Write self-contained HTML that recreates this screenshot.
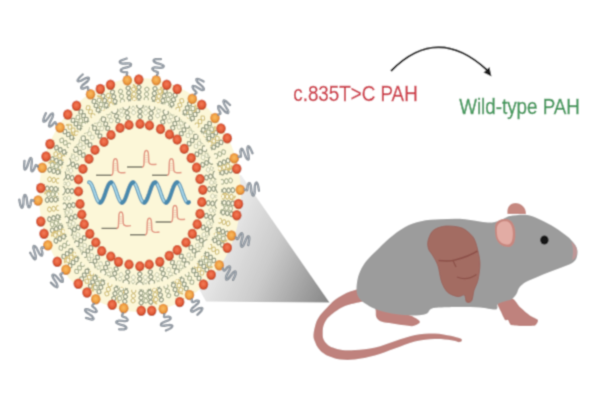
<!DOCTYPE html>
<html><head><meta charset="utf-8"><title>LNP PAH</title>
<style>html,body{margin:0;padding:0;background:#fff;width:600px;height:400px;overflow:hidden}svg{display:block}</style>
</head><body><svg width="600" height="400" viewBox="0 0 600 400"><defs><filter id="bl" x="0" y="0" width="600" height="400" filterUnits="userSpaceOnUse"><feConvolveMatrix order="3" kernelMatrix="1 4 1 4 12 4 1 4 1" divisor="32" edgeMode="duplicate"/></filter><linearGradient id="cone" x1="215" y1="240" x2="332" y2="290" gradientUnits="userSpaceOnUse"><stop offset="0" stop-color="#ececec"/><stop offset="0.45" stop-color="#cbcbcb"/><stop offset="1" stop-color="#888888"/></linearGradient><radialGradient id="dotR" cx="0.48" cy="0.45" r="0.55"><stop offset="0" stop-color="#f47c58"/><stop offset="0.55" stop-color="#e45f3b"/><stop offset="0.85" stop-color="#cc4e2c"/><stop offset="1" stop-color="#b54624"/></radialGradient><radialGradient id="dotL" cx="0.48" cy="0.45" r="0.55"><stop offset="0" stop-color="#f9bc62"/><stop offset="0.55" stop-color="#f0a044"/><stop offset="0.85" stop-color="#de8a32"/><stop offset="1" stop-color="#c8782a"/></radialGradient></defs><g filter="url(#bl)"><rect width="600" height="400" fill="#fff"/><polygon points="241,175 329.5,302.5 206,301.5 150,200" fill="url(#cone)"/><ellipse cx="140.0" cy="195.0" rx="101" ry="117" fill="#fcf7d8"/><g stroke-linejoin="round"><polyline points="138.9,84.8 138.9,85.8 138.9,86.8 138.9,87.7 138.9,88.7 138.9,89.7 138.9,90.7 138.9,91.7 138.9,92.6 138.9,93.6 139.0,94.6 139.0,95.6 139.0,96.6 139.0,97.5 139.0,98.5 139.0,99.5 139.0,100.5" fill="none" stroke="#fdf9e2" stroke-width="4.2"/><polyline points="138.9,84.8 140.2,85.8 141.0,86.7 141.0,87.7 140.2,88.7 138.9,89.7 137.6,90.7 136.8,91.7 136.9,92.7 137.7,93.6 139.0,94.6 140.3,95.6 141.1,96.5 141.1,97.5 140.2,98.5 138.9,99.5 137.6,100.5" fill="none" stroke="#939c82" stroke-width="1.25"/><polyline points="138.9,84.8 137.6,85.8 136.8,86.8 136.8,87.8 137.6,88.7 138.9,89.7 140.2,90.7 141.0,91.6 141.0,92.6 140.2,93.6 138.9,94.6 137.6,95.6 136.9,96.6 136.9,97.6 137.8,98.5 139.1,99.5 140.4,100.4" fill="none" stroke="#939c82" stroke-width="1.25"/><polyline points="127.9,85.7 128.0,86.7 128.1,87.6 128.2,88.6 128.3,89.6 128.4,90.6 128.6,91.5 128.7,92.5 128.8,93.5 128.9,94.4 129.0,95.4 129.1,96.4 129.2,97.3 129.3,98.3 129.4,99.3 129.5,100.3 129.6,101.2" fill="none" stroke="#fdf9e2" stroke-width="4.2"/><polyline points="127.9,85.7 129.3,86.5 130.2,87.3 130.3,88.3 129.6,89.4 128.4,90.6 127.2,91.7 126.6,92.8 126.7,93.8 127.6,94.6 129.0,95.4 130.4,96.2 131.3,97.0 131.4,98.0 130.6,99.1 129.4,100.3 128.3,101.4" fill="none" stroke="#939c82" stroke-width="1.25"/><polyline points="127.9,85.7 126.7,86.9 126.0,87.9 126.2,88.9 127.1,89.8 128.5,90.5 129.9,91.3 130.7,92.2 130.8,93.2 130.1,94.2 128.9,95.4 127.8,96.6 127.1,97.7 127.3,98.6 128.2,99.5 129.6,100.2 131.0,101.0" fill="none" stroke="#939c82" stroke-width="1.25"/><polyline points="133.6,85.1 134.9,86.2 135.8,87.4 136.2,88.6 135.9,89.9 135.1,91.2 134.0,92.6 132.9,93.9 132.1,95.2 131.8,96.5 132.2,97.8 133.2,98.9 134.5,100.1" fill="none" stroke="#dcc277" stroke-width="1.9" stroke-linecap="round"/><polyline points="111.8,89.8 112.1,90.7 112.3,91.6 112.6,92.6 112.8,93.5 113.1,94.4 113.3,95.4 113.6,96.3 113.8,97.2 114.1,98.2 114.3,99.1 114.6,100.0 114.8,101.0 115.1,101.9 115.3,102.8 115.6,103.8 115.8,104.7" fill="none" stroke="#fdf9e2" stroke-width="4.2"/><polyline points="111.8,89.8 113.3,90.2 114.3,90.9 114.6,91.8 114.1,93.1 113.1,94.4 112.1,95.8 111.6,97.0 111.9,97.9 112.9,98.6 114.4,99.1 115.9,99.6 116.9,100.2 117.1,101.2 116.5,102.4 115.5,103.8 114.5,105.2" fill="none" stroke="#939c82" stroke-width="1.25"/><polyline points="111.8,89.8 110.8,91.1 110.3,92.3 110.6,93.3 111.6,93.9 113.1,94.4 114.6,94.9 115.6,95.6 115.8,96.5 115.3,97.7 114.3,99.1 113.3,100.5 112.8,101.7 113.1,102.6 114.2,103.3 115.7,103.7 117.2,104.2" fill="none" stroke="#939c82" stroke-width="1.25"/><polyline points="102.1,93.9 102.5,94.8 102.8,95.7 103.2,96.6 103.5,97.5 103.8,98.4 104.2,99.3 104.5,100.2 104.8,101.1 105.2,102.0 105.5,102.9 105.8,103.8 106.2,104.7 106.5,105.6 106.9,106.5 107.2,107.4 107.5,108.3" fill="none" stroke="#fdf9e2" stroke-width="4.2"/><polyline points="102.1,93.9 103.7,94.2 104.7,94.8 105.1,95.7 104.7,96.9 103.8,98.4 102.9,99.9 102.6,101.2 102.9,102.1 104.0,102.6 105.6,102.9 107.1,103.2 108.1,103.7 108.4,104.6 108.0,105.9 107.1,107.4 106.3,108.9" fill="none" stroke="#939c82" stroke-width="1.25"/><polyline points="102.1,93.9 101.3,95.4 100.9,96.7 101.2,97.6 102.3,98.1 103.9,98.4 105.4,98.7 106.4,99.2 106.7,100.1 106.3,101.4 105.5,102.9 104.6,104.4 104.2,105.7 104.6,106.6 105.7,107.1 107.3,107.3 108.8,107.7" fill="none" stroke="#939c82" stroke-width="1.25"/><polyline points="93.0,99.2 93.4,100.1 93.8,100.9 94.2,101.8 94.6,102.6 95.1,103.5 95.5,104.3 95.9,105.2 96.3,106.0 96.7,106.9 97.2,107.8 97.6,108.6 98.0,109.5 98.4,110.3 98.8,111.2 99.2,112.0 99.7,112.9" fill="none" stroke="#fdf9e2" stroke-width="4.2"/><polyline points="93.0,99.2 94.5,99.4 95.6,99.7 96.0,100.6 95.8,101.9 95.0,103.5 94.3,105.1 94.1,106.4 94.5,107.2 95.7,107.6 97.2,107.7 98.7,107.8 99.8,108.2 100.2,109.1 99.9,110.5 99.2,112.1 98.5,113.6" fill="none" stroke="#939c82" stroke-width="1.25"/><polyline points="93.0,99.2 92.3,100.8 92.0,102.2 92.4,103.0 93.5,103.4 95.1,103.5 96.6,103.6 97.7,104.0 98.1,104.9 97.8,106.2 97.1,107.8 96.4,109.4 96.2,110.7 96.6,111.5 97.8,111.9 99.3,111.9 100.9,112.1" fill="none" stroke="#939c82" stroke-width="1.25"/><polyline points="98.0,96.1 99.6,96.7 100.8,97.3 101.6,98.3 101.8,99.6 101.5,101.2 100.9,102.9 100.3,104.7 100.0,106.2 100.2,107.5 100.9,108.5 102.2,109.2 103.8,109.7" fill="none" stroke="#dcc277" stroke-width="1.9" stroke-linecap="round"/><polyline points="79.5,110.0 80.1,110.8 80.6,111.5 81.1,112.3 81.7,113.0 82.2,113.8 82.8,114.5 83.3,115.3 83.8,116.0 84.4,116.8 84.9,117.6 85.4,118.3 86.0,119.1 86.5,119.8 87.0,120.6 87.6,121.3 88.1,122.1" fill="none" stroke="#fdf9e2" stroke-width="4.2"/><polyline points="79.5,110.0 81.1,109.8 82.2,110.0 82.8,110.7 82.7,112.1 82.2,113.8 81.7,115.5 81.7,116.8 82.2,117.6 83.4,117.7 84.9,117.5 86.5,117.3 87.6,117.5 88.1,118.3 88.0,119.7 87.5,121.4 87.1,123.1" fill="none" stroke="#939c82" stroke-width="1.25"/><polyline points="79.5,110.0 79.1,111.7 79.0,113.1 79.5,113.8 80.7,114.0 82.2,113.8 83.8,113.6 84.9,113.7 85.4,114.5 85.3,115.9 84.9,117.6 84.4,119.3 84.3,120.6 84.9,121.3 86.1,121.5 87.7,121.3 89.2,121.1" fill="none" stroke="#939c82" stroke-width="1.25"/><polyline points="71.5,118.7 72.1,119.3 72.7,120.0 73.3,120.7 73.9,121.4 74.5,122.1 75.1,122.7 75.7,123.4 76.4,124.1 77.0,124.8 77.6,125.4 78.2,126.1 78.8,126.8 79.4,127.5 80.0,128.2 80.6,128.8 81.2,129.5" fill="none" stroke="#fdf9e2" stroke-width="4.2"/><polyline points="71.5,118.7 73.0,118.3 74.2,118.3 74.8,119.0 74.8,120.3 74.5,122.1 74.2,123.8 74.3,125.2 74.9,125.8 76.1,125.8 77.6,125.4 79.1,125.0 80.3,125.0 80.8,125.7 80.9,127.1 80.5,128.9 80.3,130.7" fill="none" stroke="#939c82" stroke-width="1.25"/><polyline points="71.5,118.7 71.2,120.4 71.3,121.8 71.9,122.4 73.0,122.4 74.5,122.0 76.1,121.6 77.2,121.6 77.8,122.3 77.8,123.7 77.5,125.5 77.2,127.2 77.3,128.6 78.0,129.2 79.2,129.2 80.7,128.8 82.2,128.4" fill="none" stroke="#939c82" stroke-width="1.25"/><polyline points="63.2,130.2 63.9,130.8 64.5,131.3 65.2,131.9 65.9,132.5 66.6,133.1 67.3,133.6 68.0,134.2 68.6,134.8 69.3,135.4 70.0,135.9 70.7,136.5 71.4,137.1 72.0,137.7 72.7,138.2 73.4,138.8 74.1,139.4" fill="none" stroke="#fdf9e2" stroke-width="4.2"/><polyline points="63.2,130.2 64.6,129.5 65.8,129.4 66.4,129.9 66.7,131.3 66.6,133.1 66.5,134.9 66.7,136.2 67.4,136.7 68.6,136.5 70.0,135.9 71.5,135.2 72.6,135.1 73.3,135.7 73.4,137.1 73.4,138.9 73.3,140.7" fill="none" stroke="#939c82" stroke-width="1.25"/><polyline points="63.2,130.2 63.1,132.0 63.3,133.3 64.0,133.9 65.2,133.7 66.6,133.0 68.0,132.4 69.2,132.2 69.9,132.8 70.0,134.2 70.0,136.0 69.9,137.8 70.1,139.1 70.8,139.6 72.0,139.4 73.5,138.7 74.9,138.1" fill="none" stroke="#939c82" stroke-width="1.25"/><polyline points="66.7,125.0 68.3,124.7 69.7,124.7 70.7,125.2 71.3,126.3 71.6,127.9 71.7,129.7 71.8,131.6 72.0,133.2 72.7,134.3 73.7,134.8 75.1,134.8 76.7,134.5" fill="none" stroke="#dcc277" stroke-width="1.9" stroke-linecap="round"/><polyline points="54.6,146.6 55.4,147.1 56.2,147.5 56.9,147.9 57.7,148.3 58.4,148.8 59.2,149.2 59.9,149.6 60.7,150.1 61.5,150.5 62.2,150.9 63.0,151.4 63.7,151.8 64.5,152.2 65.3,152.6 66.0,153.1 66.8,153.5" fill="none" stroke="#fdf9e2" stroke-width="4.2"/><polyline points="54.6,146.6 56.0,145.7 57.1,145.3 57.8,145.7 58.2,147.0 58.4,148.8 58.6,150.6 59.0,151.8 59.8,152.2 60.9,151.8 62.2,150.9 63.6,150.0 64.7,149.6 65.4,150.1 65.8,151.4 66.0,153.2 66.2,154.9" fill="none" stroke="#939c82" stroke-width="1.25"/><polyline points="54.6,146.6 54.8,148.4 55.2,149.7 56.0,150.1 57.1,149.7 58.4,148.7 59.8,147.8 60.9,147.4 61.6,147.9 62.0,149.2 62.2,151.0 62.4,152.8 62.8,154.0 63.6,154.4 64.7,153.9 66.1,153.0 67.4,152.1" fill="none" stroke="#939c82" stroke-width="1.25"/><polyline points="50.4,158.3 51.2,158.6 52.0,159.0 52.8,159.3 53.6,159.6 54.4,159.9 55.2,160.3 56.0,160.6 56.8,160.9 57.6,161.2 58.4,161.6 59.2,161.9 60.0,162.2 60.8,162.5 61.6,162.9 62.4,163.2 63.1,163.5" fill="none" stroke="#fdf9e2" stroke-width="4.2"/><polyline points="50.4,158.3 51.6,157.2 52.7,156.7 53.5,157.0 54.0,158.2 54.4,160.0 54.8,161.7 55.3,162.9 56.1,163.2 57.2,162.6 58.4,161.5 59.6,160.4 60.7,159.9 61.5,160.3 62.0,161.5 62.3,163.3 62.7,165.0" fill="none" stroke="#939c82" stroke-width="1.25"/><polyline points="50.4,158.3 50.8,160.1 51.3,161.3 52.1,161.6 53.2,161.0 54.4,159.9 55.6,158.8 56.7,158.3 57.5,158.6 58.0,159.9 58.4,161.6 58.7,163.4 59.3,164.5 60.1,164.8 61.2,164.2 62.4,163.1 63.6,162.0" fill="none" stroke="#939c82" stroke-width="1.25"/><polyline points="47.6,169.2 48.5,169.4 49.3,169.7 50.1,169.9 50.9,170.1 51.7,170.4 52.6,170.6 53.4,170.8 54.2,171.0 55.0,171.3 55.8,171.5 56.7,171.7 57.5,172.0 58.3,172.2 59.1,172.4 59.9,172.7 60.8,172.9" fill="none" stroke="#fdf9e2" stroke-width="4.2"/><polyline points="47.6,169.2 48.8,168.0 49.8,167.3 50.6,167.6 51.2,168.7 51.7,170.4 52.2,172.1 52.9,173.2 53.7,173.4 54.7,172.7 55.9,171.4 57.0,170.2 58.0,169.6 58.8,169.9 59.4,171.0 59.9,172.8 60.4,174.4" fill="none" stroke="#939c82" stroke-width="1.25"/><polyline points="47.6,169.2 48.2,170.9 48.8,172.0 49.6,172.3 50.6,171.6 51.7,170.3 52.9,169.1 53.9,168.4 54.7,168.7 55.3,169.9 55.8,171.6 56.3,173.3 57.0,174.3 57.8,174.5 58.8,173.8 60.0,172.5 61.1,171.3" fill="none" stroke="#939c82" stroke-width="1.25"/><polyline points="49.1,162.8 50.5,161.9 51.8,161.3 52.9,161.3 53.9,162.0 54.7,163.3 55.4,165.0 56.0,166.7 56.8,168.1 57.8,168.8 58.9,168.8 60.2,168.2 61.6,167.2" fill="none" stroke="#dcc277" stroke-width="1.9" stroke-linecap="round"/><polyline points="45.2,188.3 46.0,188.4 46.9,188.4 47.7,188.5 48.5,188.5 49.4,188.6 50.2,188.7 51.1,188.7 51.9,188.8 52.8,188.8 53.6,188.9 54.4,189.0 55.3,189.0 56.1,189.1 57.0,189.1 57.8,189.2 58.7,189.3" fill="none" stroke="#fdf9e2" stroke-width="4.2"/><polyline points="45.2,188.3 46.1,186.9 47.0,186.0 47.8,186.1 48.6,187.1 49.4,188.6 50.1,190.2 50.9,191.2 51.8,191.2 52.7,190.3 53.6,188.8 54.5,187.4 55.4,186.6 56.2,186.7 57.0,187.7 57.8,189.3 58.6,190.8" fill="none" stroke="#939c82" stroke-width="1.25"/><polyline points="45.2,188.3 45.9,189.9 46.7,190.9 47.6,190.9 48.5,190.0 49.4,188.6 50.3,187.1 51.2,186.3 52.0,186.4 52.8,187.4 53.6,189.0 54.4,190.5 55.2,191.5 56.0,191.5 56.9,190.6 57.8,189.1 58.7,187.7" fill="none" stroke="#939c82" stroke-width="1.25"/><polyline points="45.1,200.1 45.9,200.1 46.8,200.0 47.6,200.0 48.5,199.9 49.3,199.9 50.2,199.8 51.0,199.8 51.8,199.8 52.7,199.7 53.5,199.7 54.4,199.6 55.2,199.6 56.1,199.5 56.9,199.5 57.7,199.4 58.6,199.4" fill="none" stroke="#fdf9e2" stroke-width="4.2"/><polyline points="45.1,200.1 45.9,198.6 46.7,197.6 47.5,197.6 48.4,198.5 49.3,199.9 50.2,201.4 51.1,202.2 51.9,202.2 52.7,201.2 53.5,199.6 54.3,198.1 55.1,197.1 56.0,197.1 56.8,198.1 57.7,199.5 58.7,201.0" fill="none" stroke="#939c82" stroke-width="1.25"/><polyline points="45.1,200.1 46.0,201.6 46.9,202.5 47.7,202.4 48.5,201.4 49.3,199.9 50.1,198.3 50.9,197.4 51.7,197.3 52.6,198.3 53.5,199.7 54.4,201.2 55.3,202.0 56.2,201.9 57.0,200.9 57.7,199.3 58.5,197.8" fill="none" stroke="#939c82" stroke-width="1.25"/><polyline points="45.0,193.5 46.1,192.1 47.2,191.1 48.3,190.8 49.4,191.2 50.4,192.2 51.5,193.6 52.6,195.0 53.6,196.1 54.7,196.4 55.8,196.1 56.9,195.1 58.0,193.7" fill="none" stroke="#dcc277" stroke-width="1.9" stroke-linecap="round"/><polyline points="47.4,219.7 48.2,219.5 49.1,219.3 49.9,219.1 50.7,218.9 51.5,218.6 52.4,218.4 53.2,218.2 54.0,218.0 54.8,217.8 55.6,217.5 56.5,217.3 57.3,217.1 58.1,216.9 58.9,216.7 59.8,216.4 60.6,216.2" fill="none" stroke="#fdf9e2" stroke-width="4.2"/><polyline points="47.4,219.7 48.0,218.0 48.6,216.9 49.4,216.7 50.4,217.4 51.5,218.7 52.7,219.9 53.7,220.6 54.5,220.3 55.1,219.2 55.6,217.5 56.2,215.8 56.8,214.7 57.6,214.5 58.7,215.3 59.8,216.5 60.9,217.8" fill="none" stroke="#939c82" stroke-width="1.25"/><polyline points="47.4,219.7 48.5,221.0 49.5,221.7 50.4,221.4 51.0,220.3 51.5,218.6 52.1,216.9 52.7,215.8 53.5,215.6 54.5,216.3 55.7,217.6 56.8,218.8 57.8,219.5 58.6,219.2 59.2,218.0 59.7,216.3 60.3,214.7" fill="none" stroke="#939c82" stroke-width="1.25"/><polyline points="50.3,231.2 51.1,230.9 51.9,230.6 52.7,230.3 53.5,229.9 54.3,229.6 55.1,229.3 55.9,229.0 56.7,228.6 57.4,228.3 58.2,228.0 59.0,227.7 59.8,227.4 60.6,227.0 61.4,226.7 62.2,226.4 63.0,226.1" fill="none" stroke="#fdf9e2" stroke-width="4.2"/><polyline points="50.3,231.2 50.6,229.5 51.2,228.3 52.0,228.0 53.0,228.5 54.3,229.6 55.5,230.7 56.5,231.3 57.3,230.9 57.9,229.7 58.2,227.9 58.6,226.2 59.1,225.0 60.0,224.8 61.0,225.4 62.3,226.5 63.5,227.6" fill="none" stroke="#939c82" stroke-width="1.25"/><polyline points="50.3,231.2 51.5,232.3 52.6,232.9 53.4,232.5 53.9,231.3 54.3,229.6 54.6,227.8 55.2,226.7 56.0,226.4 57.0,227.0 58.3,228.1 59.5,229.2 60.5,229.7 61.3,229.3 61.8,228.1 62.2,226.3 62.6,224.6" fill="none" stroke="#939c82" stroke-width="1.25"/><polyline points="54.0,241.9 54.8,241.5 55.6,241.1 56.3,240.7 57.1,240.2 57.9,239.8 58.6,239.4 59.4,239.0 60.1,238.6 60.9,238.2 61.7,237.7 62.4,237.3 63.2,236.9 64.0,236.5 64.7,236.1 65.5,235.7 66.2,235.2" fill="none" stroke="#fdf9e2" stroke-width="4.2"/><polyline points="54.0,241.9 54.2,240.1 54.7,238.9 55.4,238.5 56.5,238.9 57.9,239.8 59.2,240.8 60.3,241.2 61.0,240.7 61.4,239.5 61.6,237.7 61.9,235.9 62.3,234.7 63.1,234.3 64.2,234.8 65.5,235.7 66.8,236.7" fill="none" stroke="#939c82" stroke-width="1.25"/><polyline points="54.0,241.9 55.3,242.8 56.5,243.3 57.2,242.8 57.6,241.6 57.8,239.8 58.1,238.0 58.5,236.8 59.3,236.4 60.4,236.8 61.7,237.8 63.0,238.7 64.1,239.1 64.8,238.7 65.2,237.4 65.4,235.6 65.7,233.8" fill="none" stroke="#939c82" stroke-width="1.25"/><polyline points="51.8,235.8 52.3,234.1 53.0,232.7 53.9,231.9 55.0,231.7 56.3,232.2 57.8,233.0 59.3,233.9 60.6,234.3 61.7,234.2 62.6,233.4 63.3,232.0 63.8,230.2" fill="none" stroke="#dcc277" stroke-width="1.9" stroke-linecap="round"/><polyline points="62.0,257.9 62.7,257.4 63.4,256.8 64.1,256.2 64.8,255.7 65.5,255.1 66.2,254.6 66.9,254.0 67.5,253.4 68.2,252.9 68.9,252.3 69.6,251.8 70.3,251.2 71.0,250.7 71.7,250.1 72.4,249.5 73.1,249.0" fill="none" stroke="#fdf9e2" stroke-width="4.2"/><polyline points="62.0,257.9 62.0,256.1 62.2,254.8 62.9,254.3 64.0,254.5 65.5,255.2 66.9,255.8 68.1,256.0 68.7,255.4 69.0,254.1 68.9,252.3 68.9,250.5 69.1,249.2 69.8,248.7 71.0,248.9 72.4,249.6 73.9,250.3" fill="none" stroke="#939c82" stroke-width="1.25"/><polyline points="62.0,257.9 63.4,258.6 64.6,258.8 65.3,258.2 65.5,256.9 65.5,255.1 65.4,253.3 65.7,252.0 66.4,251.5 67.5,251.7 69.0,252.4 70.4,253.1 71.5,253.2 72.2,252.6 72.4,251.3 72.3,249.4 72.3,247.7" fill="none" stroke="#939c82" stroke-width="1.25"/><polyline points="68.4,267.4 69.0,266.8 69.6,266.1 70.3,265.5 70.9,264.8 71.6,264.2 72.2,263.5 72.8,262.9 73.5,262.3 74.1,261.6 74.7,261.0 75.4,260.3 76.0,259.7 76.6,259.0 77.3,258.4 77.9,257.8 78.6,257.1" fill="none" stroke="#fdf9e2" stroke-width="4.2"/><polyline points="68.4,267.4 68.2,265.6 68.3,264.3 68.9,263.6 70.1,263.7 71.6,264.2 73.1,264.7 74.2,264.7 74.8,264.1 74.9,262.7 74.7,260.9 74.5,259.1 74.6,257.8 75.3,257.2 76.5,257.3 78.0,257.8 79.5,258.3" fill="none" stroke="#939c82" stroke-width="1.25"/><polyline points="68.4,267.4 69.9,267.9 71.0,267.9 71.7,267.3 71.8,265.9 71.5,264.2 71.3,262.4 71.4,261.1 72.1,260.4 73.3,260.5 74.8,261.0 76.3,261.5 77.4,261.5 78.0,260.8 78.1,259.5 77.9,257.7 77.7,255.9" fill="none" stroke="#939c82" stroke-width="1.25"/><polyline points="64.8,262.3 64.9,260.4 65.2,258.8 65.9,257.8 66.9,257.3 68.3,257.3 69.9,257.7 71.5,258.0 72.9,258.1 74.0,257.6 74.6,256.5 74.9,254.9 75.1,253.1" fill="none" stroke="#dcc277" stroke-width="1.9" stroke-linecap="round"/><polyline points="80.4,280.8 80.9,280.0 81.4,279.2 81.9,278.5 82.5,277.7 83.0,277.0 83.5,276.2 84.1,275.4 84.6,274.7 85.1,273.9 85.7,273.2 86.2,272.4 86.7,271.6 87.2,270.9 87.8,270.1 88.3,269.3 88.8,268.6" fill="none" stroke="#fdf9e2" stroke-width="4.2"/><polyline points="80.4,280.8 79.9,279.1 79.8,277.7 80.3,277.0 81.5,276.8 83.0,277.0 84.6,277.2 85.7,277.0 86.2,276.2 86.1,274.8 85.6,273.1 85.1,271.4 85.1,270.1 85.6,269.4 86.8,269.2 88.4,269.4 89.9,269.6" fill="none" stroke="#939c82" stroke-width="1.25"/><polyline points="80.4,280.8 81.9,281.0 83.0,280.8 83.6,280.0 83.5,278.7 83.0,276.9 82.5,275.2 82.4,273.9 83.0,273.2 84.2,273.0 85.7,273.2 87.2,273.4 88.4,273.2 88.8,272.4 88.7,271.0 88.2,269.3 87.8,267.6" fill="none" stroke="#939c82" stroke-width="1.25"/><polyline points="89.3,288.2 89.8,287.4 90.2,286.6 90.7,285.7 91.1,284.9 91.6,284.1 92.0,283.2 92.5,282.4 92.9,281.6 93.4,280.8 93.8,279.9 94.3,279.1 94.7,278.3 95.2,277.5 95.6,276.6 96.1,275.8 96.5,275.0" fill="none" stroke="#fdf9e2" stroke-width="4.2"/><polyline points="89.3,288.2 88.7,286.6 88.5,285.3 88.9,284.4 90.1,284.1 91.6,284.1 93.1,284.1 94.3,283.7 94.7,282.9 94.4,281.5 93.8,279.9 93.1,278.3 92.9,277.0 93.4,276.2 94.6,275.9 96.2,275.9 97.7,275.8" fill="none" stroke="#939c82" stroke-width="1.25"/><polyline points="89.3,288.2 90.9,288.2 92.0,287.9 92.4,287.0 92.2,285.7 91.6,284.1 90.9,282.4 90.7,281.1 91.2,280.3 92.3,280.0 93.9,280.0 95.4,279.9 96.5,279.6 96.9,278.7 96.7,277.4 96.0,275.7 95.4,274.1" fill="none" stroke="#939c82" stroke-width="1.25"/><polyline points="98.0,293.9 98.4,293.0 98.8,292.1 99.1,291.2 99.5,290.3 99.9,289.5 100.3,288.6 100.6,287.7 101.0,286.8 101.4,286.0 101.7,285.1 102.1,284.2 102.5,283.3 102.9,282.4 103.2,281.6 103.6,280.7 104.0,279.8" fill="none" stroke="#fdf9e2" stroke-width="4.2"/><polyline points="98.0,293.9 97.2,292.3 96.9,291.0 97.3,290.2 98.4,289.7 99.9,289.5 101.4,289.3 102.5,288.8 102.9,287.9 102.5,286.6 101.7,285.0 100.9,283.5 100.6,282.2 101.0,281.4 102.1,280.9 103.7,280.7 105.2,280.5" fill="none" stroke="#939c82" stroke-width="1.25"/><polyline points="98.0,293.9 99.6,293.6 100.6,293.2 101.0,292.3 100.7,291.0 99.9,289.5 99.1,287.9 98.7,286.6 99.1,285.8 100.3,285.3 101.8,285.1 103.3,284.9 104.4,284.4 104.7,283.5 104.3,282.2 103.5,280.6 102.8,279.1" fill="none" stroke="#939c82" stroke-width="1.25"/><polyline points="93.0,290.8 92.5,289.0 92.3,287.4 92.5,286.1 93.3,285.2 94.6,284.6 96.2,284.2 97.8,283.8 99.1,283.2 99.9,282.3 100.2,281.0 99.9,279.4 99.4,277.7" fill="none" stroke="#dcc277" stroke-width="1.9" stroke-linecap="round"/><polyline points="113.2,300.7 113.5,299.8 113.7,298.9 113.9,297.9 114.2,297.0 114.4,296.0 114.7,295.1 114.9,294.2 115.1,293.2 115.4,292.3 115.6,291.3 115.8,290.4 116.1,289.5 116.3,288.5 116.6,287.6 116.8,286.6 117.0,285.7" fill="none" stroke="#fdf9e2" stroke-width="4.2"/><polyline points="113.2,300.7 112.2,299.4 111.7,298.2 111.9,297.2 113.0,296.6 114.4,296.0 115.9,295.5 116.9,294.8 117.1,293.9 116.6,292.7 115.5,291.3 114.6,290.0 114.1,288.8 114.3,287.9 115.4,287.2 116.9,286.7 118.3,286.2" fill="none" stroke="#939c82" stroke-width="1.25"/><polyline points="113.2,300.7 114.7,300.2 115.7,299.5 115.9,298.6 115.4,297.4 114.4,296.0 113.4,294.7 112.9,293.5 113.1,292.5 114.2,291.9 115.7,291.4 117.1,290.8 118.1,290.2 118.3,289.2 117.7,288.0 116.7,286.6 115.7,285.3" fill="none" stroke="#939c82" stroke-width="1.25"/><polyline points="124.4,303.7 124.5,302.7 124.7,301.8 124.8,300.8 125.0,299.8 125.1,298.9 125.2,297.9 125.4,296.9 125.5,296.0 125.7,295.0 125.8,294.1 125.9,293.1 126.1,292.1 126.2,291.2 126.3,290.2 126.5,289.2 126.6,288.3" fill="none" stroke="#fdf9e2" stroke-width="4.2"/><polyline points="124.4,303.7 123.3,302.5 122.6,301.4 122.8,300.4 123.7,299.6 125.1,298.9 126.5,298.2 127.5,297.3 127.6,296.4 126.9,295.3 125.7,294.0 124.6,292.8 124.0,291.7 124.2,290.8 125.1,290.0 126.6,289.2 128.0,288.5" fill="none" stroke="#939c82" stroke-width="1.25"/><polyline points="124.4,303.7 125.8,303.0 126.8,302.2 126.9,301.2 126.2,300.1 125.1,298.9 123.9,297.7 123.3,296.5 123.5,295.6 124.4,294.8 125.9,294.1 127.3,293.3 128.2,292.5 128.2,291.5 127.6,290.4 126.4,289.2 125.3,288.0" fill="none" stroke="#939c82" stroke-width="1.25"/><polyline points="118.8,302.4 117.9,300.9 117.3,299.4 117.2,298.1 117.8,297.0 118.9,296.0 120.3,295.1 121.7,294.2 122.8,293.2 123.3,292.0 123.3,290.7 122.6,289.3 121.7,287.7" fill="none" stroke="#dcc277" stroke-width="1.9" stroke-linecap="round"/><polyline points="141.2,305.2 141.2,304.2 141.2,303.2 141.2,302.3 141.1,301.3 141.1,300.3 141.1,299.3 141.1,298.3 141.1,297.4 141.1,296.4 141.1,295.4 141.1,294.4 141.1,293.4 141.1,292.5 141.0,291.5 141.0,290.5 141.0,289.5" fill="none" stroke="#fdf9e2" stroke-width="4.2"/><polyline points="141.2,305.2 139.9,304.2 139.1,303.3 139.1,302.3 139.9,301.3 141.2,300.3 142.4,299.3 143.2,298.3 143.2,297.3 142.3,296.4 141.0,295.4 139.7,294.4 138.9,293.5 139.0,292.5 139.8,291.5 141.1,290.5 142.4,289.5" fill="none" stroke="#939c82" stroke-width="1.25"/><polyline points="141.2,305.2 142.5,304.2 143.3,303.2 143.2,302.2 142.4,301.3 141.1,300.3 139.8,299.3 139.0,298.4 139.0,297.4 139.8,296.4 141.1,295.4 142.4,294.4 143.2,293.4 143.1,292.4 142.3,291.5 140.9,290.5 139.6,289.6" fill="none" stroke="#939c82" stroke-width="1.25"/><polyline points="151.1,304.5 151.0,303.5 150.9,302.5 150.8,301.5 150.7,300.6 150.6,299.6 150.5,298.6 150.4,297.6 150.3,296.7 150.2,295.7 150.1,294.7 150.0,293.8 149.9,292.8 149.8,291.8 149.7,290.8 149.6,289.9 149.5,288.9" fill="none" stroke="#fdf9e2" stroke-width="4.2"/><polyline points="151.1,304.5 149.7,303.7 148.8,302.8 148.7,301.8 149.4,300.7 150.6,299.6 151.8,298.4 152.5,297.4 152.3,296.4 151.4,295.5 150.0,294.7 148.6,293.9 147.8,293.1 147.7,292.1 148.5,291.0 149.7,289.9 150.9,288.7" fill="none" stroke="#939c82" stroke-width="1.25"/><polyline points="151.1,304.5 152.3,303.3 152.9,302.2 152.8,301.3 151.9,300.4 150.5,299.6 149.2,298.8 148.3,297.9 148.2,297.0 148.9,295.9 150.1,294.7 151.3,293.6 152.0,292.5 151.8,291.5 150.9,290.7 149.5,289.9 148.1,289.1" fill="none" stroke="#939c82" stroke-width="1.25"/><polyline points="161.9,302.2 161.7,301.3 161.5,300.3 161.3,299.4 161.1,298.4 160.9,297.5 160.7,296.5 160.5,295.6 160.3,294.6 160.1,293.7 159.9,292.7 159.7,291.8 159.5,290.8 159.3,289.9 159.2,288.9 159.0,288.0 158.8,287.0" fill="none" stroke="#fdf9e2" stroke-width="4.2"/><polyline points="161.9,302.2 160.4,301.6 159.4,300.9 159.3,299.9 159.9,298.8 160.9,297.5 162.0,296.2 162.6,295.0 162.3,294.1 161.3,293.3 159.9,292.7 158.4,292.1 157.5,291.4 157.3,290.4 158.0,289.2 159.0,287.9 160.1,286.6" fill="none" stroke="#939c82" stroke-width="1.25"/><polyline points="161.9,302.2 162.9,300.9 163.5,299.8 163.3,298.8 162.3,298.1 160.9,297.5 159.4,296.9 158.5,296.1 158.3,295.2 158.9,294.0 160.0,292.7 161.0,291.4 161.6,290.2 161.4,289.3 160.3,288.6 158.9,288.0 157.4,287.4" fill="none" stroke="#939c82" stroke-width="1.25"/><polyline points="156.3,303.6 154.9,302.6 153.9,301.5 153.4,300.3 153.5,299.0 154.2,297.6 155.2,296.1 156.2,294.7 156.9,293.3 157.0,291.9 156.5,290.8 155.4,289.7 154.1,288.7" fill="none" stroke="#dcc277" stroke-width="1.9" stroke-linecap="round"/><polyline points="177.6,296.2 177.2,295.3 176.9,294.4 176.6,293.5 176.2,292.6 175.9,291.7 175.6,290.8 175.2,289.9 174.9,289.0 174.6,288.1 174.2,287.2 173.9,286.3 173.6,285.4 173.2,284.5 172.9,283.6 172.6,282.7 172.2,281.8" fill="none" stroke="#fdf9e2" stroke-width="4.2"/><polyline points="177.6,296.2 176.0,295.9 175.0,295.4 174.6,294.5 175.1,293.2 175.9,291.7 176.8,290.2 177.2,289.0 176.8,288.1 175.7,287.6 174.2,287.3 172.6,287.0 171.6,286.4 171.3,285.5 171.8,284.2 172.6,282.7 173.5,281.2" fill="none" stroke="#939c82" stroke-width="1.25"/><polyline points="177.6,296.2 178.4,294.7 178.8,293.5 178.5,292.6 177.4,292.0 175.9,291.7 174.3,291.4 173.3,290.9 173.0,290.0 173.4,288.7 174.3,287.2 175.1,285.7 175.5,284.5 175.1,283.6 174.0,283.1 172.5,282.8 171.0,282.5" fill="none" stroke="#939c82" stroke-width="1.25"/><polyline points="187.3,290.6 186.9,289.7 186.5,288.9 186.0,288.0 185.6,287.2 185.2,286.3 184.8,285.5 184.4,284.6 183.9,283.8 183.5,282.9 183.1,282.1 182.7,281.2 182.3,280.4 181.8,279.5 181.4,278.7 181.0,277.8 180.6,277.0" fill="none" stroke="#fdf9e2" stroke-width="4.2"/><polyline points="187.3,290.6 185.8,290.5 184.6,290.1 184.2,289.2 184.5,287.9 185.2,286.3 185.9,284.7 186.2,283.4 185.7,282.6 184.6,282.2 183.1,282.1 181.5,282.0 180.4,281.6 180.1,280.7 180.4,279.4 181.1,277.8 181.8,276.2" fill="none" stroke="#939c82" stroke-width="1.25"/><polyline points="187.3,290.6 188.0,289.0 188.3,287.7 187.9,286.8 186.7,286.4 185.2,286.3 183.6,286.2 182.5,285.8 182.1,285.0 182.4,283.6 183.2,282.0 183.9,280.5 184.1,279.2 183.6,278.3 182.5,278.0 180.9,277.9 179.4,277.8" fill="none" stroke="#939c82" stroke-width="1.25"/><polyline points="182.3,293.7 180.7,293.2 179.5,292.5 178.7,291.5 178.5,290.3 178.8,288.7 179.4,286.9 180.0,285.2 180.3,283.6 180.1,282.3 179.3,281.4 178.1,280.7 176.5,280.2" fill="none" stroke="#dcc277" stroke-width="1.9" stroke-linecap="round"/><polyline points="200.4,280.1 199.8,279.3 199.3,278.6 198.8,277.8 198.2,277.1 197.7,276.3 197.2,275.6 196.6,274.8 196.1,274.0 195.5,273.3 195.0,272.5 194.5,271.8 193.9,271.0 193.4,270.3 192.9,269.5 192.3,268.8 191.8,268.0" fill="none" stroke="#fdf9e2" stroke-width="4.2"/><polyline points="200.4,280.1 198.8,280.3 197.7,280.1 197.2,279.4 197.2,278.0 197.7,276.3 198.2,274.6 198.2,273.2 197.7,272.5 196.5,272.4 195.0,272.6 193.4,272.8 192.3,272.6 191.8,271.8 191.9,270.4 192.4,268.7 192.9,267.0" fill="none" stroke="#939c82" stroke-width="1.25"/><polyline points="200.4,280.1 200.8,278.4 200.9,277.0 200.4,276.3 199.2,276.1 197.7,276.3 196.1,276.5 195.0,276.3 194.5,275.6 194.6,274.2 195.1,272.5 195.5,270.8 195.6,269.5 195.0,268.7 193.8,268.6 192.3,268.8 190.7,269.0" fill="none" stroke="#939c82" stroke-width="1.25"/><polyline points="208.4,271.5 207.8,270.8 207.1,270.2 206.5,269.5 205.9,268.8 205.3,268.1 204.7,267.4 204.1,266.8 203.5,266.1 202.9,265.4 202.3,264.7 201.7,264.0 201.1,263.4 200.5,262.7 199.9,262.0 199.3,261.3 198.6,260.6" fill="none" stroke="#fdf9e2" stroke-width="4.2"/><polyline points="208.4,271.5 206.9,271.9 205.7,271.9 205.1,271.2 205.0,269.9 205.3,268.1 205.6,266.3 205.6,265.0 204.9,264.4 203.8,264.4 202.2,264.8 200.7,265.2 199.6,265.1 199.0,264.4 199.0,263.0 199.3,261.3 199.6,259.5" fill="none" stroke="#939c82" stroke-width="1.25"/><polyline points="208.4,271.5 208.7,269.8 208.6,268.4 208.0,267.7 206.8,267.7 205.3,268.2 203.8,268.5 202.6,268.5 202.1,267.8 202.0,266.4 202.3,264.7 202.6,262.9 202.5,261.6 201.9,261.0 200.7,261.0 199.2,261.4 197.7,261.8" fill="none" stroke="#939c82" stroke-width="1.25"/><polyline points="215.5,261.9 214.8,261.3 214.1,260.7 213.5,260.1 212.8,259.5 212.1,258.9 211.5,258.3 210.8,257.8 210.1,257.2 209.4,256.6 208.8,256.0 208.1,255.4 207.4,254.8 206.8,254.2 206.1,253.6 205.4,253.0 204.8,252.4" fill="none" stroke="#fdf9e2" stroke-width="4.2"/><polyline points="215.5,261.9 214.0,262.5 212.9,262.7 212.2,262.1 212.0,260.7 212.2,258.9 212.3,257.1 212.1,255.8 211.4,255.2 210.2,255.4 208.7,256.0 207.3,256.6 206.2,256.7 205.5,256.1 205.4,254.7 205.5,252.9 205.6,251.1" fill="none" stroke="#939c82" stroke-width="1.25"/><polyline points="215.5,261.9 215.6,260.1 215.4,258.8 214.7,258.2 213.6,258.4 212.1,259.0 210.7,259.6 209.5,259.7 208.9,259.1 208.7,257.7 208.8,255.9 208.9,254.1 208.7,252.8 208.0,252.3 206.8,252.5 205.4,253.1 203.9,253.7" fill="none" stroke="#939c82" stroke-width="1.25"/><polyline points="211.9,267.0 210.3,267.3 208.9,267.2 207.9,266.7 207.3,265.6 207.0,264.0 207.0,262.1 206.9,260.2 206.7,258.6 206.1,257.5 205.0,257.0 203.7,257.0 202.1,257.2" fill="none" stroke="#dcc277" stroke-width="1.9" stroke-linecap="round"/><polyline points="224.3,245.9 223.5,245.5 222.8,245.0 222.0,244.6 221.3,244.1 220.5,243.6 219.8,243.2 219.0,242.7 218.3,242.3 217.5,241.8 216.8,241.4 216.0,240.9 215.3,240.5 214.5,240.0 213.8,239.6 213.0,239.1 212.3,238.7" fill="none" stroke="#fdf9e2" stroke-width="4.2"/><polyline points="224.3,245.9 222.9,246.8 221.8,247.2 221.0,246.7 220.7,245.4 220.5,243.6 220.4,241.8 220.0,240.6 219.2,240.2 218.1,240.6 216.7,241.5 215.4,242.3 214.3,242.7 213.6,242.2 213.2,240.8 213.1,239.0 212.9,237.3" fill="none" stroke="#939c82" stroke-width="1.25"/><polyline points="224.3,245.9 224.1,244.1 223.7,242.8 223.0,242.4 221.8,242.8 220.5,243.7 219.2,244.6 218.0,244.9 217.3,244.4 216.9,243.1 216.8,241.3 216.6,239.5 216.3,238.3 215.5,237.9 214.3,238.3 213.0,239.2 211.6,240.1" fill="none" stroke="#939c82" stroke-width="1.25"/><polyline points="228.8,234.3 228.0,233.9 227.2,233.6 226.4,233.2 225.6,232.9 224.8,232.5 224.0,232.2 223.2,231.8 222.5,231.5 221.7,231.1 220.9,230.8 220.1,230.4 219.3,230.1 218.5,229.8 217.7,229.4 216.9,229.1 216.1,228.7" fill="none" stroke="#fdf9e2" stroke-width="4.2"/><polyline points="228.8,234.3 227.5,235.3 226.4,235.9 225.6,235.5 225.2,234.3 224.8,232.5 224.5,230.8 224.0,229.6 223.2,229.2 222.1,229.8 220.9,230.9 219.6,231.9 218.5,232.4 217.8,232.0 217.3,230.7 217.0,229.0 216.6,227.2" fill="none" stroke="#939c82" stroke-width="1.25"/><polyline points="228.8,234.3 228.4,232.5 227.9,231.3 227.1,231.0 226.1,231.5 224.8,232.6 223.6,233.6 222.5,234.1 221.7,233.7 221.2,232.5 220.9,230.7 220.6,229.0 220.1,227.8 219.2,227.5 218.2,228.1 216.9,229.2 215.7,230.2" fill="none" stroke="#939c82" stroke-width="1.25"/><polyline points="226.6,240.4 225.1,241.1 223.7,241.6 222.6,241.4 221.8,240.5 221.1,239.1 220.6,237.3 220.2,235.5 219.5,234.1 218.7,233.2 217.6,233.0 216.2,233.4 214.7,234.2" fill="none" stroke="#dcc277" stroke-width="1.9" stroke-linecap="round"/><polyline points="233.5,214.5 232.7,214.3 231.8,214.2 231.0,214.0 230.2,213.8 229.3,213.7 228.5,213.5 227.7,213.3 226.9,213.1 226.0,213.0 225.2,212.8 224.4,212.6 223.5,212.4 222.7,212.3 221.9,212.1 221.0,211.9 220.2,211.7" fill="none" stroke="#fdf9e2" stroke-width="4.2"/><polyline points="233.5,214.5 232.4,215.8 231.5,216.6 230.6,216.4 230.0,215.3 229.4,213.6 228.7,212.0 228.1,210.9 227.2,210.8 226.2,211.5 225.2,212.9 224.1,214.2 223.2,214.9 222.3,214.6 221.7,213.5 221.1,211.8 220.5,210.2" fill="none" stroke="#939c82" stroke-width="1.25"/><polyline points="233.5,214.5 232.9,212.9 232.2,211.8 231.4,211.6 230.4,212.4 229.3,213.7 228.3,215.0 227.3,215.7 226.5,215.5 225.8,214.4 225.2,212.7 224.6,211.1 223.9,210.0 223.1,209.9 222.1,210.7 221.0,212.0 220.0,213.3" fill="none" stroke="#939c82" stroke-width="1.25"/><polyline points="234.7,203.7 233.9,203.6 233.0,203.5 232.2,203.4 231.3,203.3 230.5,203.3 229.7,203.2 228.8,203.1 228.0,203.0 227.1,203.0 226.3,202.9 225.5,202.8 224.6,202.7 223.8,202.7 222.9,202.6 222.1,202.5 221.2,202.4" fill="none" stroke="#fdf9e2" stroke-width="4.2"/><polyline points="234.7,203.7 233.8,205.1 232.9,205.9 232.0,205.8 231.2,204.8 230.5,203.2 229.8,201.7 229.0,200.7 228.1,200.6 227.2,201.5 226.3,203.0 225.3,204.4 224.4,205.2 223.6,205.0 222.8,204.0 222.1,202.4 221.4,200.8" fill="none" stroke="#939c82" stroke-width="1.25"/><polyline points="234.7,203.7 234.0,202.1 233.2,201.1 232.3,201.0 231.4,201.9 230.5,203.3 229.6,204.7 228.7,205.5 227.8,205.4 227.0,204.4 226.3,202.8 225.6,201.2 224.8,200.3 223.9,200.3 223.0,201.2 222.1,202.6 221.1,204.0" fill="none" stroke="#939c82" stroke-width="1.25"/><polyline points="234.9,190.0 234.1,190.1 233.2,190.1 232.4,190.2 231.5,190.2 230.7,190.3 229.8,190.3 229.0,190.3 228.2,190.4 227.3,190.4 226.5,190.5 225.6,190.5 224.8,190.6 223.9,190.6 223.1,190.6 222.3,190.7 221.4,190.7" fill="none" stroke="#fdf9e2" stroke-width="4.2"/><polyline points="234.9,190.0 234.1,191.6 233.3,192.5 232.5,192.6 231.6,191.7 230.7,190.2 229.8,188.8 228.9,187.9 228.1,188.0 227.3,189.0 226.5,190.5 225.7,192.1 224.9,193.0 224.0,193.0 223.2,192.1 222.3,190.6 221.4,189.1" fill="none" stroke="#939c82" stroke-width="1.25"/><polyline points="234.9,190.0 234.0,188.6 233.1,187.7 232.3,187.7 231.5,188.7 230.7,190.3 229.9,191.8 229.1,192.8 228.3,192.8 227.4,191.9 226.5,190.4 225.6,189.0 224.7,188.1 223.9,188.2 223.0,189.2 222.3,190.8 221.5,192.3" fill="none" stroke="#939c82" stroke-width="1.25"/><polyline points="235.0,196.6 233.9,198.0 232.8,199.0 231.7,199.4 230.6,199.0 229.6,197.9 228.5,196.5 227.4,195.1 226.4,194.1 225.3,193.7 224.2,194.0 223.1,195.0 222.0,196.4" fill="none" stroke="#dcc277" stroke-width="1.9" stroke-linecap="round"/><polyline points="232.5,169.9 231.7,170.1 230.9,170.3 230.0,170.6 229.2,170.8 228.4,171.0 227.6,171.2 226.8,171.5 225.9,171.7 225.1,171.9 224.3,172.1 223.5,172.4 222.6,172.6 221.8,172.8 221.0,173.0 220.2,173.2 219.4,173.5" fill="none" stroke="#fdf9e2" stroke-width="4.2"/><polyline points="232.5,169.9 232.0,171.6 231.3,172.7 230.5,172.9 229.5,172.2 228.4,171.0 227.3,169.7 226.3,169.1 225.5,169.3 224.8,170.5 224.3,172.2 223.8,173.9 223.1,175.0 222.3,175.1 221.3,174.4 220.2,173.1 219.0,171.9" fill="none" stroke="#939c82" stroke-width="1.25"/><polyline points="232.5,169.9 231.4,168.7 230.4,168.0 229.6,168.2 228.9,169.4 228.4,171.1 227.9,172.7 227.2,173.8 226.4,174.0 225.4,173.3 224.3,172.1 223.2,170.8 222.2,170.2 221.4,170.5 220.7,171.6 220.2,173.4 219.7,175.0" fill="none" stroke="#939c82" stroke-width="1.25"/><polyline points="230.1,159.9 229.3,160.2 228.5,160.5 227.7,160.8 226.9,161.2 226.1,161.5 225.3,161.8 224.5,162.1 223.7,162.4 222.9,162.7 222.1,163.0 221.3,163.3 220.5,163.6 219.7,164.0 218.9,164.3 218.1,164.6 217.3,164.9" fill="none" stroke="#fdf9e2" stroke-width="4.2"/><polyline points="230.1,159.9 229.7,161.6 229.1,162.8 228.3,163.1 227.3,162.6 226.0,161.4 224.8,160.3 223.8,159.8 223.0,160.1 222.5,161.3 222.1,163.1 221.7,164.8 221.1,166.0 220.3,166.2 219.2,165.6 218.0,164.5 216.8,163.4" fill="none" stroke="#939c82" stroke-width="1.25"/><polyline points="230.1,159.9 228.8,158.8 227.8,158.2 227.0,158.5 226.4,159.8 226.1,161.5 225.7,163.2 225.1,164.4 224.3,164.7 223.3,164.1 222.0,163.0 220.8,161.9 219.8,161.3 219.0,161.7 218.5,162.9 218.1,164.7 217.7,166.4" fill="none" stroke="#939c82" stroke-width="1.25"/><polyline points="231.7,166.2 231.0,167.9 230.2,169.2 229.2,169.9 228.1,169.9 226.8,169.2 225.4,168.2 224.1,167.2 222.8,166.5 221.7,166.5 220.7,167.2 219.9,168.5 219.2,170.2" fill="none" stroke="#dcc277" stroke-width="1.9" stroke-linecap="round"/><polyline points="222.9,141.2 222.2,141.6 221.4,142.1 220.7,142.6 219.9,143.1 219.2,143.6 218.5,144.0 217.7,144.5 217.0,145.0 216.3,145.5 215.5,145.9 214.8,146.4 214.1,146.9 213.3,147.4 212.6,147.9 211.8,148.3 211.1,148.8" fill="none" stroke="#fdf9e2" stroke-width="4.2"/><polyline points="222.9,141.2 222.8,143.0 222.4,144.2 221.7,144.7 220.6,144.4 219.2,143.5 217.8,142.7 216.7,142.4 216.0,142.9 215.7,144.2 215.6,146.0 215.5,147.8 215.1,149.0 214.3,149.5 213.2,149.1 211.8,148.2 210.4,147.4" fill="none" stroke="#939c82" stroke-width="1.25"/><polyline points="222.9,141.2 221.5,140.3 220.4,140.0 219.7,140.5 219.3,141.8 219.2,143.6 219.1,145.4 218.8,146.6 218.0,147.1 216.9,146.7 215.5,145.9 214.1,145.1 213.0,144.8 212.3,145.3 212.0,146.6 211.9,148.4 211.8,150.2" fill="none" stroke="#939c82" stroke-width="1.25"/><polyline points="217.5,131.3 216.9,131.9 216.2,132.5 215.5,133.0 214.8,133.6 214.1,134.2 213.4,134.7 212.7,135.3 212.0,135.9 211.3,136.4 210.7,137.0 210.0,137.6 209.3,138.1 208.6,138.7 207.9,139.3 207.2,139.8 206.5,140.4" fill="none" stroke="#fdf9e2" stroke-width="4.2"/><polyline points="217.5,131.3 217.6,133.1 217.4,134.5 216.7,135.0 215.5,134.8 214.1,134.1 212.6,133.5 211.5,133.3 210.8,133.9 210.6,135.2 210.7,137.1 210.7,138.8 210.5,140.1 209.8,140.6 208.6,140.4 207.2,139.7 205.7,139.1" fill="none" stroke="#939c82" stroke-width="1.25"/><polyline points="217.5,131.3 216.1,130.7 215.0,130.5 214.3,131.1 214.1,132.4 214.1,134.2 214.2,136.0 213.9,137.3 213.2,137.8 212.1,137.6 210.6,136.9 209.2,136.3 208.1,136.1 207.4,136.7 207.2,138.1 207.3,139.9 207.3,141.7" fill="none" stroke="#939c82" stroke-width="1.25"/><polyline points="211.1,122.0 210.5,122.6 209.9,123.3 209.2,123.9 208.6,124.6 208.0,125.2 207.3,125.9 206.7,126.5 206.1,127.2 205.5,127.8 204.8,128.5 204.2,129.1 203.6,129.7 202.9,130.4 202.3,131.0 201.7,131.7 201.0,132.3" fill="none" stroke="#fdf9e2" stroke-width="4.2"/><polyline points="211.1,122.0 211.4,123.7 211.3,125.1 210.6,125.7 209.5,125.7 208.0,125.2 206.5,124.7 205.3,124.7 204.7,125.3 204.6,126.7 204.9,128.5 205.1,130.3 205.0,131.6 204.3,132.2 203.1,132.1 201.6,131.6 200.1,131.2" fill="none" stroke="#939c82" stroke-width="1.25"/><polyline points="211.1,122.0 209.6,121.5 208.5,121.4 207.9,122.1 207.8,123.5 208.0,125.2 208.2,127.0 208.1,128.3 207.5,129.0 206.3,128.9 204.8,128.4 203.3,127.9 202.2,127.9 201.6,128.6 201.5,130.0 201.7,131.8 201.9,133.5" fill="none" stroke="#939c82" stroke-width="1.25"/><polyline points="214.8,127.0 214.7,128.9 214.4,130.5 213.7,131.6 212.7,132.0 211.3,132.0 209.7,131.7 208.1,131.4 206.7,131.3 205.6,131.8 205.0,132.9 204.7,134.5 204.6,136.3" fill="none" stroke="#dcc277" stroke-width="1.9" stroke-linecap="round"/><polyline points="199.0,108.7 198.5,109.4 198.0,110.2 197.5,111.0 196.9,111.7 196.4,112.5 195.9,113.3 195.4,114.0 194.8,114.8 194.3,115.6 193.8,116.3 193.3,117.1 192.7,117.9 192.2,118.6 191.7,119.4 191.2,120.2 190.6,120.9" fill="none" stroke="#fdf9e2" stroke-width="4.2"/><polyline points="199.0,108.7 199.5,110.4 199.6,111.7 199.1,112.5 197.9,112.6 196.4,112.5 194.9,112.3 193.7,112.5 193.2,113.3 193.3,114.7 193.8,116.4 194.3,118.1 194.4,119.4 193.8,120.1 192.7,120.3 191.1,120.1 189.6,119.9" fill="none" stroke="#939c82" stroke-width="1.25"/><polyline points="199.0,108.7 197.5,108.5 196.3,108.7 195.8,109.5 195.9,110.8 196.4,112.5 196.9,114.2 197.0,115.5 196.5,116.3 195.3,116.5 193.7,116.3 192.2,116.1 191.1,116.3 190.6,117.1 190.7,118.5 191.2,120.2 191.7,121.9" fill="none" stroke="#939c82" stroke-width="1.25"/><polyline points="190.7,101.8 190.2,102.6 189.8,103.4 189.3,104.3 188.9,105.1 188.4,105.9 188.0,106.7 187.5,107.6 187.1,108.4 186.6,109.2 186.2,110.1 185.7,110.9 185.3,111.7 184.8,112.5 184.4,113.4 183.9,114.2 183.5,115.0" fill="none" stroke="#fdf9e2" stroke-width="4.2"/><polyline points="190.7,101.8 191.3,103.4 191.5,104.7 191.1,105.5 189.9,105.9 188.4,105.9 186.8,105.9 185.7,106.3 185.3,107.1 185.6,108.5 186.2,110.1 186.8,111.7 187.0,113.0 186.6,113.8 185.4,114.1 183.8,114.1 182.3,114.2" fill="none" stroke="#939c82" stroke-width="1.25"/><polyline points="190.7,101.8 189.1,101.8 188.0,102.1 187.5,103.0 187.8,104.3 188.4,105.9 189.1,107.6 189.3,108.9 188.8,109.7 187.7,110.0 186.1,110.0 184.6,110.0 183.5,110.4 183.1,111.3 183.3,112.6 184.0,114.3 184.6,115.9" fill="none" stroke="#939c82" stroke-width="1.25"/><polyline points="195.4,105.5 195.7,107.3 195.8,108.9 195.4,110.2 194.5,111.0 193.2,111.4 191.6,111.6 190.0,111.8 188.6,112.2 187.8,113.0 187.4,114.3 187.5,115.9 187.8,117.7" fill="none" stroke="#dcc277" stroke-width="1.9" stroke-linecap="round"/><polyline points="175.9,93.0 175.5,93.9 175.2,94.8 174.9,95.7 174.6,96.6 174.3,97.5 173.9,98.4 173.6,99.3 173.3,100.2 173.0,101.1 172.7,102.0 172.4,102.9 172.0,103.8 171.7,104.7 171.4,105.6 171.1,106.5 170.8,107.5" fill="none" stroke="#fdf9e2" stroke-width="4.2"/><polyline points="175.9,93.0 176.7,94.4 177.2,95.7 176.8,96.6 175.8,97.1 174.2,97.5 172.7,97.8 171.7,98.4 171.4,99.3 171.8,100.6 172.7,102.0 173.6,103.5 174.0,104.8 173.6,105.6 172.5,106.2 171.0,106.5 169.5,106.9" fill="none" stroke="#939c82" stroke-width="1.25"/><polyline points="175.9,93.0 174.3,93.3 173.3,93.8 173.0,94.8 173.4,96.0 174.3,97.5 175.2,99.0 175.6,100.2 175.2,101.1 174.1,101.7 172.6,102.0 171.1,102.3 170.1,102.9 169.8,103.8 170.3,105.1 171.2,106.6 172.0,108.1" fill="none" stroke="#939c82" stroke-width="1.25"/><polyline points="165.7,88.9 165.5,89.9 165.3,90.8 165.1,91.7 164.8,92.7 164.6,93.6 164.4,94.6 164.1,95.5 163.9,96.5 163.7,97.4 163.5,98.3 163.2,99.3 163.0,100.2 162.8,101.2 162.5,102.1 162.3,103.1 162.1,104.0" fill="none" stroke="#fdf9e2" stroke-width="4.2"/><polyline points="165.7,88.9 166.8,90.3 167.3,91.5 167.1,92.4 166.0,93.1 164.6,93.6 163.1,94.2 162.1,94.9 161.9,95.8 162.5,97.0 163.5,98.4 164.5,99.7 165.0,100.9 164.8,101.8 163.7,102.5 162.2,103.0 160.8,103.6" fill="none" stroke="#939c82" stroke-width="1.25"/><polyline points="165.7,88.9 164.3,89.5 163.3,90.1 163.0,91.1 163.6,92.3 164.6,93.6 165.6,95.0 166.2,96.2 165.9,97.1 164.9,97.8 163.4,98.3 161.9,98.9 161.0,99.6 160.8,100.5 161.4,101.7 162.4,103.1 163.4,104.4" fill="none" stroke="#939c82" stroke-width="1.25"/><polyline points="155.4,86.3 155.3,87.2 155.1,88.2 155.0,89.2 154.8,90.1 154.7,91.1 154.6,92.1 154.4,93.0 154.3,94.0 154.2,94.9 154.0,95.9 153.9,96.9 153.8,97.8 153.6,98.8 153.5,99.8 153.3,100.7 153.2,101.7" fill="none" stroke="#fdf9e2" stroke-width="4.2"/><polyline points="155.4,86.3 156.5,87.5 157.2,88.6 157.0,89.5 156.1,90.4 154.7,91.1 153.3,91.8 152.4,92.6 152.2,93.6 152.9,94.7 154.1,95.9 155.2,97.1 155.8,98.2 155.7,99.2 154.7,100.0 153.3,100.7 151.9,101.5" fill="none" stroke="#939c82" stroke-width="1.25"/><polyline points="155.4,86.3 154.0,87.0 153.1,87.8 152.9,88.8 153.6,89.9 154.7,91.1 155.9,92.3 156.5,93.4 156.3,94.4 155.4,95.2 154.0,95.9 152.6,96.6 151.7,97.4 151.6,98.4 152.3,99.5 153.4,100.8 154.6,102.0" fill="none" stroke="#939c82" stroke-width="1.25"/><polyline points="161.0,87.5 161.9,89.1 162.5,90.5 162.6,91.8 162.1,93.0 161.0,94.0 159.6,94.9 158.1,95.8 157.0,96.8 156.5,97.9 156.6,99.2 157.2,100.7 158.1,102.2" fill="none" stroke="#dcc277" stroke-width="1.9" stroke-linecap="round"/><polyline points="133.5,86.8 133.5,87.6 133.6,88.5 133.6,89.3 133.7,90.1 133.7,91.0 133.8,91.8 133.8,92.6 133.9,93.5 133.9,94.3 134.0,95.1 134.0,96.0 134.1,96.8 134.1,97.6 134.2,98.4 134.2,99.3 134.3,100.1" fill="none" stroke="#fdf9e2" stroke-width="4.2"/><polyline points="133.5,86.8 134.6,87.5 135.5,88.3 135.8,89.1 135.5,90.0 134.7,90.9 133.6,91.8 132.5,92.7 131.9,93.6 131.7,94.5 132.2,95.3 133.2,96.0 134.4,96.8 135.6,97.5 136.3,98.3 136.4,99.1 135.9,100.0" fill="none" stroke="#cdbb72" stroke-width="1.05"/><polyline points="133.5,86.8 132.4,87.7 131.6,88.6 131.4,89.5 131.8,90.3 132.8,91.0 134.0,91.8 135.1,92.5 135.9,93.3 136.1,94.1 135.7,95.0 134.8,95.9 133.7,96.8 132.7,97.7 132.1,98.6 132.1,99.5 132.7,100.2" fill="none" stroke="#cdbb72" stroke-width="1.05"/><polyline points="120.1,89.0 120.3,89.8 120.4,90.7 120.6,91.5 120.7,92.3 120.9,93.1 121.0,93.9 121.2,94.7 121.3,95.5 121.5,96.4 121.6,97.2 121.8,98.0 122.0,98.8 122.1,99.6 122.3,100.4 122.4,101.2 122.6,102.1" fill="none" stroke="#fdf9e2" stroke-width="4.2"/><polyline points="120.1,89.0 121.4,89.6 122.3,90.2 122.7,90.9 122.5,91.8 121.8,92.9 120.9,94.0 119.9,95.0 119.4,96.0 119.4,96.9 120.0,97.6 121.0,98.2 122.3,98.7 123.5,99.3 124.3,99.9 124.5,100.7 124.1,101.7" fill="none" stroke="#a4ad8a" stroke-width="1.05"/><polyline points="120.1,89.0 119.2,90.1 118.5,91.1 118.4,92.0 118.9,92.7 119.9,93.3 121.2,93.9 122.4,94.4 123.3,95.0 123.6,95.8 123.3,96.7 122.6,97.8 121.6,98.9 120.7,100.0 120.2,100.9 120.3,101.8 121.0,102.5" fill="none" stroke="#a4ad8a" stroke-width="1.05"/><polyline points="107.5,93.3 107.7,94.1 108.0,94.9 108.2,95.7 108.5,96.4 108.7,97.2 109.0,98.0 109.2,98.8 109.5,99.6 109.7,100.4 110.0,101.1 110.2,101.9 110.5,102.7 110.7,103.5 111.0,104.3 111.2,105.0 111.5,105.8" fill="none" stroke="#fdf9e2" stroke-width="4.2"/><polyline points="107.5,93.3 108.8,93.6 109.8,94.1 110.3,94.8 110.2,95.7 109.6,96.8 108.8,98.1 108.0,99.3 107.6,100.4 107.7,101.2 108.3,101.8 109.5,102.2 110.8,102.5 112.1,102.9 112.9,103.4 113.2,104.2 113.0,105.2" fill="none" stroke="#cdbb72" stroke-width="1.05"/><polyline points="107.5,93.3 106.7,94.6 106.2,95.7 106.2,96.6 106.7,97.2 107.8,97.6 109.1,97.9 110.4,98.3 111.4,98.8 111.8,99.5 111.6,100.4 111.0,101.6 110.1,102.8 109.4,104.1 109.0,105.1 109.2,105.9 110.0,106.5" fill="none" stroke="#cdbb72" stroke-width="1.05"/><polyline points="98.2,98.0 98.5,98.7 98.8,99.5 99.1,100.2 99.5,101.0 99.8,101.7 100.1,102.5 100.4,103.2 100.7,104.0 101.1,104.7 101.4,105.5 101.7,106.2 102.0,106.9 102.4,107.7 102.7,108.4 103.0,109.2 103.3,109.9" fill="none" stroke="#fdf9e2" stroke-width="4.2"/><polyline points="98.2,98.0 99.5,98.2 100.5,98.5 101.1,99.1 101.1,100.0 100.6,101.2 99.9,102.6 99.3,103.9 98.9,105.0 99.1,105.8 99.8,106.4 101.0,106.6 102.4,106.8 103.6,107.0 104.5,107.4 104.9,108.1 104.8,109.1" fill="none" stroke="#a4ad8a" stroke-width="1.05"/><polyline points="98.2,98.0 97.5,99.3 97.1,100.5 97.2,101.4 97.8,101.9 98.9,102.2 100.3,102.4 101.6,102.6 102.5,102.9 103.0,103.6 102.9,104.6 102.4,105.8 101.7,107.1 101.1,108.4 100.8,109.5 101.1,110.3 101.9,110.8" fill="none" stroke="#a4ad8a" stroke-width="1.05"/><polyline points="86.9,105.7 87.3,106.4 87.7,107.1 88.1,107.8 88.5,108.5 88.9,109.2 89.4,109.8 89.8,110.5 90.2,111.2 90.6,111.9 91.0,112.6 91.4,113.3 91.8,114.0 92.2,114.6 92.6,115.3 93.0,116.0 93.4,116.7" fill="none" stroke="#fdf9e2" stroke-width="4.2"/><polyline points="86.9,105.7 88.2,105.7 89.3,105.8 89.9,106.3 90.1,107.3 89.7,108.5 89.2,110.0 88.7,111.4 88.5,112.5 88.8,113.3 89.6,113.7 90.7,113.8 92.1,113.7 93.4,113.7 94.3,114.0 94.8,114.6 94.8,115.6" fill="none" stroke="#cdbb72" stroke-width="1.05"/><polyline points="86.9,105.7 86.4,107.2 86.1,108.4 86.3,109.2 87.0,109.7 88.2,109.8 89.5,109.7 90.8,109.7 91.8,109.9 92.4,110.5 92.4,111.4 92.0,112.7 91.5,114.2 91.0,115.6 90.9,116.7 91.3,117.4 92.1,117.8" fill="none" stroke="#cdbb72" stroke-width="1.05"/><polyline points="76.4,115.5 76.9,116.1 77.4,116.7 77.9,117.3 78.4,117.9 78.9,118.5 79.4,119.1 79.8,119.8 80.3,120.4 80.8,121.0 81.3,121.6 81.8,122.2 82.3,122.8 82.8,123.4 83.3,124.0 83.8,124.6 84.2,125.3" fill="none" stroke="#fdf9e2" stroke-width="4.2"/><polyline points="76.4,115.5 77.7,115.2 78.8,115.2 79.5,115.6 79.7,116.5 79.6,117.8 79.2,119.3 78.9,120.8 78.9,122.0 79.2,122.7 80.0,123.0 81.2,122.8 82.6,122.5 83.8,122.3 84.8,122.4 85.3,122.9 85.4,124.0" fill="none" stroke="#a4ad8a" stroke-width="1.05"/><polyline points="76.4,115.5 76.1,117.0 76.0,118.2 76.3,119.0 77.0,119.4 78.2,119.3 79.5,119.0 80.8,118.7 81.8,118.8 82.4,119.3 82.6,120.2 82.4,121.6 82.0,123.1 81.7,124.5 81.7,125.7 82.2,126.3 83.1,126.5" fill="none" stroke="#a4ad8a" stroke-width="1.05"/><polyline points="68.3,125.4 68.9,125.9 69.4,126.4 70.0,127.0 70.5,127.5 71.1,128.0 71.6,128.6 72.2,129.1 72.7,129.7 73.3,130.2 73.8,130.7 74.4,131.3 74.9,131.8 75.5,132.3 76.0,132.9 76.6,133.4 77.1,133.9" fill="none" stroke="#fdf9e2" stroke-width="4.2"/><polyline points="68.3,125.4 69.6,124.9 70.7,124.7 71.4,125.0 71.7,125.9 71.7,127.2 71.5,128.7 71.3,130.3 71.4,131.4 71.9,132.1 72.7,132.3 73.9,132.0 75.2,131.5 76.4,131.1 77.4,131.0 78.0,131.5 78.2,132.5" fill="none" stroke="#cdbb72" stroke-width="1.05"/><polyline points="68.3,125.4 68.1,126.9 68.2,128.2 68.6,128.9 69.3,129.2 70.4,128.9 71.7,128.4 73.0,128.0 74.0,127.9 74.7,128.2 74.9,129.2 74.9,130.6 74.7,132.1 74.6,133.6 74.7,134.7 75.2,135.3 76.1,135.4" fill="none" stroke="#cdbb72" stroke-width="1.05"/><polyline points="59.9,139.1 60.5,139.5 61.1,139.9 61.7,140.4 62.3,140.8 63.0,141.2 63.6,141.7 64.2,142.1 64.8,142.5 65.4,143.0 66.0,143.4 66.7,143.8 67.3,144.2 67.9,144.7 68.5,145.1 69.1,145.5 69.7,146.0" fill="none" stroke="#fdf9e2" stroke-width="4.2"/><polyline points="59.9,139.1 61.1,138.4 62.1,138.0 62.9,138.2 63.3,139.0 63.5,140.3 63.5,141.8 63.5,143.4 63.8,144.5 64.3,145.1 65.1,145.1 66.2,144.6 67.5,143.9 68.6,143.3 69.6,143.0 70.2,143.4 70.6,144.4" fill="none" stroke="#a4ad8a" stroke-width="1.05"/><polyline points="59.9,139.1 59.9,140.6 60.1,141.9 60.6,142.6 61.4,142.6 62.5,142.2 63.7,141.5 64.9,140.8 65.8,140.5 66.6,140.8 66.9,141.7 67.1,143.0 67.1,144.6 67.2,146.1 67.4,147.2 68.0,147.7 68.9,147.6" fill="none" stroke="#a4ad8a" stroke-width="1.05"/><polyline points="53.8,153.1 54.4,153.4 55.1,153.7 55.8,154.0 56.4,154.4 57.1,154.7 57.7,155.0 58.4,155.3 59.1,155.7 59.7,156.0 60.4,156.3 61.1,156.6 61.7,156.9 62.4,157.3 63.0,157.6 63.7,157.9 64.4,158.2" fill="none" stroke="#fdf9e2" stroke-width="4.2"/><polyline points="53.8,153.1 54.9,152.2 55.8,151.6 56.6,151.7 57.1,152.4 57.5,153.7 57.7,155.2 57.9,156.7 58.3,157.8 58.9,158.3 59.7,158.1 60.8,157.5 61.9,156.5 62.9,155.7 63.9,155.4 64.5,155.6 65.0,156.5" fill="none" stroke="#cdbb72" stroke-width="1.05"/><polyline points="53.8,153.1 54.0,154.6 54.3,155.8 54.9,156.4 55.7,156.3 56.7,155.7 57.8,154.8 58.9,154.0 59.9,153.5 60.6,153.6 61.1,154.4 61.4,155.8 61.6,157.3 61.8,158.8 62.2,159.8 62.9,160.2 63.8,160.0" fill="none" stroke="#cdbb72" stroke-width="1.05"/><polyline points="50.3,164.2 51.0,164.5 51.7,164.7 52.4,164.9 53.1,165.2 53.8,165.4 54.5,165.6 55.2,165.9 55.9,166.1 56.5,166.3 57.2,166.6 57.9,166.8 58.6,167.1 59.3,167.3 60.0,167.5 60.7,167.8 61.4,168.0" fill="none" stroke="#fdf9e2" stroke-width="4.2"/><polyline points="50.3,164.2 51.4,163.2 52.3,162.5 53.0,162.5 53.6,163.1 54.1,164.3 54.4,165.8 54.8,167.3 55.3,168.4 55.9,168.8 56.7,168.5 57.7,167.7 58.7,166.6 59.7,165.7 60.6,165.2 61.3,165.4 61.8,166.2" fill="none" stroke="#a4ad8a" stroke-width="1.05"/><polyline points="50.3,164.2 50.7,165.7 51.2,166.8 51.8,167.4 52.6,167.2 53.5,166.5 54.5,165.4 55.5,164.4 56.4,163.9 57.2,163.9 57.7,164.7 58.2,165.9 58.5,167.5 58.9,168.9 59.4,169.8 60.1,170.2 60.9,169.8" fill="none" stroke="#a4ad8a" stroke-width="1.05"/><polyline points="47.5,179.0 48.2,179.1 49.0,179.2 49.7,179.3 50.4,179.5 51.1,179.6 51.8,179.7 52.5,179.8 53.2,179.9 53.9,180.1 54.6,180.2 55.3,180.3 56.1,180.4 56.8,180.6 57.5,180.7 58.2,180.8 58.9,180.9" fill="none" stroke="#fdf9e2" stroke-width="4.2"/><polyline points="47.5,179.0 48.4,177.8 49.2,177.0 50.0,176.8 50.6,177.3 51.2,178.5 51.8,179.9 52.3,181.3 52.9,182.3 53.6,182.6 54.4,182.2 55.2,181.2 56.1,180.0 57.0,178.9 57.8,178.3 58.5,178.3 59.1,179.1" fill="none" stroke="#cdbb72" stroke-width="1.05"/><polyline points="47.5,179.0 48.1,180.4 48.7,181.4 49.3,181.8 50.1,181.6 50.9,180.7 51.8,179.5 52.7,178.4 53.5,177.6 54.2,177.6 54.9,178.2 55.5,179.4 56.0,180.9 56.6,182.2 57.2,183.1 57.9,183.3 58.7,182.8" fill="none" stroke="#cdbb72" stroke-width="1.05"/><polyline points="46.5,194.2 47.2,194.2 47.9,194.2 48.7,194.2 49.4,194.2 50.1,194.3 50.8,194.3 51.5,194.3 52.3,194.3 53.0,194.3 53.7,194.3 54.4,194.3 55.1,194.3 55.8,194.3 56.6,194.3 57.3,194.3 58.0,194.3" fill="none" stroke="#fdf9e2" stroke-width="4.2"/><polyline points="46.5,194.2 47.2,192.9 48.0,192.0 48.7,191.7 49.4,192.1 50.1,193.1 50.8,194.5 51.5,195.8 52.2,196.6 53.0,196.8 53.7,196.3 54.4,195.2 55.1,193.9 55.9,192.6 56.6,191.9 57.3,191.8 58.0,192.4" fill="none" stroke="#a4ad8a" stroke-width="1.05"/><polyline points="46.5,194.2 47.2,195.5 47.9,196.5 48.6,196.8 49.4,196.4 50.1,195.4 50.8,194.0 51.5,192.8 52.3,191.9 53.0,191.7 53.7,192.3 54.4,193.4 55.1,194.7 55.8,196.0 56.5,196.7 57.3,196.8 58.0,196.2" fill="none" stroke="#a4ad8a" stroke-width="1.05"/><polyline points="47.4,209.7 48.1,209.6 48.8,209.5 49.5,209.4 50.2,209.3 50.9,209.2 51.6,209.1 52.4,209.0 53.1,208.8 53.8,208.7 54.5,208.6 55.2,208.5 55.9,208.4 56.6,208.3 57.3,208.2 58.0,208.0 58.8,207.9" fill="none" stroke="#fdf9e2" stroke-width="4.2"/><polyline points="47.4,209.7 47.9,208.3 48.5,207.3 49.2,206.9 50.0,207.2 50.8,208.1 51.7,209.3 52.5,210.4 53.3,211.2 54.1,211.2 54.7,210.6 55.3,209.4 55.9,208.0 56.4,206.6 57.1,205.8 57.8,205.6 58.5,206.1" fill="none" stroke="#cdbb72" stroke-width="1.05"/><polyline points="47.4,209.7 48.2,210.9 49.1,211.7 49.8,211.9 50.5,211.4 51.1,210.3 51.6,208.9 52.2,207.5 52.8,206.5 53.5,206.2 54.3,206.6 55.1,207.6 56.0,208.8 56.8,209.9 57.6,210.6 58.3,210.5 59.0,209.8" fill="none" stroke="#cdbb72" stroke-width="1.05"/><polyline points="50.2,225.0 50.8,224.8 51.5,224.6 52.2,224.3 52.9,224.1 53.6,223.9 54.3,223.7 55.0,223.4 55.7,223.2 56.4,223.0 57.1,222.7 57.8,222.5 58.4,222.3 59.1,222.0 59.8,221.8 60.5,221.6 61.2,221.3" fill="none" stroke="#fdf9e2" stroke-width="4.2"/><polyline points="50.2,225.0 50.5,223.5 51.0,222.4 51.6,221.9 52.4,222.1 53.3,222.8 54.4,223.9 55.3,224.8 56.2,225.4 57.0,225.4 57.5,224.7 58.0,223.4 58.3,221.9 58.7,220.4 59.2,219.5 59.9,219.2 60.8,219.5" fill="none" stroke="#a4ad8a" stroke-width="1.05"/><polyline points="50.2,225.0 51.2,226.1 52.1,226.7 52.8,226.8 53.4,226.2 53.9,225.0 54.2,223.4 54.6,222.0 55.1,220.9 55.8,220.5 56.6,220.8 57.5,221.6 58.5,222.7 59.5,223.6 60.4,224.1 61.1,224.0 61.7,223.1" fill="none" stroke="#a4ad8a" stroke-width="1.05"/><polyline points="53.4,236.0 54.1,235.6 54.8,235.3 55.4,235.0 56.1,234.7 56.8,234.4 57.4,234.1 58.1,233.8 58.7,233.4 59.4,233.1 60.1,232.8 60.7,232.5 61.4,232.2 62.1,231.9 62.7,231.6 63.4,231.2 64.1,230.9" fill="none" stroke="#fdf9e2" stroke-width="4.2"/><polyline points="53.4,236.0 53.7,234.4 54.0,233.2 54.6,232.7 55.4,232.7 56.4,233.3 57.5,234.3 58.6,235.1 59.5,235.6 60.2,235.5 60.7,234.7 61.0,233.3 61.3,231.8 61.5,230.3 62.0,229.3 62.6,228.9 63.5,229.2" fill="none" stroke="#cdbb72" stroke-width="1.05"/><polyline points="53.4,236.0 54.5,236.9 55.5,237.4 56.2,237.4 56.8,236.7 57.1,235.4 57.3,233.9 57.6,232.4 58.0,231.3 58.6,230.8 59.4,230.9 60.4,231.6 61.5,232.6 62.6,233.4 63.5,233.8 64.2,233.5 64.7,232.7" fill="none" stroke="#cdbb72" stroke-width="1.05"/><polyline points="59.0,249.2 59.6,248.8 60.3,248.4 60.9,248.0 61.5,247.6 62.1,247.1 62.8,246.7 63.4,246.3 64.0,245.9 64.6,245.5 65.3,245.1 65.9,244.6 66.5,244.2 67.1,243.8 67.7,243.4 68.4,243.0 69.0,242.6" fill="none" stroke="#fdf9e2" stroke-width="4.2"/><polyline points="59.0,249.2 59.1,247.7 59.3,246.5 59.8,245.8 60.6,245.7 61.7,246.2 62.9,246.9 64.0,247.6 65.0,247.9 65.7,247.7 66.1,246.8 66.3,245.4 66.3,243.9 66.4,242.4 66.7,241.3 67.3,240.8 68.2,240.9" fill="none" stroke="#a4ad8a" stroke-width="1.05"/><polyline points="59.0,249.2 60.2,249.9 61.2,250.3 62.0,250.2 62.4,249.4 62.6,248.1 62.7,246.5 62.7,245.0 63.0,243.9 63.5,243.3 64.4,243.3 65.5,243.8 66.7,244.6 67.8,245.2 68.8,245.5 69.4,245.1 69.8,244.2" fill="none" stroke="#a4ad8a" stroke-width="1.05"/><polyline points="66.3,261.7 66.8,261.2 67.4,260.7 68.0,260.1 68.5,259.6 69.1,259.1 69.7,258.6 70.2,258.1 70.8,257.6 71.4,257.1 71.9,256.6 72.5,256.0 73.1,255.5 73.6,255.0 74.2,254.5 74.8,254.0 75.3,253.5" fill="none" stroke="#fdf9e2" stroke-width="4.2"/><polyline points="66.3,261.7 66.1,260.1 66.2,258.9 66.6,258.1 67.4,258.0 68.5,258.2 69.8,258.8 71.0,259.3 72.0,259.4 72.7,259.1 73.0,258.1 73.0,256.8 72.8,255.2 72.8,253.7 72.9,252.6 73.4,252.0 74.3,252.0" fill="none" stroke="#cdbb72" stroke-width="1.05"/><polyline points="66.3,261.7 67.5,262.2 68.6,262.4 69.3,262.2 69.7,261.3 69.7,260.0 69.5,258.4 69.4,256.9 69.6,255.7 70.0,255.1 70.9,255.0 72.0,255.3 73.3,255.9 74.5,256.3 75.5,256.4 76.1,256.0 76.3,255.0" fill="none" stroke="#cdbb72" stroke-width="1.05"/><polyline points="75.2,273.1 75.7,272.5 76.2,271.9 76.6,271.3 77.1,270.7 77.6,270.1 78.1,269.5 78.6,268.9 79.1,268.3 79.6,267.7 80.1,267.1 80.6,266.5 81.1,265.9 81.6,265.3 82.1,264.7 82.6,264.1 83.1,263.5" fill="none" stroke="#fdf9e2" stroke-width="4.2"/><polyline points="75.2,273.1 74.8,271.6 74.8,270.4 75.1,269.6 75.8,269.3 77.0,269.4 78.3,269.7 79.6,270.0 80.6,270.0 81.2,269.5 81.4,268.5 81.2,267.2 80.9,265.6 80.6,264.2 80.6,263.1 81.1,262.4 82.0,262.2" fill="none" stroke="#a4ad8a" stroke-width="1.05"/><polyline points="75.2,273.1 76.5,273.4 77.5,273.5 78.2,273.1 78.5,272.2 78.3,270.9 78.0,269.4 77.7,267.9 77.7,266.7 78.1,266.0 78.9,265.7 80.1,265.9 81.4,266.2 82.7,266.5 83.6,266.4 84.2,265.9 84.3,264.8" fill="none" stroke="#a4ad8a" stroke-width="1.05"/><polyline points="85.6,283.2 86.0,282.6 86.5,281.9 86.9,281.2 87.3,280.5 87.7,279.8 88.1,279.2 88.5,278.5 89.0,277.8 89.4,277.1 89.8,276.4 90.2,275.8 90.6,275.1 91.1,274.4 91.5,273.7 91.9,273.1 92.3,272.4" fill="none" stroke="#fdf9e2" stroke-width="4.2"/><polyline points="85.6,283.2 85.1,281.8 84.9,280.6 85.1,279.7 85.8,279.3 86.9,279.2 88.3,279.3 89.6,279.3 90.6,279.2 91.2,278.6 91.2,277.6 90.9,276.3 90.3,274.8 89.9,273.5 89.8,272.3 90.1,271.6 91.0,271.3" fill="none" stroke="#cdbb72" stroke-width="1.05"/><polyline points="85.6,283.2 87.0,283.3 88.0,283.2 88.7,282.7 88.8,281.8 88.5,280.5 88.0,279.0 87.5,277.6 87.3,276.4 87.6,275.7 88.4,275.3 89.6,275.2 90.9,275.3 92.2,275.4 93.2,275.1 93.6,274.5 93.6,273.5" fill="none" stroke="#cdbb72" stroke-width="1.05"/><polyline points="94.3,289.6 94.7,288.9 95.0,288.2 95.4,287.5 95.7,286.7 96.1,286.0 96.4,285.3 96.8,284.6 97.2,283.8 97.5,283.1 97.9,282.4 98.2,281.6 98.6,280.9 98.9,280.2 99.3,279.5 99.6,278.7 100.0,278.0" fill="none" stroke="#fdf9e2" stroke-width="4.2"/><polyline points="94.3,289.6 93.7,288.3 93.4,287.1 93.5,286.2 94.1,285.7 95.3,285.5 96.6,285.4 97.9,285.3 98.9,285.0 99.4,284.3 99.4,283.4 98.9,282.1 98.2,280.7 97.7,279.4 97.4,278.3 97.7,277.5 98.6,277.1" fill="none" stroke="#a4ad8a" stroke-width="1.05"/><polyline points="94.3,289.6 95.7,289.6 96.7,289.3 97.3,288.7 97.4,287.8 96.9,286.6 96.3,285.2 95.7,283.8 95.4,282.7 95.6,281.9 96.3,281.4 97.5,281.2 98.9,281.1 100.2,281.0 101.1,280.6 101.5,280.0 101.4,278.9" fill="none" stroke="#a4ad8a" stroke-width="1.05"/><polyline points="106.0,296.1 106.3,295.3 106.6,294.5 106.8,293.7 107.1,292.9 107.3,292.2 107.6,291.4 107.9,290.6 108.1,289.8 108.4,289.1 108.7,288.3 108.9,287.5 109.2,286.7 109.4,286.0 109.7,285.2 110.0,284.4 110.2,283.6" fill="none" stroke="#fdf9e2" stroke-width="4.2"/><polyline points="106.0,296.1 105.3,294.8 104.8,293.7 104.8,292.8 105.4,292.2 106.4,291.8 107.8,291.5 109.1,291.2 110.0,290.7 110.4,290.0 110.3,289.0 109.7,287.8 108.8,286.6 108.1,285.4 107.8,284.3 108.0,283.5 108.7,282.9" fill="none" stroke="#cdbb72" stroke-width="1.05"/><polyline points="106.0,296.1 107.4,295.8 108.4,295.3 108.9,294.6 108.8,293.7 108.2,292.6 107.4,291.3 106.7,290.1 106.3,289.0 106.4,288.1 107.0,287.6 108.2,287.2 109.5,286.9 110.8,286.6 111.6,286.1 112.0,285.3 111.7,284.3" fill="none" stroke="#cdbb72" stroke-width="1.05"/><polyline points="119.1,300.7 119.3,299.9 119.4,299.1 119.6,298.3 119.8,297.5 119.9,296.7 120.1,295.8 120.2,295.0 120.4,294.2 120.6,293.4 120.7,292.6 120.9,291.8 121.0,291.0 121.2,290.2 121.4,289.3 121.5,288.5 121.7,287.7" fill="none" stroke="#fdf9e2" stroke-width="4.2"/><polyline points="119.1,300.7 118.2,299.6 117.6,298.6 117.5,297.7 118.0,297.0 119.0,296.4 120.3,295.9 121.5,295.4 122.4,294.7 122.7,294.0 122.4,293.0 121.7,292.0 120.7,290.9 119.8,289.8 119.3,288.8 119.4,288.0 120.1,287.3" fill="none" stroke="#a4ad8a" stroke-width="1.05"/><polyline points="119.1,300.7 120.4,300.2 121.3,299.6 121.7,298.9 121.6,297.9 120.9,296.9 119.9,295.8 119.0,294.7 118.4,293.7 118.4,292.8 119.0,292.1 120.1,291.6 121.4,291.1 122.6,290.5 123.4,289.9 123.6,289.1 123.3,288.1" fill="none" stroke="#a4ad8a" stroke-width="1.05"/><polyline points="132.9,303.1 132.9,302.3 133.0,301.5 133.0,300.7 133.1,299.8 133.2,299.0 133.2,298.2 133.3,297.3 133.3,296.5 133.4,295.7 133.4,294.8 133.5,294.0 133.5,293.2 133.6,292.3 133.7,291.5 133.7,290.7 133.8,289.8" fill="none" stroke="#fdf9e2" stroke-width="4.2"/><polyline points="132.9,303.1 131.8,302.2 131.1,301.3 130.9,300.5 131.3,299.7 132.2,298.9 133.4,298.2 134.5,297.4 135.3,296.7 135.6,295.9 135.2,295.0 134.3,294.1 133.2,293.1 132.2,292.2 131.6,291.3 131.6,290.5 132.2,289.7" fill="none" stroke="#cdbb72" stroke-width="1.05"/><polyline points="132.9,303.1 134.1,302.4 134.9,301.7 135.2,300.8 134.9,300.0 134.1,299.1 133.0,298.1 132.0,297.2 131.3,296.3 131.2,295.5 131.7,294.7 132.7,293.9 133.9,293.2 135.0,292.5 135.7,291.7 135.9,290.9 135.4,290.0" fill="none" stroke="#cdbb72" stroke-width="1.05"/><polyline points="146.0,303.2 146.0,302.4 145.9,301.6 145.9,300.7 145.9,299.9 145.8,299.1 145.8,298.2 145.7,297.4 145.7,296.6 145.6,295.7 145.6,294.9 145.5,294.1 145.5,293.2 145.4,292.4 145.4,291.6 145.3,290.8 145.3,289.9" fill="none" stroke="#fdf9e2" stroke-width="4.2"/><polyline points="146.0,303.2 144.9,302.5 144.0,301.7 143.7,300.9 144.0,300.0 144.8,299.1 145.9,298.2 147.0,297.3 147.7,296.4 147.8,295.6 147.3,294.8 146.3,294.0 145.1,293.3 144.0,292.5 143.3,291.7 143.2,290.9 143.7,290.0" fill="none" stroke="#a4ad8a" stroke-width="1.05"/><polyline points="146.0,303.2 147.1,302.3 147.9,301.4 148.1,300.6 147.7,299.8 146.8,299.0 145.6,298.3 144.4,297.5 143.7,296.7 143.4,295.9 143.8,295.0 144.7,294.1 145.8,293.2 146.9,292.3 147.5,291.4 147.5,290.6 146.9,289.8" fill="none" stroke="#a4ad8a" stroke-width="1.05"/><polyline points="156.2,301.8 156.1,301.0 156.0,300.2 155.9,299.3 155.7,298.5 155.6,297.7 155.5,296.9 155.4,296.1 155.2,295.2 155.1,294.4 155.0,293.6 154.9,292.8 154.7,292.0 154.6,291.1 154.5,290.3 154.4,289.5 154.2,288.7" fill="none" stroke="#fdf9e2" stroke-width="4.2"/><polyline points="156.2,301.8 155.0,301.2 154.1,300.6 153.7,299.8 153.9,298.9 154.7,297.9 155.7,296.8 156.6,295.8 157.2,294.8 157.3,294.0 156.7,293.3 155.6,292.6 154.4,292.0 153.2,291.4 152.4,290.7 152.2,289.9 152.6,289.0" fill="none" stroke="#cdbb72" stroke-width="1.05"/><polyline points="156.2,301.8 157.2,300.8 157.9,299.8 158.0,298.9 157.5,298.2 156.6,297.5 155.3,296.9 154.1,296.3 153.3,295.7 153.0,294.9 153.3,294.0 154.1,292.9 155.1,291.9 156.0,290.9 156.5,289.9 156.5,289.1 155.8,288.4" fill="none" stroke="#cdbb72" stroke-width="1.05"/><polyline points="169.4,298.0 169.1,297.2 168.9,296.4 168.7,295.6 168.5,294.8 168.2,294.0 168.0,293.2 167.8,292.4 167.6,291.6 167.3,290.9 167.1,290.1 166.9,289.3 166.6,288.5 166.4,287.7 166.2,286.9 166.0,286.1 165.7,285.3" fill="none" stroke="#fdf9e2" stroke-width="4.2"/><polyline points="169.4,298.0 168.1,297.6 167.1,297.1 166.6,296.4 166.7,295.5 167.3,294.4 168.2,293.2 169.0,292.0 169.5,290.9 169.4,290.1 168.7,289.4 167.6,289.0 166.3,288.6 165.1,288.2 164.2,287.7 163.9,286.9 164.2,285.9" fill="none" stroke="#a4ad8a" stroke-width="1.05"/><polyline points="169.4,298.0 170.2,296.8 170.7,295.7 170.8,294.8 170.2,294.1 169.1,293.7 167.8,293.3 166.6,292.9 165.6,292.4 165.3,291.6 165.5,290.7 166.1,289.6 167.0,288.3 167.8,287.2 168.2,286.1 168.0,285.3 167.3,284.7" fill="none" stroke="#a4ad8a" stroke-width="1.05"/><polyline points="181.8,292.0 181.5,291.3 181.2,290.5 180.9,289.8 180.5,289.0 180.2,288.3 179.9,287.5 179.6,286.8 179.3,286.0 178.9,285.3 178.6,284.5 178.3,283.8 178.0,283.1 177.6,282.3 177.3,281.6 177.0,280.8 176.7,280.1" fill="none" stroke="#fdf9e2" stroke-width="4.2"/><polyline points="181.8,292.0 180.5,291.8 179.5,291.5 178.9,290.9 178.9,290.0 179.4,288.8 180.1,287.4 180.7,286.1 181.1,285.0 180.9,284.2 180.2,283.6 179.0,283.4 177.6,283.2 176.4,283.0 175.5,282.6 175.1,281.9 175.2,280.9" fill="none" stroke="#cdbb72" stroke-width="1.05"/><polyline points="181.8,292.0 182.5,290.7 182.9,289.5 182.8,288.6 182.2,288.1 181.1,287.8 179.7,287.6 178.4,287.4 177.5,287.1 177.0,286.4 177.1,285.4 177.6,284.2 178.3,282.9 178.9,281.6 179.2,280.5 178.9,279.7 178.1,279.2" fill="none" stroke="#cdbb72" stroke-width="1.05"/><polyline points="193.2,284.2 192.8,283.5 192.4,282.8 191.9,282.2 191.5,281.5 191.1,280.8 190.7,280.1 190.3,279.4 189.9,278.7 189.5,278.0 189.1,277.4 188.7,276.7 188.3,276.0 187.9,275.3 187.5,274.6 187.0,273.9 186.6,273.2" fill="none" stroke="#fdf9e2" stroke-width="4.2"/><polyline points="193.2,284.2 191.8,284.3 190.8,284.1 190.1,283.6 190.0,282.7 190.3,281.4 190.9,280.0 191.4,278.6 191.6,277.4 191.3,276.6 190.5,276.2 189.3,276.1 188.0,276.2 186.7,276.2 185.7,276.0 185.3,275.3 185.3,274.3" fill="none" stroke="#a4ad8a" stroke-width="1.05"/><polyline points="193.2,284.2 193.7,282.8 193.9,281.6 193.8,280.7 193.1,280.3 191.9,280.1 190.6,280.2 189.3,280.3 188.2,280.1 187.7,279.5 187.7,278.5 188.0,277.2 188.6,275.7 189.0,274.4 189.2,273.2 188.8,272.5 188.0,272.2" fill="none" stroke="#a4ad8a" stroke-width="1.05"/><polyline points="203.5,274.7 203.0,274.0 202.5,273.4 202.0,272.8 201.5,272.2 201.0,271.6 200.5,271.0 200.0,270.4 199.6,269.8 199.1,269.1 198.6,268.5 198.1,267.9 197.6,267.3 197.1,266.7 196.6,266.1 196.1,265.5 195.6,264.9" fill="none" stroke="#fdf9e2" stroke-width="4.2"/><polyline points="203.5,274.7 202.1,274.9 201.1,275.0 200.4,274.6 200.2,273.7 200.3,272.4 200.7,270.8 201.0,269.4 201.0,268.2 200.7,267.4 199.8,267.2 198.7,267.3 197.3,267.6 196.1,267.8 195.1,267.7 194.6,267.2 194.5,266.1" fill="none" stroke="#cdbb72" stroke-width="1.05"/><polyline points="203.5,274.7 203.8,273.2 203.9,271.9 203.6,271.1 202.9,270.8 201.7,270.8 200.4,271.1 199.1,271.4 198.1,271.3 197.5,270.9 197.3,269.9 197.5,268.5 197.9,267.0 198.2,265.6 198.2,264.4 197.7,263.8 196.8,263.6" fill="none" stroke="#cdbb72" stroke-width="1.05"/><polyline points="210.9,265.7 210.4,265.2 209.8,264.6 209.3,264.1 208.7,263.5 208.2,263.0 207.6,262.4 207.1,261.9 206.5,261.4 206.0,260.8 205.5,260.3 204.9,259.7 204.4,259.2 203.8,258.6 203.3,258.1 202.7,257.5 202.2,257.0" fill="none" stroke="#fdf9e2" stroke-width="4.2"/><polyline points="210.9,265.7 209.6,266.1 208.6,266.3 207.8,266.0 207.5,265.1 207.6,263.8 207.8,262.3 207.9,260.8 207.9,259.6 207.4,258.9 206.6,258.7 205.4,259.0 204.1,259.5 202.9,259.9 201.9,259.9 201.3,259.4 201.1,258.4" fill="none" stroke="#a4ad8a" stroke-width="1.05"/><polyline points="210.9,265.7 211.1,264.2 211.1,262.9 210.7,262.1 209.9,261.9 208.8,262.1 207.5,262.6 206.3,263.0 205.2,263.1 204.6,262.7 204.3,261.8 204.4,260.4 204.6,258.9 204.7,257.4 204.6,256.3 204.1,255.7 203.2,255.6" fill="none" stroke="#a4ad8a" stroke-width="1.05"/><polyline points="218.9,253.2 218.3,252.7 217.7,252.3 217.1,251.9 216.5,251.4 215.9,251.0 215.3,250.5 214.7,250.1 214.0,249.6 213.4,249.2 212.8,248.7 212.2,248.3 211.6,247.8 211.0,247.4 210.4,246.9 209.8,246.5 209.2,246.0" fill="none" stroke="#fdf9e2" stroke-width="4.2"/><polyline points="218.9,253.2 217.7,253.9 216.6,254.2 215.9,254.0 215.5,253.2 215.4,251.9 215.4,250.3 215.3,248.8 215.1,247.6 214.6,247.0 213.8,247.0 212.7,247.5 211.4,248.2 210.3,248.8 209.3,249.0 208.6,248.6 208.3,247.6" fill="none" stroke="#cdbb72" stroke-width="1.05"/><polyline points="218.9,253.2 218.9,251.6 218.7,250.4 218.3,249.7 217.5,249.6 216.4,250.0 215.2,250.7 214.0,251.3 213.0,251.6 212.3,251.3 211.9,250.4 211.8,249.1 211.8,247.5 211.8,246.0 211.5,244.9 211.0,244.4 210.1,244.5" fill="none" stroke="#cdbb72" stroke-width="1.05"/><polyline points="225.3,239.5 224.6,239.1 224.0,238.8 223.3,238.4 222.7,238.1 222.0,237.8 221.3,237.4 220.7,237.1 220.0,236.7 219.4,236.4 218.7,236.0 218.1,235.7 217.4,235.4 216.8,235.0 216.1,234.7 215.4,234.3 214.8,234.0" fill="none" stroke="#fdf9e2" stroke-width="4.2"/><polyline points="225.3,239.5 224.2,240.3 223.2,240.8 222.4,240.8 221.9,240.0 221.6,238.8 221.4,237.2 221.2,235.7 220.9,234.6 220.3,234.1 219.4,234.2 218.4,234.9 217.3,235.7 216.2,236.5 215.3,236.9 214.6,236.6 214.1,235.7" fill="none" stroke="#a4ad8a" stroke-width="1.05"/><polyline points="225.3,239.5 225.1,237.9 224.8,236.7 224.2,236.1 223.4,236.1 222.4,236.7 221.3,237.6 220.2,238.4 219.2,238.9 218.5,238.7 218.0,237.9 217.7,236.5 217.6,235.0 217.3,233.5 217.0,232.5 216.3,232.1 215.5,232.3" fill="none" stroke="#a4ad8a" stroke-width="1.05"/><polyline points="230.1,224.1 229.4,223.8 228.7,223.6 228.0,223.4 227.3,223.2 226.6,222.9 225.9,222.7 225.2,222.5 224.5,222.3 223.8,222.1 223.2,221.8 222.5,221.6 221.8,221.4 221.1,221.2 220.4,220.9 219.7,220.7 219.0,220.5" fill="none" stroke="#fdf9e2" stroke-width="4.2"/><polyline points="230.1,224.1 229.1,225.1 228.2,225.8 227.4,225.9 226.8,225.2 226.4,224.0 226.0,222.5 225.6,221.1 225.1,220.0 224.4,219.6 223.6,219.9 222.7,220.7 221.7,221.8 220.7,222.8 219.8,223.3 219.1,223.1 218.6,222.3" fill="none" stroke="#cdbb72" stroke-width="1.05"/><polyline points="230.1,224.1 229.7,222.6 229.2,221.5 228.6,220.9 227.8,221.1 226.9,221.9 225.9,222.9 224.9,223.9 224.0,224.5 223.3,224.5 222.7,223.8 222.3,222.5 221.9,221.0 221.5,219.6 220.9,218.6 220.3,218.3 219.4,218.7" fill="none" stroke="#cdbb72" stroke-width="1.05"/><polyline points="232.7,208.9 232.0,208.8 231.3,208.7 230.6,208.6 229.9,208.5 229.2,208.3 228.5,208.2 227.7,208.1 227.0,208.0 226.3,207.9 225.6,207.8 224.9,207.7 224.2,207.6 223.5,207.5 222.8,207.4 222.0,207.3 221.3,207.2" fill="none" stroke="#fdf9e2" stroke-width="4.2"/><polyline points="232.7,208.9 231.9,210.1 231.1,210.9 230.3,211.1 229.6,210.6 229.0,209.5 228.5,208.0 227.9,206.7 227.3,205.7 226.6,205.4 225.8,205.8 225.0,206.8 224.1,208.0 223.3,209.1 222.5,209.8 221.8,209.8 221.1,209.0" fill="none" stroke="#a4ad8a" stroke-width="1.05"/><polyline points="232.7,208.9 232.2,207.5 231.6,206.4 230.9,206.0 230.1,206.3 229.3,207.2 228.4,208.5 227.6,209.6 226.8,210.3 226.0,210.4 225.4,209.8 224.8,208.6 224.2,207.2 223.6,205.9 223.0,205.0 222.3,204.8 221.5,205.3" fill="none" stroke="#a4ad8a" stroke-width="1.05"/><polyline points="233.5,196.8 232.8,196.8 232.0,196.8 231.3,196.8 230.6,196.8 229.9,196.7 229.2,196.7 228.5,196.7 227.7,196.7 227.0,196.7 226.3,196.7 225.6,196.7 224.9,196.6 224.1,196.6 223.4,196.6 222.7,196.6 222.0,196.6" fill="none" stroke="#fdf9e2" stroke-width="4.2"/><polyline points="233.5,196.8 232.7,198.1 232.0,199.0 231.3,199.3 230.6,198.9 229.9,197.9 229.2,196.5 228.5,195.2 227.8,194.4 227.1,194.2 226.3,194.7 225.6,195.7 224.9,197.1 224.1,198.3 223.4,199.0 222.7,199.1 222.0,198.5" fill="none" stroke="#cdbb72" stroke-width="1.05"/><polyline points="233.5,196.8 232.8,195.5 232.1,194.5 231.4,194.2 230.6,194.6 229.9,195.6 229.2,196.9 228.4,198.2 227.7,199.0 227.0,199.2 226.3,198.7 225.6,197.6 224.9,196.2 224.2,195.0 223.5,194.2 222.7,194.1 222.0,194.7" fill="none" stroke="#cdbb72" stroke-width="1.05"/><polyline points="232.6,180.1 231.9,180.3 231.2,180.4 230.5,180.5 229.8,180.6 229.1,180.7 228.3,180.8 227.6,180.9 226.9,181.1 226.2,181.2 225.5,181.3 224.8,181.4 224.1,181.5 223.4,181.6 222.7,181.7 221.9,181.9 221.2,182.0" fill="none" stroke="#fdf9e2" stroke-width="4.2"/><polyline points="232.6,180.1 232.1,181.5 231.5,182.6 230.8,183.0 230.0,182.7 229.2,181.8 228.3,180.6 227.5,179.5 226.6,178.7 225.9,178.7 225.3,179.3 224.7,180.5 224.1,181.9 223.6,183.3 222.9,184.1 222.2,184.3 221.4,183.8" fill="none" stroke="#a4ad8a" stroke-width="1.05"/><polyline points="232.6,180.1 231.8,179.0 230.9,178.1 230.2,178.0 229.5,178.5 228.9,179.6 228.4,181.0 227.8,182.4 227.2,183.4 226.5,183.7 225.7,183.3 224.9,182.3 224.0,181.1 223.2,180.0 222.4,179.3 221.6,179.4 221.0,180.1" fill="none" stroke="#a4ad8a" stroke-width="1.05"/><polyline points="229.9,165.3 229.2,165.6 228.6,165.8 227.9,166.0 227.2,166.3 226.5,166.5 225.8,166.7 225.1,166.9 224.4,167.2 223.7,167.4 223.0,167.6 222.3,167.9 221.6,168.1 220.9,168.3 220.3,168.5 219.6,168.8 218.9,169.0" fill="none" stroke="#fdf9e2" stroke-width="4.2"/><polyline points="229.9,165.3 229.6,166.8 229.1,168.0 228.5,168.5 227.7,168.3 226.7,167.6 225.7,166.5 224.7,165.5 223.9,164.9 223.1,165.0 222.5,165.7 222.1,167.0 221.7,168.5 221.3,169.9 220.8,170.9 220.2,171.2 219.3,170.8" fill="none" stroke="#cdbb72" stroke-width="1.05"/><polyline points="229.9,165.3 228.9,164.3 228.0,163.6 227.3,163.6 226.7,164.2 226.2,165.4 225.8,166.9 225.4,168.4 225.0,169.4 224.3,169.8 223.5,169.6 222.5,168.7 221.5,167.7 220.6,166.7 219.7,166.2 219.0,166.4 218.4,167.2" fill="none" stroke="#cdbb72" stroke-width="1.05"/><polyline points="225.5,151.0 224.8,151.4 224.2,151.7 223.5,152.1 222.8,152.4 222.2,152.7 221.5,153.1 220.9,153.4 220.2,153.7 219.6,154.1 218.9,154.4 218.2,154.8 217.6,155.1 216.9,155.4 216.3,155.8 215.6,156.1 215.0,156.5" fill="none" stroke="#fdf9e2" stroke-width="4.2"/><polyline points="225.5,151.0 225.3,152.6 224.9,153.8 224.4,154.4 223.6,154.3 222.6,153.8 221.5,152.9 220.4,152.1 219.4,151.6 218.7,151.8 218.2,152.6 217.9,153.9 217.7,155.5 217.5,157.0 217.1,158.0 216.5,158.4 215.6,158.2" fill="none" stroke="#a4ad8a" stroke-width="1.05"/><polyline points="225.5,151.0 224.4,150.2 223.4,149.7 222.6,149.7 222.1,150.4 221.8,151.7 221.6,153.3 221.4,154.8 221.0,155.9 220.4,156.4 219.6,156.3 218.6,155.6 217.4,154.7 216.4,153.9 215.4,153.6 214.7,153.8 214.3,154.7" fill="none" stroke="#a4ad8a" stroke-width="1.05"/><polyline points="219.1,137.1 218.5,137.5 217.8,138.0 217.2,138.4 216.6,138.9 216.0,139.3 215.4,139.8 214.8,140.2 214.2,140.7 213.6,141.1 213.0,141.5 212.4,142.0 211.8,142.4 211.2,142.9 210.6,143.3 209.9,143.8 209.3,144.2" fill="none" stroke="#fdf9e2" stroke-width="4.2"/><polyline points="219.1,137.1 219.1,138.6 218.9,139.9 218.4,140.6 217.6,140.7 216.5,140.3 215.3,139.6 214.1,139.0 213.1,138.7 212.4,139.0 212.1,139.8 212.0,141.2 212.0,142.8 211.9,144.3 211.7,145.4 211.1,145.9 210.2,145.8" fill="none" stroke="#cdbb72" stroke-width="1.05"/><polyline points="219.1,137.1 217.9,136.4 216.8,136.1 216.1,136.3 215.6,137.1 215.5,138.4 215.5,139.9 215.5,141.5 215.3,142.6 214.8,143.2 213.9,143.2 212.8,142.8 211.6,142.1 210.4,141.5 209.4,141.3 208.8,141.7 208.5,142.6" fill="none" stroke="#cdbb72" stroke-width="1.05"/><polyline points="213.3,127.6 212.7,128.1 212.1,128.7 211.6,129.2 211.0,129.7 210.5,130.2 209.9,130.7 209.3,131.3 208.8,131.8 208.2,132.3 207.6,132.8 207.1,133.3 206.5,133.8 206.0,134.4 205.4,134.9 204.8,135.4 204.3,135.9" fill="none" stroke="#fdf9e2" stroke-width="4.2"/><polyline points="213.3,127.6 213.4,129.2 213.4,130.4 213.0,131.2 212.2,131.4 211.1,131.1 209.8,130.6 208.5,130.1 207.5,129.9 206.9,130.3 206.6,131.2 206.6,132.6 206.7,134.2 206.8,135.7 206.7,136.8 206.2,137.4 205.3,137.4" fill="none" stroke="#a4ad8a" stroke-width="1.05"/><polyline points="213.3,127.6 212.0,127.1 210.9,126.9 210.2,127.2 209.9,128.0 209.9,129.3 210.0,130.9 210.1,132.4 210.0,133.6 209.6,134.3 208.7,134.4 207.6,134.0 206.3,133.5 205.1,133.1 204.1,133.0 203.5,133.4 203.3,134.5" fill="none" stroke="#a4ad8a" stroke-width="1.05"/><polyline points="204.3,116.3 203.8,116.9 203.3,117.5 202.8,118.1 202.3,118.7 201.8,119.3 201.3,119.9 200.8,120.5 200.4,121.1 199.9,121.7 199.4,122.3 198.9,122.9 198.4,123.5 197.9,124.1 197.4,124.7 196.9,125.3 196.4,126.0" fill="none" stroke="#fdf9e2" stroke-width="4.2"/><polyline points="204.3,116.3 204.6,117.8 204.7,119.0 204.4,119.8 203.7,120.2 202.5,120.1 201.2,119.8 199.9,119.5 198.9,119.5 198.3,120.0 198.1,120.9 198.3,122.3 198.6,123.8 198.9,125.3 198.9,126.4 198.5,127.1 197.6,127.2" fill="none" stroke="#cdbb72" stroke-width="1.05"/><polyline points="204.3,116.3 203.0,116.0 201.9,115.9 201.2,116.3 201.0,117.2 201.1,118.5 201.5,120.0 201.8,121.5 201.8,122.7 201.4,123.5 200.6,123.7 199.4,123.6 198.1,123.2 196.8,123.0 195.9,123.1 195.3,123.6 195.2,124.7" fill="none" stroke="#cdbb72" stroke-width="1.05"/><polyline points="194.1,106.5 193.6,107.2 193.2,107.9 192.8,108.5 192.4,109.2 192.0,109.9 191.6,110.6 191.2,111.3 190.7,111.9 190.3,112.6 189.9,113.3 189.5,114.0 189.1,114.7 188.7,115.4 188.2,116.0 187.8,116.7 187.4,117.4" fill="none" stroke="#fdf9e2" stroke-width="4.2"/><polyline points="194.1,106.5 194.6,107.9 194.8,109.2 194.6,110.0 193.9,110.5 192.8,110.6 191.4,110.5 190.1,110.4 189.1,110.6 188.5,111.2 188.5,112.1 188.8,113.5 189.4,114.9 189.8,116.3 189.9,117.4 189.6,118.2 188.7,118.5" fill="none" stroke="#a4ad8a" stroke-width="1.05"/><polyline points="194.1,106.5 192.7,106.4 191.7,106.6 191.0,107.1 190.9,108.0 191.2,109.3 191.7,110.7 192.2,112.1 192.4,113.3 192.1,114.1 191.3,114.5 190.1,114.5 188.8,114.4 187.5,114.4 186.5,114.6 186.1,115.3 186.1,116.3" fill="none" stroke="#a4ad8a" stroke-width="1.05"/><polyline points="182.7,98.5 182.4,99.3 182.1,100.0 181.8,100.8 181.4,101.5 181.1,102.2 180.8,103.0 180.4,103.7 180.1,104.5 179.8,105.2 179.5,106.0 179.1,106.7 178.8,107.4 178.5,108.2 178.1,108.9 177.8,109.7 177.5,110.4" fill="none" stroke="#fdf9e2" stroke-width="4.2"/><polyline points="182.7,98.5 183.4,99.9 183.8,101.0 183.7,101.9 183.1,102.5 182.0,102.8 180.6,102.9 179.3,103.0 178.3,103.4 177.8,104.1 177.9,105.0 178.4,106.3 179.1,107.6 179.7,108.9 180.0,110.0 179.7,110.8 178.9,111.3" fill="none" stroke="#cdbb72" stroke-width="1.05"/><polyline points="182.7,98.5 181.4,98.7 180.4,99.0 179.8,99.6 179.8,100.5 180.2,101.7 180.9,103.1 181.6,104.4 181.9,105.5 181.7,106.4 181.0,106.9 179.8,107.1 178.5,107.2 177.2,107.4 176.3,107.8 175.9,108.5 176.0,109.5" fill="none" stroke="#cdbb72" stroke-width="1.05"/><polyline points="170.4,92.4 170.1,93.2 169.9,94.0 169.7,94.8 169.4,95.6 169.2,96.4 169.0,97.1 168.7,97.9 168.5,98.7 168.3,99.5 168.0,100.3 167.8,101.1 167.6,101.9 167.3,102.7 167.1,103.5 166.9,104.2 166.6,105.0" fill="none" stroke="#fdf9e2" stroke-width="4.2"/><polyline points="170.4,92.4 171.2,93.6 171.7,94.7 171.7,95.6 171.2,96.3 170.1,96.7 168.8,97.1 167.5,97.5 166.6,98.0 166.2,98.7 166.4,99.7 167.0,100.8 167.9,102.0 168.7,103.2 169.1,104.2 168.9,105.1 168.2,105.6" fill="none" stroke="#a4ad8a" stroke-width="1.05"/><polyline points="170.4,92.4 169.1,92.8 168.1,93.3 167.6,94.0 167.7,94.9 168.3,96.0 169.1,97.2 169.9,98.4 170.4,99.5 170.3,100.3 169.7,101.0 168.5,101.4 167.2,101.7 166.0,102.1 165.1,102.7 164.8,103.4 165.1,104.4" fill="none" stroke="#a4ad8a" stroke-width="1.05"/><polyline points="160.3,89.1 160.1,89.9 160.0,90.7 159.8,91.6 159.6,92.4 159.5,93.2 159.3,94.0 159.2,94.8 159.0,95.6 158.9,96.4 158.7,97.3 158.6,98.1 158.4,98.9 158.2,99.7 158.1,100.5 157.9,101.3 157.8,102.1" fill="none" stroke="#fdf9e2" stroke-width="4.2"/><polyline points="160.3,89.1 161.2,90.2 161.8,91.2 162.0,92.1 161.4,92.8 160.4,93.4 159.2,94.0 157.9,94.5 157.1,95.1 156.7,95.9 157.0,96.8 157.8,97.9 158.8,99.0 159.6,100.1 160.1,101.0 160.0,101.9 159.4,102.5" fill="none" stroke="#cdbb72" stroke-width="1.05"/><polyline points="160.3,89.1 159.0,89.7 158.1,90.3 157.7,91.0 157.9,91.9 158.6,92.9 159.5,94.0 160.4,95.1 161.0,96.1 161.0,97.0 160.4,97.7 159.3,98.3 158.0,98.8 156.9,99.3 156.1,100.0 155.8,100.8 156.2,101.7" fill="none" stroke="#cdbb72" stroke-width="1.05"/><polyline points="147.0,86.8 147.0,87.7 146.9,88.5 146.9,89.3 146.8,90.2 146.8,91.0 146.7,91.8 146.7,92.7 146.6,93.5 146.6,94.3 146.5,95.2 146.4,96.0 146.4,96.8 146.3,97.7 146.3,98.5 146.2,99.3 146.2,100.1" fill="none" stroke="#fdf9e2" stroke-width="4.2"/><polyline points="147.0,86.8 148.1,87.8 148.9,88.7 149.1,89.5 148.7,90.3 147.7,91.1 146.5,91.8 145.4,92.6 144.6,93.3 144.4,94.1 144.8,95.0 145.7,95.9 146.8,96.9 147.8,97.8 148.4,98.7 148.4,99.5 147.8,100.3" fill="none" stroke="#a4ad8a" stroke-width="1.05"/><polyline points="147.0,86.8 145.9,87.6 145.0,88.3 144.7,89.1 145.0,90.0 145.8,90.9 146.9,91.9 147.9,92.8 148.6,93.7 148.7,94.5 148.2,95.3 147.2,96.1 146.0,96.8 144.9,97.5 144.2,98.3 144.1,99.1 144.6,100.0" fill="none" stroke="#a4ad8a" stroke-width="1.05"/><polyline points="140.0,118.8 140.0,117.9 140.0,117.1 140.0,116.2 140.0,115.4 140.0,114.5 140.0,113.7 140.0,112.8 140.0,111.9 140.0,111.1 140.0,110.2 140.0,109.4 140.0,108.5 140.0,107.7 140.0,106.8 140.0,106.0 140.0,105.1" fill="none" stroke="#fdf9e2" stroke-width="4.2"/><polyline points="140.0,118.8 141.2,117.9 142.0,117.1 142.2,116.2 141.8,115.4 140.8,114.5 139.6,113.7 138.6,112.8 137.9,111.9 137.9,111.1 138.5,110.2 139.5,109.4 140.7,108.5 142.2,107.7 143.1,106.8 143.4,106.0 143.0,105.1" fill="none" stroke="#939c82" stroke-width="1.25"/><polyline points="140.0,118.8 138.8,117.9 138.0,117.1 137.8,116.2 138.2,115.4 139.2,114.5 140.4,113.7 141.4,112.8 142.1,111.9 142.1,111.1 141.5,110.2 140.5,109.4 139.3,108.5 137.8,107.7 136.9,106.8 136.6,106.0 137.0,105.1" fill="none" stroke="#939c82" stroke-width="1.25"/><polyline points="150.2,120.3 150.3,119.5 150.4,118.6 150.6,117.7 150.7,116.8 150.8,115.9 150.9,115.0 151.1,114.2 151.2,113.3 151.3,112.4 151.4,111.5 151.5,110.6 151.7,109.7 151.8,108.9 151.9,108.0 152.0,107.1 152.1,106.2" fill="none" stroke="#fdf9e2" stroke-width="4.2"/><polyline points="150.2,120.3 151.5,119.7 152.4,118.9 152.7,118.1 152.3,117.1 151.4,116.0 150.2,114.9 149.4,113.8 149.0,112.9 149.4,112.0 150.3,111.3 151.7,110.7 152.9,110.0 154.3,109.3 154.9,108.5 154.9,107.6 154.3,106.6" fill="none" stroke="#939c82" stroke-width="1.25"/><polyline points="150.2,120.3 149.1,119.2 148.5,118.2 148.4,117.3 149.1,116.5 150.3,115.8 151.6,115.2 152.7,114.5 153.3,113.7 153.2,112.7 152.5,111.7 151.4,110.6 150.4,109.5 149.3,108.4 148.9,107.4 149.2,106.6 149.9,105.8" fill="none" stroke="#939c82" stroke-width="1.25"/><polyline points="162.0,124.3 162.3,123.4 162.6,122.6 162.8,121.7 163.1,120.8 163.4,120.0 163.6,119.1 163.9,118.2 164.2,117.4 164.5,116.5 164.7,115.6 165.0,114.8 165.3,113.9 165.5,113.0 165.8,112.2 166.1,111.3 166.3,110.5" fill="none" stroke="#fdf9e2" stroke-width="4.2"/><polyline points="162.0,124.3 163.5,123.9 164.5,123.4 164.9,122.5 164.5,121.4 163.7,120.1 162.8,118.8 162.2,117.5 162.1,116.5 162.8,115.8 164.0,115.3 165.5,115.0 166.8,114.6 168.0,114.1 168.5,113.3 168.4,112.3 167.9,111.1" fill="none" stroke="#939c82" stroke-width="1.25"/><polyline points="162.0,124.3 161.1,122.9 160.7,121.8 160.8,120.8 161.7,120.2 163.0,119.8 164.5,119.5 165.7,119.0 166.3,118.2 166.1,117.2 165.4,115.9 164.5,114.6 163.7,113.3 163.1,112.0 163.1,111.0 163.8,110.3 164.8,109.8" fill="none" stroke="#939c82" stroke-width="1.25"/><polyline points="171.7,130.0 172.1,129.1 172.5,128.3 172.9,127.5 173.3,126.7 173.7,125.8 174.1,125.0 174.5,124.2 174.9,123.4 175.3,122.5 175.7,121.7 176.1,120.9 176.5,120.1 176.9,119.2 177.4,118.4 177.8,117.6 178.2,116.7" fill="none" stroke="#fdf9e2" stroke-width="4.2"/><polyline points="171.7,130.0 173.2,129.9 174.3,129.5 174.8,128.7 174.6,127.5 173.9,125.9 173.2,124.4 172.8,123.0 173.1,122.1 174.0,121.6 175.4,121.5 177.0,121.4 178.2,121.1 179.2,120.7 179.6,119.9 179.4,118.7 179.0,117.3" fill="none" stroke="#939c82" stroke-width="1.25"/><polyline points="171.7,130.0 171.0,128.4 170.7,127.1 171.1,126.3 172.1,125.8 173.6,125.7 175.1,125.6 176.3,125.3 176.8,124.6 176.7,123.4 176.1,121.9 175.3,120.3 174.9,119.0 174.6,117.7 175.1,116.9 176.1,116.5 177.3,116.2" fill="none" stroke="#939c82" stroke-width="1.25"/><polyline points="180.0,135.6 180.5,134.9 181.0,134.2 181.5,133.4 181.9,132.7 182.4,132.0 182.9,131.3 183.4,130.6 183.9,129.9 184.3,129.2 184.8,128.4 185.3,127.7 185.8,127.0 186.3,126.3 186.8,125.6 187.2,124.9 187.7,124.2" fill="none" stroke="#fdf9e2" stroke-width="4.2"/><polyline points="180.0,135.6 181.5,135.7 182.6,135.6 183.2,135.0 183.2,133.9 182.8,132.4 182.3,130.7 182.0,129.3 182.1,128.3 182.9,127.8 184.1,127.8 185.6,128.0 186.9,128.1 188.3,128.1 189.1,127.7 189.4,126.8 189.3,125.6" fill="none" stroke="#939c82" stroke-width="1.25"/><polyline points="180.0,135.6 179.5,134.0 179.4,132.7 179.8,131.9 180.7,131.6 182.0,131.7 183.5,131.9 184.8,131.9 185.6,131.4 185.8,130.5 185.6,129.1 185.1,127.5 184.6,126.0 184.2,124.5 184.4,123.5 185.1,122.9 186.2,122.8" fill="none" stroke="#939c82" stroke-width="1.25"/><polyline points="187.6,145.3 188.2,144.7 188.8,144.0 189.5,143.3 190.1,142.7 190.7,142.0 191.3,141.4 192.0,140.7 192.6,140.1 193.2,139.4 193.9,138.8 194.5,138.1 195.1,137.5 195.7,136.8 196.4,136.2 197.0,135.5 197.6,134.9" fill="none" stroke="#fdf9e2" stroke-width="4.2"/><polyline points="187.6,145.3 189.1,145.8 190.2,145.8 190.9,145.2 191.0,143.8 190.7,142.0 190.5,140.3 190.6,138.9 191.2,138.3 192.4,138.3 193.9,138.8 195.4,139.3 196.5,139.3 197.4,139.0 197.8,138.0 197.9,136.6 197.9,135.3" fill="none" stroke="#939c82" stroke-width="1.25"/><polyline points="187.6,145.3 187.4,143.5 187.4,142.2 188.1,141.5 189.2,141.6 190.7,142.1 192.2,142.5 193.4,142.5 194.0,141.9 194.1,140.5 193.8,138.8 193.6,137.0 193.7,135.7 194.0,134.6 194.9,134.3 196.1,134.4 197.3,134.5" fill="none" stroke="#939c82" stroke-width="1.25"/><polyline points="195.1,155.5 195.8,155.0 196.4,154.5 197.1,154.0 197.8,153.6 198.5,153.1 199.1,152.6 199.8,152.1 200.5,151.6 201.2,151.1 201.9,150.6 202.5,150.2 203.2,149.7 203.9,149.2 204.6,148.7 205.2,148.2 205.9,147.7" fill="none" stroke="#fdf9e2" stroke-width="4.2"/><polyline points="195.1,155.5 196.4,156.2 197.5,156.6 198.2,156.2 198.6,155.1 198.7,153.4 198.7,151.7 198.8,150.2 199.3,149.4 200.3,149.4 201.5,150.0 202.8,150.7 204.1,151.3 205.3,151.8 206.1,151.5 206.5,150.6 206.7,149.3" fill="none" stroke="#939c82" stroke-width="1.25"/><polyline points="195.1,155.5 195.1,153.8 195.4,152.5 196.0,151.9 197.0,152.1 198.3,152.7 199.6,153.5 200.8,154.0 201.7,153.8 202.1,152.9 202.2,151.3 202.2,149.6 202.3,148.0 202.5,146.6 203.1,145.9 204.0,145.9 205.1,146.2" fill="none" stroke="#939c82" stroke-width="1.25"/><polyline points="200.7,165.7 201.3,165.4 202.0,165.0 202.7,164.7 203.4,164.4 204.1,164.0 204.7,163.7 205.4,163.4 206.1,163.1 206.8,162.7 207.5,162.4 208.1,162.1 208.8,161.7 209.5,161.4 210.2,161.1 210.9,160.8 211.5,160.4" fill="none" stroke="#fdf9e2" stroke-width="4.2"/><polyline points="200.7,165.7 201.8,166.6 202.8,167.1 203.5,167.1 204.1,166.3 204.4,164.9 204.6,163.3 204.9,161.8 205.3,160.8 206.0,160.5 206.9,160.8 208.0,161.6 209.1,162.5 210.3,163.7 211.4,164.4 212.2,164.4 212.7,163.7" fill="none" stroke="#939c82" stroke-width="1.25"/><polyline points="200.7,165.7 200.9,164.1 201.3,162.9 201.9,162.4 202.7,162.5 203.7,163.2 204.9,164.1 206.0,164.9 206.9,165.3 207.6,165.0 208.0,164.0 208.3,162.6 208.5,161.0 208.7,159.1 209.0,157.8 209.6,157.2 210.4,157.2" fill="none" stroke="#939c82" stroke-width="1.25"/><polyline points="204.4,178.1 205.1,177.9 205.8,177.7 206.5,177.5 207.2,177.4 207.9,177.2 208.6,177.0 209.3,176.8 210.0,176.6 210.7,176.4 211.4,176.3 212.1,176.1 212.8,175.9 213.5,175.7 214.2,175.5 214.9,175.3 215.6,175.2" fill="none" stroke="#fdf9e2" stroke-width="4.2"/><polyline points="204.4,178.1 205.3,179.2 206.2,179.9 207.0,180.0 207.6,179.4 208.1,178.3 208.6,176.8 209.0,175.4 209.5,174.4 210.2,174.0 211.0,174.3 211.9,175.2 212.9,176.3 213.9,177.8 214.8,178.9 215.7,179.3 216.3,179.0" fill="none" stroke="#939c82" stroke-width="1.25"/><polyline points="204.4,178.1 204.8,176.6 205.4,175.5 206.0,175.1 206.8,175.3 207.7,176.1 208.6,177.2 209.6,178.3 210.4,178.9 211.2,178.9 211.8,178.2 212.3,177.0 212.7,175.5 213.1,173.6 213.5,172.2 214.1,171.4 214.8,171.3" fill="none" stroke="#939c82" stroke-width="1.25"/><polyline points="207.3,189.4 207.9,189.3 208.5,189.3 209.2,189.2 209.8,189.2 210.4,189.1 211.0,189.1 211.7,189.0 212.3,189.0 212.9,188.9 213.5,188.9 214.2,188.8 214.8,188.7 215.4,188.7 216.0,188.6 216.7,188.6 217.3,188.5" fill="none" stroke="#fdf9e2" stroke-width="4.2"/><polyline points="207.3,189.4 208.0,190.5 208.7,191.3 209.3,191.7 209.9,191.6 210.5,190.9 211.1,189.9 211.6,188.6 212.2,187.5 212.8,186.7 213.4,186.3 214.0,186.5 214.7,187.2 215.4,188.8 216.2,190.4 216.9,191.9 217.6,193.0" fill="none" stroke="#939c82" stroke-width="1.25"/><polyline points="207.3,189.4 207.8,188.2 208.4,187.2 209.0,186.7 209.6,186.7 210.3,187.3 211.0,188.2 211.7,189.4 212.4,190.4 213.1,191.2 213.7,191.4 214.3,191.1 214.9,190.3 215.4,188.6 215.9,186.9 216.5,185.3 217.0,184.1" fill="none" stroke="#939c82" stroke-width="1.25"/><polyline points="206.2,202.8 206.9,202.9 207.6,202.9 208.3,203.0 208.9,203.1 209.6,203.2 210.3,203.3 211.0,203.3 211.7,203.4 212.3,203.5 213.0,203.6 213.7,203.7 214.4,203.7 215.1,203.8 215.7,203.9 216.4,204.0 217.1,204.1" fill="none" stroke="#fdf9e2" stroke-width="4.2"/><polyline points="206.2,202.8 206.8,204.1 207.4,205.1 208.0,205.6 208.7,205.4 209.5,204.6 210.3,203.4 211.1,202.3 211.8,201.4 212.6,201.0 213.2,201.2 213.8,202.1 214.4,203.4 214.9,205.2 215.5,206.9 216.1,208.0 216.7,208.5" fill="none" stroke="#939c82" stroke-width="1.25"/><polyline points="206.2,202.8 207.0,201.6 207.8,200.8 208.5,200.5 209.1,200.8 209.7,201.8 210.3,203.1 210.9,204.4 211.5,205.5 212.1,206.0 212.8,205.9 213.6,205.2 214.4,204.1 215.2,202.4 216.0,200.9 216.8,199.9 217.5,199.6" fill="none" stroke="#939c82" stroke-width="1.25"/><polyline points="204.3,215.2 205.0,215.4 205.7,215.6 206.3,215.8 207.0,216.0 207.6,216.2 208.3,216.4 208.9,216.6 209.6,216.8 210.2,217.0 210.9,217.2 211.5,217.4 212.2,217.6 212.9,217.8 213.5,218.0 214.2,218.2 214.8,218.4" fill="none" stroke="#fdf9e2" stroke-width="4.2"/><polyline points="204.3,215.2 204.7,216.6 205.2,217.7 205.7,218.2 206.4,218.2 207.3,217.6 208.2,216.6 209.2,215.6 210.0,214.8 210.8,214.6 211.4,214.9 211.9,215.8 212.3,217.1 212.6,219.1 212.9,220.8 213.3,222.1 213.8,222.8" fill="none" stroke="#939c82" stroke-width="1.25"/><polyline points="204.3,215.2 205.3,214.2 206.1,213.5 206.9,213.3 207.5,213.8 207.9,214.8 208.3,216.2 208.7,217.6 209.1,218.8 209.7,219.4 210.4,219.5 211.2,219.0 212.1,218.1 213.1,216.6 214.2,215.2 215.1,214.3 215.8,214.0" fill="none" stroke="#939c82" stroke-width="1.25"/><polyline points="201.3,226.4 201.9,226.7 202.5,227.0 203.1,227.3 203.7,227.6 204.3,227.9 204.9,228.2 205.5,228.6 206.1,228.9 206.7,229.2 207.3,229.5 207.9,229.8 208.5,230.1 209.1,230.4 209.7,230.7 210.3,231.0 210.9,231.3" fill="none" stroke="#fdf9e2" stroke-width="4.2"/><polyline points="201.3,226.4 201.5,227.8 201.8,229.0 202.2,229.7 202.9,229.8 203.7,229.4 204.7,228.7 205.8,227.9 206.7,227.2 207.6,226.9 208.2,227.2 208.6,228.0 208.9,229.2 208.8,231.1 208.9,232.9 209.0,234.5 209.3,235.6" fill="none" stroke="#939c82" stroke-width="1.25"/><polyline points="201.3,226.4 202.3,225.6 203.3,225.1 204.0,225.0 204.5,225.5 204.9,226.4 205.1,227.8 205.3,229.2 205.5,230.5 205.9,231.4 206.4,231.8 207.2,231.6 208.1,231.0 209.4,229.7 210.5,228.5 211.6,227.5 212.5,227.1" fill="none" stroke="#939c82" stroke-width="1.25"/><polyline points="196.1,236.6 196.7,237.0 197.2,237.4 197.8,237.8 198.4,238.3 199.0,238.7 199.6,239.1 200.1,239.5 200.7,240.0 201.3,240.4 201.9,240.8 202.4,241.3 203.0,241.7 203.6,242.1 204.2,242.5 204.7,243.0 205.3,243.4" fill="none" stroke="#fdf9e2" stroke-width="4.2"/><polyline points="196.1,236.6 196.1,238.0 196.2,239.3 196.6,240.0 197.3,240.2 198.3,239.9 199.5,239.3 200.6,238.6 201.7,238.2 202.5,238.3 202.9,238.9 203.2,239.9 203.2,241.4 202.9,243.3 202.8,245.1 202.8,246.4 203.2,247.2" fill="none" stroke="#939c82" stroke-width="1.25"/><polyline points="196.1,236.6 197.2,235.9 198.3,235.6 199.0,235.7 199.5,236.4 199.6,237.5 199.6,239.0 199.6,240.5 199.7,241.7 200.1,242.5 200.8,242.8 201.7,242.6 202.8,242.0 204.3,240.9 205.6,240.0 206.6,239.5 207.4,239.6" fill="none" stroke="#939c82" stroke-width="1.25"/><polyline points="189.4,246.0 189.9,246.5 190.4,247.1 191.0,247.6 191.5,248.2 192.0,248.7 192.6,249.3 193.1,249.8 193.6,250.4 194.2,250.9 194.7,251.5 195.2,252.0 195.8,252.6 196.3,253.1 196.8,253.7 197.4,254.2 197.9,254.8" fill="none" stroke="#fdf9e2" stroke-width="4.2"/><polyline points="189.4,246.0 189.1,247.5 189.1,248.7 189.5,249.5 190.3,249.8 191.4,249.6 192.6,249.2 193.9,248.8 194.9,248.7 195.6,249.0 195.9,249.9 195.8,251.3 195.6,252.8 195.1,254.7 194.9,256.2 195.0,257.3 195.6,257.8" fill="none" stroke="#939c82" stroke-width="1.25"/><polyline points="189.4,246.0 190.6,245.6 191.7,245.4 192.4,245.7 192.7,246.6 192.7,247.9 192.5,249.4 192.3,250.9 192.3,252.1 192.7,252.8 193.5,253.0 194.6,252.8 195.9,252.3 197.5,251.6 198.8,251.1 199.7,251.2 200.2,251.7" fill="none" stroke="#939c82" stroke-width="1.25"/><polyline points="180.0,254.3 180.5,255.0 181.0,255.7 181.5,256.5 182.0,257.2 182.4,257.9 182.9,258.6 183.4,259.3 183.9,260.1 184.4,260.8 184.9,261.5 185.3,262.2 185.8,262.9 186.3,263.6 186.8,264.4 187.3,265.1 187.8,265.8" fill="none" stroke="#fdf9e2" stroke-width="4.2"/><polyline points="180.0,254.3 179.5,255.9 179.4,257.2 179.8,258.0 180.7,258.3 182.1,258.2 183.6,258.0 184.8,258.0 185.6,258.5 185.8,259.4 185.6,260.9 185.0,262.5 184.6,264.0 184.3,265.5 184.5,266.5 185.2,266.9 186.3,267.1" fill="none" stroke="#939c82" stroke-width="1.25"/><polyline points="180.0,254.3 181.5,254.2 182.6,254.3 183.2,254.9 183.2,256.1 182.8,257.6 182.3,259.2 182.0,260.6 182.2,261.6 182.9,262.1 184.2,262.1 185.7,261.9 187.0,261.8 188.4,261.8 189.1,262.2 189.3,263.2 189.2,264.5" fill="none" stroke="#939c82" stroke-width="1.25"/><polyline points="171.4,260.4 171.8,261.2 172.2,262.0 172.6,262.8 173.0,263.7 173.4,264.5 173.8,265.3 174.2,266.1 174.6,266.9 174.9,267.8 175.3,268.6 175.7,269.4 176.1,270.2 176.5,271.1 176.9,271.9 177.3,272.7 177.7,273.5" fill="none" stroke="#fdf9e2" stroke-width="4.2"/><polyline points="171.4,260.4 170.7,261.9 170.4,263.2 170.7,264.0 171.7,264.5 173.2,264.6 174.7,264.7 175.9,265.0 176.5,265.7 176.3,266.9 175.7,268.3 175.0,269.9 174.5,271.3 174.2,272.6 174.6,273.4 175.6,273.8 176.7,274.2" fill="none" stroke="#939c82" stroke-width="1.25"/><polyline points="171.4,260.4 172.9,260.5 174.0,260.8 174.4,261.6 174.2,262.8 173.6,264.4 172.8,265.9 172.4,267.2 172.7,268.2 173.6,268.7 175.0,268.8 176.5,268.9 177.8,269.2 178.8,269.6 179.2,270.4 179.1,271.6 178.7,272.9" fill="none" stroke="#939c82" stroke-width="1.25"/><polyline points="161.2,266.7 161.5,267.5 161.7,268.4 162.0,269.2 162.2,270.0 162.4,270.9 162.7,271.7 162.9,272.5 163.2,273.4 163.4,274.2 163.7,275.0 163.9,275.9 164.2,276.7 164.4,277.5 164.7,278.4 164.9,279.2 165.2,280.0" fill="none" stroke="#fdf9e2" stroke-width="4.2"/><polyline points="161.2,266.7 160.3,268.0 159.8,269.1 159.9,270.0 160.6,270.7 161.8,271.1 163.2,271.5 164.5,271.9 165.2,272.5 165.3,273.4 164.8,274.6 164.0,275.8 163.1,277.1 162.1,278.4 161.7,279.5 162.0,280.4 162.8,281.0" fill="none" stroke="#939c82" stroke-width="1.25"/><polyline points="161.2,266.7 162.6,267.1 163.6,267.6 164.0,268.4 163.8,269.4 163.1,270.6 162.1,271.9 161.4,273.1 161.1,274.2 161.5,275.0 162.5,275.5 163.9,275.9 165.2,276.3 166.7,276.6 167.6,277.2 167.8,278.0 167.5,279.1" fill="none" stroke="#939c82" stroke-width="1.25"/><polyline points="149.9,269.7 150.1,270.5 150.2,271.4 150.3,272.3 150.4,273.2 150.5,274.1 150.6,275.0 150.8,275.9 150.9,276.8 151.0,277.6 151.1,278.5 151.2,279.4 151.4,280.3 151.5,281.2 151.6,282.1 151.7,283.0 151.8,283.8" fill="none" stroke="#fdf9e2" stroke-width="4.2"/><polyline points="149.9,269.7 148.9,270.8 148.2,271.8 148.1,272.7 148.8,273.5 150.0,274.2 151.3,274.9 152.5,275.6 153.0,276.4 152.9,277.3 152.2,278.3 151.1,279.4 150.0,280.5 149.0,281.6 148.6,282.6 148.9,283.5 149.7,284.2" fill="none" stroke="#939c82" stroke-width="1.25"/><polyline points="149.9,269.7 151.2,270.3 152.2,271.1 152.4,271.9 152.0,272.9 151.1,274.0 149.9,275.1 149.0,276.2 148.7,277.1 149.1,278.0 150.1,278.7 151.4,279.4 152.7,280.1 154.0,280.7 154.6,281.5 154.5,282.5 154.0,283.5" fill="none" stroke="#939c82" stroke-width="1.25"/><polyline points="139.8,271.5 139.8,272.4 139.8,273.2 139.8,274.0 139.8,274.9 139.8,275.7 139.8,276.5 139.8,277.4 139.8,278.2 139.8,279.0 139.8,279.9 139.8,280.7 139.8,281.6 139.8,282.4 139.8,283.2 139.8,284.1 139.7,284.9" fill="none" stroke="#fdf9e2" stroke-width="4.2"/><polyline points="139.8,271.5 138.7,272.4 137.8,273.2 137.6,274.0 137.9,274.9 138.8,275.7 140.0,276.5 141.1,277.4 141.8,278.2 141.9,279.1 141.5,279.9 140.5,280.7 139.3,281.6 137.8,282.4 136.8,283.2 136.3,284.1 136.4,284.9" fill="none" stroke="#939c82" stroke-width="1.25"/><polyline points="139.8,271.5 140.9,272.4 141.7,273.2 142.0,274.0 141.6,274.9 140.7,275.7 139.6,276.5 138.5,277.4 137.7,278.2 137.6,279.0 138.1,279.9 139.0,280.7 140.2,281.6 141.7,282.4 142.8,283.2 143.2,284.1 143.1,284.9" fill="none" stroke="#939c82" stroke-width="1.25"/><polyline points="128.2,269.6 128.1,270.5 127.9,271.4 127.8,272.2 127.6,273.1 127.5,273.9 127.4,274.8 127.2,275.7 127.1,276.5 127.0,277.4 126.8,278.3 126.7,279.1 126.6,280.0 126.4,280.8 126.3,281.7 126.1,282.6 126.0,283.4" fill="none" stroke="#fdf9e2" stroke-width="4.2"/><polyline points="128.2,269.6 126.9,270.2 126.0,270.9 125.6,271.8 126.0,272.7 126.8,273.8 127.9,274.9 128.8,276.0 129.2,277.0 129.0,277.8 128.1,278.5 126.8,279.1 125.5,279.8 124.1,280.3 123.2,281.0 123.1,281.9 123.4,282.9" fill="none" stroke="#939c82" stroke-width="1.25"/><polyline points="128.2,269.6 129.2,270.7 129.9,271.8 129.9,272.7 129.3,273.4 128.2,274.1 126.8,274.7 125.7,275.3 125.0,276.1 124.9,277.0 125.5,278.0 126.5,279.1 127.6,280.2 128.7,281.3 129.3,282.3 129.2,283.2 128.6,284.0" fill="none" stroke="#939c82" stroke-width="1.25"/><polyline points="116.9,266.6 116.7,267.4 116.4,268.2 116.2,269.0 115.9,269.8 115.7,270.6 115.4,271.4 115.2,272.1 114.9,272.9 114.6,273.7 114.4,274.5 114.1,275.3 113.9,276.1 113.6,276.9 113.4,277.6 113.1,278.4 112.9,279.2" fill="none" stroke="#fdf9e2" stroke-width="4.2"/><polyline points="116.9,266.6 115.6,267.0 114.6,267.4 114.1,268.1 114.2,269.0 114.8,270.2 115.6,271.4 116.4,272.7 116.8,273.8 116.7,274.6 116.0,275.2 114.8,275.6 113.5,275.9 111.8,276.1 110.6,276.4 109.9,277.0 109.8,277.9" fill="none" stroke="#939c82" stroke-width="1.25"/><polyline points="116.9,266.6 117.7,267.9 118.2,269.0 118.2,269.9 117.6,270.5 116.5,270.9 115.2,271.3 113.9,271.6 113.0,272.1 112.6,272.8 112.8,273.8 113.5,275.0 114.3,276.3 115.5,277.6 116.2,278.9 116.4,279.8 116.0,280.6" fill="none" stroke="#939c82" stroke-width="1.25"/><polyline points="108.6,261.1 108.3,261.9 107.9,262.7 107.5,263.4 107.1,264.2 106.7,265.0 106.4,265.8 106.0,266.6 105.6,267.4 105.2,268.2 104.9,269.0 104.5,269.8 104.1,270.6 103.7,271.4 103.4,272.2 103.0,273.0 102.6,273.7" fill="none" stroke="#fdf9e2" stroke-width="4.2"/><polyline points="108.6,261.1 107.2,261.2 106.1,261.5 105.6,262.2 105.7,263.3 106.3,264.8 107.0,266.3 107.6,267.6 107.5,268.6 106.9,269.3 105.7,269.5 104.2,269.6 102.9,269.8 101.5,269.9 100.7,270.5 100.6,271.4 100.9,272.6" fill="none" stroke="#939c82" stroke-width="1.25"/><polyline points="108.6,261.1 109.3,262.5 109.6,263.8 109.4,264.7 108.5,265.1 107.2,265.3 105.7,265.4 104.4,265.6 103.7,266.2 103.6,267.1 104.0,268.5 104.7,269.9 105.4,271.4 106.0,272.8 106.0,273.8 105.4,274.5 104.4,274.9" fill="none" stroke="#939c82" stroke-width="1.25"/><polyline points="98.9,255.3 98.5,256.0 98.0,256.6 97.6,257.3 97.2,257.9 96.7,258.5 96.3,259.2 95.9,259.8 95.4,260.4 95.0,261.1 94.6,261.7 94.1,262.4 93.7,263.0 93.3,263.6 92.8,264.3 92.4,264.9 92.0,265.5" fill="none" stroke="#fdf9e2" stroke-width="4.2"/><polyline points="98.9,255.3 97.6,255.2 96.5,255.3 95.9,255.7 95.7,256.5 95.9,257.7 96.3,259.2 96.7,260.6 96.9,261.8 96.7,262.7 96.1,263.1 95.0,263.1 93.7,263.0 92.0,262.5 90.6,262.3 89.6,262.4 89.1,262.9" fill="none" stroke="#939c82" stroke-width="1.25"/><polyline points="98.9,255.3 99.3,256.8 99.5,258.0 99.3,258.8 98.7,259.3 97.6,259.3 96.3,259.2 95.0,259.0 93.9,259.1 93.3,259.5 93.1,260.4 93.3,261.6 93.7,263.0 94.5,264.8 95.0,266.3 95.2,267.5 94.9,268.2" fill="none" stroke="#939c82" stroke-width="1.25"/><polyline points="92.4,246.0 91.9,246.7 91.3,247.3 90.7,247.9 90.1,248.5 89.5,249.2 88.9,249.8 88.4,250.4 87.8,251.1 87.2,251.7 86.6,252.3 86.0,252.9 85.5,253.6 84.9,254.2 84.3,254.8 83.7,255.4 83.1,256.1" fill="none" stroke="#fdf9e2" stroke-width="4.2"/><polyline points="92.4,246.0 91.0,245.6 89.9,245.6 89.2,246.1 89.1,247.3 89.3,248.9 89.6,250.6 89.6,252.0 89.3,252.9 88.4,253.2 87.1,252.9 85.7,252.5 84.3,252.2 83.1,251.9 82.3,252.4 82.1,253.4 82.0,254.7" fill="none" stroke="#939c82" stroke-width="1.25"/><polyline points="92.4,246.0 92.7,247.7 92.7,249.0 92.2,249.8 91.1,249.8 89.8,249.5 88.3,249.0 87.1,248.8 86.3,249.2 86.0,250.2 86.1,251.7 86.4,253.4 86.6,255.0 86.7,256.4 86.2,257.2 85.3,257.5 84.2,257.4" fill="none" stroke="#939c82" stroke-width="1.25"/><polyline points="86.1,236.6 85.4,237.2 84.7,237.7 84.1,238.2 83.4,238.7 82.7,239.2 82.1,239.7 81.4,240.2 80.8,240.7 80.1,241.2 79.4,241.7 78.8,242.3 78.1,242.8 77.5,243.3 76.8,243.8 76.1,244.3 75.5,244.8" fill="none" stroke="#fdf9e2" stroke-width="4.2"/><polyline points="86.1,236.6 84.7,236.0 83.6,235.7 82.9,236.1 82.6,237.2 82.5,238.8 82.6,240.6 82.5,242.0 82.0,242.8 81.1,242.9 79.9,242.5 78.5,241.7 77.2,241.2 76.0,240.7 75.2,241.0 74.8,241.9 74.6,243.2" fill="none" stroke="#939c82" stroke-width="1.25"/><polyline points="86.1,236.6 86.1,238.3 85.9,239.6 85.3,240.2 84.3,240.2 83.0,239.6 81.6,238.8 80.4,238.4 79.5,238.6 79.1,239.5 79.0,241.0 79.1,242.8 79.0,244.3 78.9,245.8 78.4,246.6 77.5,246.6 76.4,246.4" fill="none" stroke="#939c82" stroke-width="1.25"/><polyline points="80.1,226.5 79.4,226.8 78.8,227.2 78.1,227.5 77.4,227.9 76.8,228.2 76.1,228.6 75.4,228.9 74.7,229.3 74.1,229.6 73.4,230.0 72.7,230.3 72.1,230.7 71.4,231.0 70.7,231.4 70.1,231.7 69.4,232.1" fill="none" stroke="#fdf9e2" stroke-width="4.2"/><polyline points="80.1,226.5 79.0,225.6 78.0,225.1 77.2,225.2 76.7,226.0 76.4,227.3 76.2,228.9 76.0,230.4 75.6,231.5 75.0,231.9 74.1,231.6 73.0,230.9 71.8,230.0 70.5,228.8 69.5,228.1 68.7,228.1 68.1,228.8" fill="none" stroke="#939c82" stroke-width="1.25"/><polyline points="80.1,226.5 79.9,228.0 79.6,229.2 79.0,229.8 78.2,229.7 77.1,229.1 75.9,228.2 74.8,227.4 73.9,227.1 73.2,227.4 72.8,228.3 72.5,229.8 72.3,231.4 72.3,233.3 72.0,234.6 71.5,235.3 70.7,235.4" fill="none" stroke="#939c82" stroke-width="1.25"/><polyline points="77.4,215.9 76.7,216.2 75.9,216.4 75.2,216.7 74.5,216.9 73.7,217.2 73.0,217.4 72.2,217.7 71.5,217.9 70.7,218.2 70.0,218.4 69.3,218.7 68.5,218.9 67.8,219.2 67.0,219.4 66.3,219.7 65.5,219.9" fill="none" stroke="#fdf9e2" stroke-width="4.2"/><polyline points="77.4,215.9 76.3,214.9 75.4,214.2 74.6,214.3 74.0,215.1 73.6,216.6 73.2,218.2 72.7,219.6 72.1,220.4 71.3,220.3 70.3,219.6 69.2,218.5 68.1,217.4 67.1,216.4 66.2,216.0 65.5,216.5 64.9,217.5" fill="none" stroke="#939c82" stroke-width="1.25"/><polyline points="77.4,215.9 77.0,217.5 76.5,218.7 75.8,219.1 74.9,218.7 73.9,217.8 72.8,216.6 71.7,215.8 70.9,215.5 70.2,216.0 69.7,217.3 69.3,218.9 68.9,220.4 68.5,222.0 67.9,222.8 67.1,222.9 66.1,222.3" fill="none" stroke="#939c82" stroke-width="1.25"/><polyline points="75.5,204.7 74.8,204.8 74.0,204.9 73.2,205.0 72.4,205.1 71.7,205.3 70.9,205.4 70.1,205.5 69.3,205.6 68.6,205.7 67.8,205.8 67.0,205.9 66.2,206.1 65.5,206.2 64.7,206.3 63.9,206.4 63.1,206.5" fill="none" stroke="#fdf9e2" stroke-width="4.2"/><polyline points="75.5,204.7 74.6,203.4 73.7,202.6 72.9,202.5 72.2,203.3 71.6,204.7 71.0,206.3 70.3,207.5 69.6,208.1 68.8,207.9 67.9,206.9 67.0,205.6 66.1,204.4 65.1,203.2 64.3,202.9 63.6,203.3 62.9,204.3" fill="none" stroke="#939c82" stroke-width="1.25"/><polyline points="75.5,204.7 74.9,206.2 74.2,207.2 73.5,207.5 72.6,207.0 71.7,205.8 70.8,204.5 69.9,203.4 69.1,203.1 68.3,203.6 67.7,204.8 67.1,206.3 66.4,207.8 65.8,209.1 65.1,209.7 64.3,209.5 63.4,208.8" fill="none" stroke="#939c82" stroke-width="1.25"/><polyline points="74.0,191.2 73.3,191.2 72.6,191.2 71.9,191.1 71.2,191.1 70.4,191.0 69.7,191.0 69.0,191.0 68.3,190.9 67.6,190.9 66.9,190.8 66.2,190.8 65.4,190.8 64.7,190.7 64.0,190.7 63.3,190.6 62.6,190.6" fill="none" stroke="#fdf9e2" stroke-width="4.2"/><polyline points="74.0,191.2 73.3,189.9 72.7,188.9 72.0,188.6 71.2,188.9 70.5,189.9 69.7,191.2 69.0,192.4 68.2,193.2 67.5,193.4 66.8,192.9 66.1,191.8 65.5,190.4 64.8,188.6 64.2,187.3 63.5,186.6 62.8,186.5" fill="none" stroke="#939c82" stroke-width="1.25"/><polyline points="74.0,191.2 73.2,192.5 72.5,193.4 71.8,193.7 71.1,193.2 70.4,192.2 69.7,190.8 69.1,189.5 68.4,188.6 67.7,188.3 67.0,188.8 66.2,189.8 65.4,191.1 64.6,192.8 63.9,194.1 63.1,194.7 62.4,194.6" fill="none" stroke="#939c82" stroke-width="1.25"/><polyline points="74.1,178.4 73.5,178.2 72.9,178.1 72.3,177.9 71.6,177.8 71.0,177.6 70.4,177.5 69.8,177.3 69.2,177.2 68.6,177.0 68.0,176.8 67.3,176.7 66.7,176.5 66.1,176.4 65.5,176.2 64.9,176.1 64.3,175.9" fill="none" stroke="#fdf9e2" stroke-width="4.2"/><polyline points="74.1,178.4 73.7,177.1 73.3,176.1 72.7,175.5 72.1,175.4 71.4,175.8 70.6,176.7 69.7,177.7 68.9,178.6 68.2,179.2 67.5,179.3 66.9,178.9 66.4,178.0 66.1,176.3 65.8,174.5 65.5,172.8 65.1,171.5" fill="none" stroke="#939c82" stroke-width="1.25"/><polyline points="74.1,178.4 73.3,179.4 72.5,180.1 71.8,180.4 71.2,180.1 70.7,179.4 70.3,178.2 69.9,176.9 69.5,175.7 69.0,174.8 68.4,174.3 67.8,174.5 67.0,175.0 66.1,176.5 65.2,178.0 64.3,179.3 63.4,180.3" fill="none" stroke="#939c82" stroke-width="1.25"/><polyline points="78.8,167.1 78.1,166.8 77.4,166.5 76.8,166.2 76.1,165.8 75.4,165.5 74.7,165.2 74.0,164.9 73.3,164.6 72.7,164.3 72.0,164.0 71.3,163.7 70.6,163.3 69.9,163.0 69.2,162.7 68.6,162.4 67.9,162.1" fill="none" stroke="#fdf9e2" stroke-width="4.2"/><polyline points="78.8,167.1 78.5,165.5 78.2,164.4 77.6,163.8 76.7,163.9 75.7,164.6 74.6,165.6 73.5,166.4 72.6,166.9 71.9,166.6 71.4,165.7 71.1,164.2 70.9,162.6 70.7,160.8 70.4,159.4 69.8,158.8 69.0,158.7" fill="none" stroke="#939c82" stroke-width="1.25"/><polyline points="78.8,167.1 77.7,168.0 76.7,168.6 76.0,168.5 75.4,167.8 75.1,166.4 74.8,164.9 74.5,163.4 74.1,162.3 73.4,162.0 72.5,162.3 71.5,163.1 70.4,164.1 69.2,165.3 68.1,166.0 67.3,166.1 66.7,165.5" fill="none" stroke="#939c82" stroke-width="1.25"/><polyline points="85.2,156.3 84.4,155.8 83.7,155.3 83.0,154.8 82.3,154.3 81.6,153.8 80.9,153.3 80.2,152.8 79.5,152.3 78.8,151.8 78.1,151.3 77.3,150.8 76.6,150.3 75.9,149.8 75.2,149.3 74.5,148.8 73.8,148.3" fill="none" stroke="#fdf9e2" stroke-width="4.2"/><polyline points="85.2,156.3 85.1,154.5 84.8,153.2 84.1,152.7 83.0,153.0 81.6,153.7 80.3,154.5 79.1,154.8 78.4,154.4 78.0,153.2 78.0,151.4 77.9,149.6 77.7,148.3 77.3,147.2 76.4,146.9 75.3,147.2 74.2,147.6" fill="none" stroke="#939c82" stroke-width="1.25"/><polyline points="85.2,156.3 83.8,157.1 82.7,157.3 81.9,156.9 81.6,155.6 81.6,153.9 81.5,152.1 81.3,150.7 80.6,150.2 79.5,150.4 78.1,151.1 76.7,151.9 75.6,152.3 74.6,152.3 74.0,151.6 73.7,150.3 73.4,149.0" fill="none" stroke="#939c82" stroke-width="1.25"/><polyline points="91.6,146.6 90.9,145.9 90.3,145.3 89.7,144.7 89.0,144.0 88.4,143.4 87.7,142.7 87.1,142.1 86.4,141.4 85.8,140.8 85.2,140.2 84.5,139.5 83.9,138.9 83.2,138.2 82.6,137.6 81.9,136.9 81.3,136.3" fill="none" stroke="#fdf9e2" stroke-width="4.2"/><polyline points="91.6,146.6 91.8,144.8 91.7,143.5 91.0,142.8 89.8,142.9 88.3,143.4 86.8,143.9 85.7,144.0 85.1,143.2 85.0,141.8 85.3,140.0 85.4,138.3 85.3,137.0 84.8,136.1 83.9,135.8 82.7,136.0 81.5,136.0" fill="none" stroke="#939c82" stroke-width="1.25"/><polyline points="91.6,146.6 90.1,147.1 88.9,147.2 88.3,146.5 88.2,145.1 88.4,143.3 88.6,141.5 88.5,140.2 87.8,139.6 86.6,139.8 85.1,140.3 83.6,140.8 82.5,140.8 81.6,140.4 81.3,139.4 81.2,137.9 81.1,136.6" fill="none" stroke="#939c82" stroke-width="1.25"/><polyline points="101.2,137.9 100.6,137.1 100.1,136.2 99.5,135.4 98.9,134.5 98.3,133.7 97.8,132.8 97.2,132.0 96.6,131.1 96.1,130.3 95.5,129.5 94.9,128.6 94.3,127.8 93.8,126.9 93.2,126.1 92.6,125.2 92.0,124.4" fill="none" stroke="#fdf9e2" stroke-width="4.2"/><polyline points="101.2,137.9 101.7,136.0 101.8,134.7 101.0,134.0 99.5,134.0 97.8,134.2 96.3,134.2 95.5,133.6 95.5,132.2 96.0,130.4 96.5,128.5 96.6,127.1 95.9,126.4 94.8,126.0 93.4,125.9 92.2,125.6 91.7,124.7" fill="none" stroke="#939c82" stroke-width="1.25"/><polyline points="101.2,137.9 99.5,138.1 98.4,137.8 98.0,136.7 98.3,135.1 98.9,133.2 99.2,131.5 98.9,130.4 97.8,130.1 96.1,130.2 94.4,130.4 93.2,130.1 92.8,129.2 92.7,127.9 93.0,126.3 93.0,124.9 92.3,124.1" fill="none" stroke="#939c82" stroke-width="1.25"/><polyline points="108.8,130.4 108.4,129.6 108.0,128.7 107.5,127.8 107.1,127.0 106.7,126.1 106.3,125.2 105.9,124.4 105.4,123.5 105.0,122.6 104.6,121.8 104.2,120.9 103.8,120.0 103.4,119.2 102.9,118.3 102.5,117.5 102.1,116.6" fill="none" stroke="#fdf9e2" stroke-width="4.2"/><polyline points="108.8,130.4 109.5,128.8 109.8,127.5 109.3,126.7 108.2,126.3 106.6,126.2 105.0,126.1 104.0,125.6 103.7,124.7 104.1,123.3 104.8,121.6 105.5,120.1 105.7,118.8 105.5,117.8 104.6,117.3 103.3,116.9 102.3,116.5" fill="none" stroke="#939c82" stroke-width="1.25"/><polyline points="108.8,130.4 107.2,130.3 106.1,129.9 105.7,129.0 106.1,127.7 106.8,126.0 107.5,124.4 107.7,123.2 107.2,122.4 106.0,122.0 104.4,121.9 102.9,121.8 101.9,121.3 101.3,120.5 101.3,119.4 101.7,118.0 101.9,116.7" fill="none" stroke="#939c82" stroke-width="1.25"/><polyline points="118.5,123.1 118.3,122.3 118.0,121.4 117.8,120.6 117.6,119.8 117.3,119.0 117.1,118.2 116.8,117.4 116.6,116.6 116.3,115.7 116.1,114.9 115.9,114.1 115.6,113.3 115.4,112.5 115.1,111.7 114.9,110.9 114.6,110.0" fill="none" stroke="#fdf9e2" stroke-width="4.2"/><polyline points="118.5,123.1 119.4,121.8 119.9,120.7 119.9,119.8 119.2,119.1 118.1,118.7 116.7,118.3 115.4,117.9 114.6,117.4 114.3,116.5 114.7,115.5 115.5,114.3 116.4,113.0 117.5,111.6 118.0,110.5 118.0,109.6 117.4,108.9" fill="none" stroke="#939c82" stroke-width="1.25"/><polyline points="118.5,123.1 117.2,122.7 116.2,122.2 115.7,121.5 115.9,120.5 116.6,119.3 117.5,118.0 118.2,116.8 118.6,115.8 118.3,114.9 117.5,114.4 116.2,114.0 114.8,113.6 113.3,113.3 112.2,112.9 111.8,112.1 111.9,111.2" fill="none" stroke="#939c82" stroke-width="1.25"/><polyline points="128.2,119.9 128.1,119.0 127.9,118.2 127.8,117.4 127.7,116.5 127.5,115.7 127.4,114.9 127.3,114.0 127.1,113.2 127.0,112.4 126.9,111.5 126.8,110.7 126.6,109.9 126.5,109.1 126.4,108.2 126.2,107.4 126.1,106.6" fill="none" stroke="#fdf9e2" stroke-width="4.2"/><polyline points="128.2,119.9 129.2,118.8 129.9,117.8 130.0,116.9 129.4,116.2 128.4,115.5 127.1,114.9 125.9,114.3 125.1,113.6 124.9,112.8 125.3,111.9 126.1,110.8 127.2,109.8 128.5,108.6 129.4,107.6 129.6,106.7 129.3,105.9" fill="none" stroke="#939c82" stroke-width="1.25"/><polyline points="128.2,119.9 126.9,119.3 126.0,118.6 125.6,117.8 125.9,116.9 126.7,115.9 127.7,114.8 128.6,113.8 129.2,112.8 129.1,111.9 128.5,111.2 127.4,110.6 126.1,110.0 124.5,109.5 123.4,108.9 122.9,108.1 122.9,107.2" fill="none" stroke="#939c82" stroke-width="1.25"/><polyline points="145.4,115.3 145.5,114.7 145.5,114.1 145.5,113.5 145.6,113.0 145.6,112.4 145.7,111.8 145.7,111.2 145.7,110.6 145.8,110.0 145.8,109.5 145.8,108.9 145.9,108.3 145.9,107.7 146.0,107.1 146.0,106.5 146.0,106.0" fill="none" stroke="#fdf9e2" stroke-width="4.2"/><polyline points="145.4,115.3 146.3,114.8 147.0,114.3 147.5,113.7 147.8,113.2 147.7,112.6 147.3,111.9 146.7,111.3 146.0,110.6 145.2,110.0 144.5,109.3 144.0,108.7 143.7,108.1 144.2,107.5 145.0,107.0 146.1,106.5 147.3,106.1" fill="none" stroke="#b9bf9e" stroke-width="0.9"/><polyline points="145.4,115.3 144.6,114.6 144.0,114.0 143.5,113.4 143.4,112.8 143.5,112.2 144.0,111.6 144.6,111.1 145.5,110.6 146.3,110.1 147.1,109.6 147.7,109.0 148.0,108.5 147.6,107.9 146.9,107.2 145.9,106.5 144.8,105.8" fill="none" stroke="#b9bf9e" stroke-width="0.9"/><polyline points="157.1,118.1 157.2,117.5 157.3,116.9 157.5,116.3 157.6,115.7 157.7,115.1 157.9,114.5 158.0,113.9 158.1,113.3 158.3,112.7 158.4,112.1 158.5,111.5 158.7,110.9 158.8,110.3 158.9,109.7 159.1,109.1 159.2,108.5" fill="none" stroke="#fdf9e2" stroke-width="4.2"/><polyline points="157.1,118.1 158.0,117.7 158.9,117.3 159.5,116.9 159.7,116.3 159.7,115.7 159.3,114.9 158.8,114.1 158.1,113.3 157.4,112.4 156.8,111.6 156.5,110.9 156.5,110.3 157.3,109.9 158.4,109.5 159.7,109.3 161.1,109.1" fill="none" stroke="#b9bf9e" stroke-width="0.9"/><polyline points="157.1,118.1 156.4,117.2 155.8,116.4 155.5,115.7 155.5,115.0 155.8,114.5 156.4,114.0 157.3,113.7 158.2,113.3 159.2,113.0 160.0,112.6 160.5,112.1 160.8,111.5 160.3,110.7 159.5,109.9 158.4,108.9 157.3,107.9" fill="none" stroke="#b9bf9e" stroke-width="0.9"/><polyline points="168.4,123.2 168.7,122.6 168.9,122.0 169.1,121.4 169.4,120.9 169.6,120.3 169.8,119.7 170.1,119.1 170.3,118.5 170.5,117.9 170.8,117.4 171.0,116.8 171.2,116.2 171.5,115.6 171.7,115.0 171.9,114.4 172.2,113.8" fill="none" stroke="#fdf9e2" stroke-width="4.2"/><polyline points="168.4,123.2 169.5,123.0 170.4,122.8 171.0,122.5 171.4,121.9 171.4,121.2 171.0,120.3 170.5,119.4 169.9,118.3 169.4,117.3 169.1,116.4 169.0,115.7 169.3,115.2 170.3,115.0 171.6,115.0 173.0,115.0 174.5,115.1" fill="none" stroke="#b9bf9e" stroke-width="0.9"/><polyline points="168.4,123.2 167.9,122.2 167.4,121.2 167.2,120.4 167.4,119.8 167.9,119.3 168.6,119.0 169.6,118.9 170.7,118.7 171.7,118.5 172.5,118.3 173.0,117.8 173.2,117.2 172.6,116.2 171.8,115.1 170.8,113.8 169.8,112.6" fill="none" stroke="#b9bf9e" stroke-width="0.9"/><polyline points="177.9,129.2 178.2,128.7 178.5,128.2 178.8,127.6 179.1,127.1 179.4,126.6 179.7,126.0 180.0,125.5 180.3,125.0 180.6,124.4 180.9,123.9 181.3,123.4 181.6,122.9 181.9,122.3 182.2,121.8 182.5,121.3 182.8,120.7" fill="none" stroke="#fdf9e2" stroke-width="4.2"/><polyline points="177.9,129.2 178.9,129.2 179.8,129.2 180.5,129.0 180.9,128.5 181.0,127.8 180.9,126.9 180.5,125.9 180.1,124.8 179.7,123.7 179.4,122.7 179.5,122.0 179.8,121.5 180.8,121.5 182.0,121.7 183.4,122.0 184.8,122.3" fill="none" stroke="#b9bf9e" stroke-width="0.9"/><polyline points="177.9,129.2 177.5,128.1 177.2,127.1 177.1,126.3 177.3,125.7 177.8,125.3 178.6,125.1 179.6,125.1 180.6,125.2 181.6,125.2 182.5,125.1 183.0,124.8 183.3,124.2 183.0,123.2 182.3,121.9 181.6,120.6 180.8,119.2" fill="none" stroke="#b9bf9e" stroke-width="0.9"/><polyline points="186.4,137.3 186.8,136.8 187.2,136.4 187.5,135.9 187.9,135.4 188.3,134.9 188.7,134.4 189.1,134.0 189.5,133.5 189.8,133.0 190.2,132.5 190.6,132.1 191.0,131.6 191.4,131.1 191.8,130.6 192.1,130.2 192.5,129.7" fill="none" stroke="#fdf9e2" stroke-width="4.2"/><polyline points="186.4,137.3 187.4,137.5 188.4,137.6 189.1,137.5 189.5,137.1 189.7,136.4 189.6,135.5 189.4,134.3 189.1,133.1 188.9,132.0 188.8,131.0 189.0,130.3 189.5,129.9 190.5,130.2 191.8,130.7 193.2,131.3 194.5,131.8" fill="none" stroke="#b9bf9e" stroke-width="0.9"/><polyline points="186.4,137.3 186.1,136.1 186.0,135.1 186.0,134.2 186.3,133.7 186.9,133.4 187.8,133.4 188.8,133.6 189.8,133.9 190.8,134.1 191.6,134.1 192.2,133.8 192.5,133.2 192.2,132.0 191.7,130.6 191.1,129.1 190.5,127.5" fill="none" stroke="#b9bf9e" stroke-width="0.9"/><polyline points="194.3,147.8 194.8,147.4 195.2,147.0 195.7,146.6 196.1,146.2 196.6,145.8 197.1,145.4 197.5,145.0 198.0,144.6 198.4,144.2 198.9,143.8 199.3,143.4 199.8,143.0 200.2,142.6 200.7,142.2 201.2,141.8 201.6,141.4" fill="none" stroke="#fdf9e2" stroke-width="4.2"/><polyline points="194.3,147.8 195.3,148.2 196.2,148.5 197.0,148.5 197.5,148.2 197.7,147.5 197.8,146.5 197.7,145.3 197.6,144.1 197.6,142.9 197.7,142.0 198.0,141.4 198.6,141.1 199.6,141.6 200.8,142.4 202.1,143.3 203.4,144.1" fill="none" stroke="#b9bf9e" stroke-width="0.9"/><polyline points="194.3,147.8 194.2,146.5 194.2,145.4 194.4,144.6 194.8,144.2 195.5,144.0 196.3,144.3 197.3,144.7 198.3,145.1 199.3,145.5 200.1,145.6 200.7,145.4 201.0,144.9 200.9,143.6 200.6,142.0 200.2,140.4 199.9,138.7" fill="none" stroke="#b9bf9e" stroke-width="0.9"/><polyline points="201.1,158.6 201.6,158.3 202.1,158.0 202.5,157.8 203.0,157.5 203.4,157.2 203.9,157.0 204.4,156.7 204.8,156.4 205.3,156.1 205.7,155.9 206.2,155.6 206.7,155.3 207.1,155.0 207.6,154.8 208.0,154.5 208.5,154.2" fill="none" stroke="#fdf9e2" stroke-width="4.2"/><polyline points="201.1,158.6 202.0,159.2 202.8,159.6 203.4,159.9 204.0,159.8 204.4,159.4 204.6,158.6 204.8,157.6 204.9,156.5 205.0,155.4 205.1,154.4 205.3,153.5 205.7,153.0 206.4,153.3 207.2,154.0 208.2,154.8 209.2,155.9" fill="none" stroke="#b9bf9e" stroke-width="0.9"/><polyline points="201.1,158.6 201.2,157.5 201.4,156.5 201.6,155.7 202.0,155.2 202.5,155.1 203.2,155.3 203.9,155.7 204.8,156.3 205.6,156.9 206.4,157.4 207.1,157.6 207.7,157.6 207.9,156.7 207.9,155.6 207.9,154.2 207.8,152.6" fill="none" stroke="#b9bf9e" stroke-width="0.9"/><polyline points="206.1,170.6 206.5,170.4 207.0,170.2 207.4,170.1 207.9,169.9 208.4,169.7 208.8,169.6 209.3,169.4 209.7,169.2 210.2,169.0 210.6,168.9 211.1,168.7 211.5,168.5 212.0,168.4 212.5,168.2 212.9,168.0 213.4,167.9" fill="none" stroke="#fdf9e2" stroke-width="4.2"/><polyline points="206.1,170.6 206.8,171.2 207.4,171.8 208.0,172.2 208.6,172.3 209.0,172.1 209.4,171.6 209.7,170.8 209.9,169.9 210.1,168.9 210.4,167.9 210.6,167.0 210.9,166.3 211.5,166.4 212.1,166.9 212.8,167.6 213.5,168.5" fill="none" stroke="#b9bf9e" stroke-width="0.9"/><polyline points="206.1,170.6 206.3,169.5 206.6,168.6 206.9,167.9 207.2,167.5 207.7,167.3 208.3,167.5 208.9,167.9 209.5,168.5 210.2,169.2 210.9,169.9 211.6,170.4 212.2,170.8 212.5,170.3 212.8,169.5 213.0,168.5 213.2,167.2" fill="none" stroke="#b9bf9e" stroke-width="0.9"/><polyline points="209.5,183.0 209.9,183.0 210.3,182.9 210.7,182.8 211.2,182.8 211.6,182.7 212.0,182.6 212.4,182.5 212.8,182.5 213.2,182.4 213.7,182.3 214.1,182.3 214.5,182.2 214.9,182.1 215.3,182.0 215.7,182.0 216.2,181.9" fill="none" stroke="#fdf9e2" stroke-width="4.2"/><polyline points="209.5,183.0 210.0,183.8 210.5,184.4 211.0,184.9 211.5,185.2 211.9,185.2 212.3,185.0 212.7,184.6 213.0,183.9 213.3,183.1 213.7,182.3 214.0,181.4 214.3,180.7 214.7,180.5 215.2,180.7 215.6,181.0 216.1,181.6" fill="none" stroke="#b9bf9e" stroke-width="0.9"/><polyline points="209.5,183.0 209.8,182.2 210.1,181.4 210.5,180.8 210.8,180.4 211.2,180.2 211.7,180.2 212.1,180.5 212.6,181.0 213.1,181.7 213.7,182.4 214.2,183.1 214.7,183.7 215.1,183.7 215.5,183.4 215.9,182.9 216.2,182.2" fill="none" stroke="#b9bf9e" stroke-width="0.9"/><polyline points="210.5,196.2 210.9,196.2 211.3,196.2 211.7,196.2 212.1,196.2 212.5,196.2 212.9,196.2 213.3,196.2 213.7,196.2 214.2,196.2 214.6,196.3 215.0,196.3 215.4,196.3 215.8,196.3 216.2,196.3 216.6,196.3 217.0,196.3" fill="none" stroke="#fdf9e2" stroke-width="4.2"/><polyline points="210.5,196.2 210.9,197.0 211.3,197.7 211.7,198.2 212.1,198.6 212.5,198.8 212.9,198.7 213.3,198.4 213.7,197.9 214.1,197.3 214.6,196.5 215.0,195.8 215.4,195.0 215.8,195.0 216.2,195.0 216.6,195.3 217.0,195.9" fill="none" stroke="#b9bf9e" stroke-width="0.9"/><polyline points="210.5,196.2 210.9,195.4 211.3,194.7 211.7,194.2 212.2,193.8 212.6,193.7 213.0,193.8 213.4,194.1 213.8,194.6 214.2,195.2 214.6,196.0 215.0,196.7 215.4,197.5 215.8,197.6 216.2,197.5 216.6,197.2 217.0,196.7" fill="none" stroke="#b9bf9e" stroke-width="0.9"/><polyline points="208.9,209.7 209.4,209.8 209.8,209.9 210.2,210.0 210.6,210.1 211.1,210.2 211.5,210.3 211.9,210.4 212.3,210.5 212.8,210.6 213.2,210.7 213.6,210.7 214.0,210.8 214.5,210.9 214.9,211.0 215.3,211.1 215.7,211.2" fill="none" stroke="#fdf9e2" stroke-width="4.2"/><polyline points="208.9,209.7 209.2,210.6 209.6,211.4 209.9,212.1 210.3,212.5 210.7,212.7 211.1,212.6 211.6,212.3 212.1,211.8 212.7,211.2 213.2,210.5 213.8,209.8 214.3,209.2 214.7,209.3 215.1,209.6 215.5,210.2 215.8,211.0" fill="none" stroke="#b9bf9e" stroke-width="0.9"/><polyline points="208.9,209.7 209.5,209.0 210.0,208.4 210.5,208.0 211.0,207.7 211.5,207.7 211.9,207.9 212.2,208.4 212.5,209.1 212.9,210.0 213.1,210.9 213.4,211.7 213.8,212.5 214.2,212.6 214.6,212.4 215.1,212.1 215.7,211.4" fill="none" stroke="#b9bf9e" stroke-width="0.9"/><polyline points="206.3,222.2 206.7,222.4 207.1,222.5 207.5,222.7 207.9,222.8 208.3,223.0 208.7,223.2 209.1,223.3 209.5,223.5 209.8,223.6 210.2,223.8 210.6,224.0 211.0,224.1 211.4,224.3 211.8,224.5 212.2,224.6 212.6,224.8" fill="none" stroke="#fdf9e2" stroke-width="4.2"/><polyline points="206.3,222.2 206.5,223.1 206.7,223.9 206.9,224.6 207.2,225.1 207.5,225.4 208.0,225.5 208.5,225.3 209.0,224.9 209.6,224.4 210.2,223.9 210.8,223.3 211.4,222.8 211.8,222.9 212.2,223.2 212.5,223.7 212.7,224.4" fill="none" stroke="#b9bf9e" stroke-width="0.9"/><polyline points="206.3,222.2 206.9,221.6 207.5,221.1 208.1,220.7 208.6,220.6 209.0,220.6 209.4,220.9 209.7,221.4 209.9,222.0 210.1,222.8 210.3,223.7 210.4,224.6 210.6,225.5 211.0,225.7 211.4,225.7 211.9,225.5 212.5,225.1" fill="none" stroke="#b9bf9e" stroke-width="0.9"/><polyline points="202.0,233.5 202.3,233.8 202.7,234.0 203.1,234.2 203.4,234.4 203.8,234.7 204.2,234.9 204.5,235.1 204.9,235.4 205.3,235.6 205.6,235.8 206.0,236.1 206.4,236.3 206.8,236.5 207.1,236.7 207.5,237.0 207.9,237.2" fill="none" stroke="#fdf9e2" stroke-width="4.2"/><polyline points="202.0,233.5 202.0,234.5 202.1,235.3 202.2,236.0 202.4,236.6 202.8,236.9 203.2,237.0 203.7,237.0 204.3,236.7 204.9,236.3 205.6,235.8 206.3,235.4 207.0,235.0 207.4,235.2 207.7,235.5 207.9,236.1 208.0,236.9" fill="none" stroke="#b9bf9e" stroke-width="0.9"/><polyline points="202.0,233.5 202.6,233.1 203.3,232.7 203.9,232.4 204.4,232.3 204.8,232.4 205.2,232.8 205.4,233.3 205.5,234.0 205.6,234.9 205.7,235.8 205.7,236.7 205.8,237.6 206.1,237.9 206.6,238.0 207.1,237.8 207.7,237.5" fill="none" stroke="#b9bf9e" stroke-width="0.9"/><polyline points="195.7,243.9 196.0,244.2 196.4,244.5 196.7,244.8 197.1,245.1 197.5,245.4 197.8,245.8 198.2,246.1 198.5,246.4 198.9,246.7 199.3,247.0 199.6,247.3 200.0,247.6 200.3,248.0 200.7,248.3 201.0,248.6 201.4,248.9" fill="none" stroke="#fdf9e2" stroke-width="4.2"/><polyline points="195.7,243.9 195.6,244.9 195.6,245.8 195.6,246.5 195.8,247.1 196.1,247.5 196.6,247.6 197.2,247.5 197.9,247.3 198.7,247.0 199.5,246.6 200.3,246.3 201.0,246.1 201.3,246.5 201.5,247.1 201.5,247.9 201.4,249.0" fill="none" stroke="#b9bf9e" stroke-width="0.9"/><polyline points="195.7,243.9 196.5,243.5 197.2,243.2 197.9,243.1 198.4,243.2 198.8,243.4 199.0,243.9 199.1,244.6 199.1,245.5 199.1,246.5 199.0,247.5 198.9,248.4 198.9,249.2 199.3,249.5 199.9,249.5 200.6,249.3 201.4,248.9" fill="none" stroke="#b9bf9e" stroke-width="0.9"/><polyline points="187.2,253.4 187.6,253.8 187.9,254.2 188.3,254.6 188.6,255.1 188.9,255.5 189.3,255.9 189.6,256.3 190.0,256.7 190.3,257.2 190.6,257.6 191.0,258.0 191.3,258.4 191.7,258.9 192.0,259.3 192.4,259.7 192.7,260.1" fill="none" stroke="#fdf9e2" stroke-width="4.2"/><polyline points="187.2,253.4 187.0,254.4 186.8,255.4 186.8,256.2 187.0,256.8 187.4,257.1 188.0,257.3 188.8,257.2 189.7,257.0 190.7,256.8 191.5,256.6 192.3,256.6 192.9,256.7 192.9,257.5 192.8,258.5 192.4,259.7 191.9,261.0" fill="none" stroke="#b9bf9e" stroke-width="0.9"/><polyline points="187.2,253.4 188.2,253.1 189.0,253.0 189.7,253.1 190.2,253.3 190.5,253.8 190.5,254.5 190.4,255.4 190.2,256.5 190.0,257.5 189.8,258.6 189.7,259.4 189.8,260.1 190.4,260.2 191.3,260.1 192.3,259.7 193.5,259.2" fill="none" stroke="#b9bf9e" stroke-width="0.9"/><polyline points="177.7,260.9 178.0,261.4 178.3,262.0 178.6,262.5 179.0,263.0 179.3,263.6 179.6,264.1 179.9,264.6 180.2,265.2 180.5,265.7 180.8,266.2 181.1,266.8 181.4,267.3 181.7,267.8 182.0,268.3 182.3,268.9 182.6,269.4" fill="none" stroke="#fdf9e2" stroke-width="4.2"/><polyline points="177.7,260.9 177.3,262.0 177.0,263.0 176.9,263.8 177.1,264.4 177.6,264.8 178.4,265.0 179.4,265.0 180.4,265.0 181.4,264.9 182.3,265.1 182.9,265.4 183.2,265.9 182.8,267.0 182.2,268.2 181.4,269.6 180.6,271.0" fill="none" stroke="#b9bf9e" stroke-width="0.9"/><polyline points="177.7,260.9 178.8,260.9 179.7,260.9 180.4,261.2 180.8,261.6 180.9,262.3 180.7,263.2 180.3,264.3 179.9,265.4 179.5,266.4 179.3,267.4 179.3,268.1 179.6,268.7 180.6,268.7 181.8,268.5 183.2,268.2 184.6,267.9" fill="none" stroke="#b9bf9e" stroke-width="0.9"/><polyline points="167.9,267.5 168.1,268.1 168.3,268.6 168.5,269.2 168.7,269.8 169.0,270.3 169.2,270.9 169.4,271.5 169.6,272.0 169.8,272.6 170.0,273.2 170.3,273.7 170.5,274.3 170.7,274.9 170.9,275.4 171.1,276.0 171.4,276.6" fill="none" stroke="#fdf9e2" stroke-width="4.2"/><polyline points="167.9,267.5 167.3,268.5 166.9,269.4 166.6,270.2 166.7,270.8 167.1,271.3 167.8,271.6 168.7,271.8 169.7,272.0 170.7,272.1 171.6,272.4 172.2,272.7 172.5,273.3 172.1,274.2 171.3,275.2 170.4,276.4 169.4,277.6" fill="none" stroke="#b9bf9e" stroke-width="0.9"/><polyline points="167.9,267.5 168.9,267.6 169.7,267.9 170.4,268.2 170.7,268.7 170.8,269.4 170.5,270.2 170.1,271.1 169.5,272.1 168.9,273.1 168.5,274.0 168.3,274.7 168.5,275.3 169.4,275.6 170.5,275.7 171.8,275.6 173.3,275.6" fill="none" stroke="#b9bf9e" stroke-width="0.9"/><polyline points="156.5,272.4 156.6,273.0 156.7,273.6 156.8,274.2 157.0,274.7 157.1,275.3 157.2,275.9 157.3,276.5 157.5,277.1 157.6,277.6 157.7,278.2 157.8,278.8 158.0,279.4 158.1,280.0 158.2,280.6 158.3,281.1 158.4,281.7" fill="none" stroke="#fdf9e2" stroke-width="4.2"/><polyline points="156.5,272.4 155.8,273.2 155.2,274.0 154.9,274.7 154.8,275.3 155.1,275.9 155.6,276.3 156.4,276.7 157.4,277.1 158.3,277.4 159.1,277.8 159.7,278.3 160.1,278.8 159.7,279.5 159.0,280.3 158.0,281.2 156.9,282.2" fill="none" stroke="#b9bf9e" stroke-width="0.9"/><polyline points="156.5,272.4 157.4,272.8 158.2,273.1 158.8,273.6 159.1,274.1 159.1,274.7 158.8,275.5 158.2,276.2 157.6,277.0 156.9,277.8 156.3,278.6 155.9,279.4 155.8,280.0 156.5,280.4 157.4,280.8 158.6,281.0 160.0,281.3" fill="none" stroke="#b9bf9e" stroke-width="0.9"/><polyline points="145.2,274.9 145.2,275.4 145.2,276.0 145.3,276.6 145.3,277.2 145.4,277.7 145.4,278.3 145.4,278.9 145.5,279.5 145.5,280.0 145.5,280.6 145.6,281.2 145.6,281.8 145.7,282.3 145.7,282.9 145.7,283.5 145.8,284.1" fill="none" stroke="#fdf9e2" stroke-width="4.2"/><polyline points="145.2,274.9 144.4,275.5 143.8,276.1 143.3,276.8 143.1,277.4 143.3,277.9 143.7,278.5 144.3,279.0 145.1,279.5 146.0,280.0 146.7,280.5 147.4,281.0 147.7,281.6 147.4,282.2 146.7,282.8 145.8,283.5 144.7,284.2" fill="none" stroke="#b9bf9e" stroke-width="0.9"/><polyline points="145.2,274.9 146.0,275.4 146.7,275.9 147.3,276.4 147.5,277.0 147.5,277.6 147.1,278.2 146.6,278.8 145.8,279.4 145.1,280.1 144.3,280.7 143.8,281.3 143.5,282.0 143.9,282.5 144.7,283.0 145.7,283.5 146.8,284.0" fill="none" stroke="#b9bf9e" stroke-width="0.9"/><polyline points="133.6,274.9 133.6,275.5 133.5,276.0 133.5,276.6 133.4,277.2 133.4,277.7 133.3,278.3 133.3,278.9 133.3,279.4 133.2,280.0 133.2,280.6 133.1,281.1 133.1,281.7 133.0,282.2 133.0,282.8 132.9,283.4 132.9,283.9" fill="none" stroke="#fdf9e2" stroke-width="4.2"/><polyline points="133.6,274.9 132.8,275.4 132.1,275.9 131.5,276.4 131.3,276.9 131.3,277.5 131.6,278.1 132.1,278.7 132.8,279.4 133.5,280.0 134.2,280.7 134.8,281.3 135.1,281.9 134.8,282.4 134.1,282.9 133.2,283.4 132.0,283.8" fill="none" stroke="#b9bf9e" stroke-width="0.9"/><polyline points="133.6,274.9 134.4,275.6 135.0,276.2 135.4,276.8 135.6,277.4 135.5,278.0 135.1,278.5 134.5,279.0 133.7,279.5 132.9,280.0 132.1,280.4 131.4,280.9 131.0,281.5 131.3,282.1 131.9,282.7 132.7,283.3 133.8,284.0" fill="none" stroke="#b9bf9e" stroke-width="0.9"/><polyline points="121.6,272.3 121.4,272.9 121.3,273.4 121.2,274.0 121.1,274.5 120.9,275.1 120.8,275.6 120.7,276.2 120.5,276.7 120.4,277.3 120.3,277.8 120.1,278.4 120.0,278.9 119.9,279.5 119.8,280.0 119.6,280.5 119.5,281.1" fill="none" stroke="#fdf9e2" stroke-width="4.2"/><polyline points="121.6,272.3 120.7,272.6 119.9,273.0 119.3,273.4 118.9,273.9 118.9,274.4 119.1,275.1 119.5,275.8 120.1,276.6 120.7,277.4 121.3,278.1 121.8,278.9 122.0,279.6 121.6,280.0 120.8,280.3 119.8,280.6 118.6,280.8" fill="none" stroke="#b9bf9e" stroke-width="0.9"/><polyline points="121.6,272.3 122.2,273.1 122.7,273.9 123.1,274.6 123.2,275.2 123.0,275.7 122.5,276.2 121.8,276.5 121.0,276.9 120.1,277.2 119.2,277.5 118.5,277.8 118.0,278.3 118.2,278.9 118.7,279.7 119.4,280.5 120.3,281.4" fill="none" stroke="#b9bf9e" stroke-width="0.9"/><polyline points="111.2,267.7 111.0,268.2 110.8,268.8 110.6,269.3 110.4,269.8 110.2,270.4 110.0,270.9 109.7,271.4 109.5,271.9 109.3,272.5 109.1,273.0 108.9,273.5 108.7,274.1 108.5,274.6 108.3,275.1 108.1,275.6 107.9,276.2" fill="none" stroke="#fdf9e2" stroke-width="4.2"/><polyline points="111.2,267.7 110.3,267.9 109.4,268.0 108.8,268.3 108.4,268.8 108.3,269.3 108.4,270.1 108.8,270.9 109.3,271.8 109.8,272.7 110.3,273.6 110.6,274.4 110.7,275.1 110.1,275.4 109.2,275.6 108.1,275.6 106.8,275.6" fill="none" stroke="#b9bf9e" stroke-width="0.9"/><polyline points="111.2,267.7 111.7,268.6 112.2,269.5 112.4,270.3 112.4,270.9 112.1,271.4 111.5,271.7 110.7,271.9 109.8,272.1 108.9,272.2 108.0,272.4 107.2,272.6 106.7,273.0 106.9,273.8 107.4,274.6 108.1,275.6 108.9,276.7" fill="none" stroke="#b9bf9e" stroke-width="0.9"/><polyline points="101.8,261.8 101.5,262.3 101.2,262.8 100.9,263.3 100.7,263.7 100.4,264.2 100.1,264.7 99.9,265.2 99.6,265.6 99.3,266.1 99.0,266.6 98.8,267.1 98.5,267.5 98.2,268.0 98.0,268.5 97.7,268.9 97.4,269.4" fill="none" stroke="#fdf9e2" stroke-width="4.2"/><polyline points="101.8,261.8 100.8,261.8 100.0,261.8 99.3,262.0 98.8,262.3 98.6,262.8 98.6,263.5 98.9,264.4 99.2,265.3 99.6,266.3 100.0,267.3 100.2,268.1 100.2,268.9 99.7,269.1 98.9,269.2 97.9,269.1 96.7,268.8" fill="none" stroke="#b9bf9e" stroke-width="0.9"/><polyline points="101.8,261.8 102.1,262.8 102.4,263.7 102.6,264.5 102.5,265.1 102.2,265.6 101.6,265.8 100.9,265.9 100.0,265.9 99.0,265.9 98.1,265.9 97.3,266.0 96.8,266.2 96.8,266.9 97.0,267.8 97.5,268.8 98.2,270.0" fill="none" stroke="#b9bf9e" stroke-width="0.9"/><polyline points="93.1,253.8 92.8,254.2 92.4,254.6 92.1,255.1 91.8,255.5 91.4,255.9 91.1,256.3 90.8,256.8 90.4,257.2 90.1,257.6 89.7,258.0 89.4,258.5 89.1,258.9 88.7,259.3 88.4,259.7 88.1,260.2 87.7,260.6" fill="none" stroke="#fdf9e2" stroke-width="4.2"/><polyline points="93.1,253.8 92.2,253.6 91.4,253.5 90.7,253.5 90.2,253.8 89.9,254.3 89.8,255.0 89.9,255.9 90.2,256.9 90.4,258.0 90.6,259.0 90.7,259.9 90.6,260.6 90.0,260.7 89.2,260.5 88.1,260.2 86.9,259.7" fill="none" stroke="#b9bf9e" stroke-width="0.9"/><polyline points="93.1,253.8 93.4,254.9 93.5,255.8 93.6,256.6 93.4,257.2 93.0,257.6 92.4,257.7 91.6,257.7 90.7,257.5 89.8,257.3 88.9,257.1 88.1,257.0 87.5,257.2 87.5,257.9 87.6,258.9 88.0,260.1 88.5,261.4" fill="none" stroke="#b9bf9e" stroke-width="0.9"/><polyline points="86.3,244.0 85.9,244.4 85.5,244.8 85.1,245.2 84.6,245.6 84.2,246.0 83.8,246.3 83.3,246.7 82.9,247.1 82.5,247.5 82.1,247.9 81.6,248.3 81.2,248.7 80.8,249.1 80.4,249.5 79.9,249.9 79.5,250.2" fill="none" stroke="#fdf9e2" stroke-width="4.2"/><polyline points="86.3,244.0 85.4,243.6 84.5,243.3 83.8,243.3 83.3,243.6 83.0,244.2 82.9,245.1 83.0,246.2 83.1,247.4 83.2,248.5 83.2,249.5 83.0,250.2 82.5,250.7 81.6,250.3 80.5,249.8 79.3,249.0 78.1,248.2" fill="none" stroke="#b9bf9e" stroke-width="0.9"/><polyline points="86.3,244.0 86.4,245.2 86.5,246.2 86.3,247.1 86.0,247.6 85.4,247.7 84.6,247.6 83.7,247.3 82.8,246.9 81.8,246.5 81.0,246.3 80.3,246.3 79.9,246.7 79.9,247.8 80.2,249.2 80.5,250.7 80.9,252.3" fill="none" stroke="#b9bf9e" stroke-width="0.9"/><polyline points="79.8,233.7 79.4,234.0 78.9,234.3 78.5,234.5 78.0,234.8 77.6,235.1 77.1,235.4 76.7,235.7 76.3,236.0 75.8,236.3 75.4,236.6 74.9,236.9 74.5,237.1 74.0,237.4 73.6,237.7 73.1,238.0 72.7,238.3" fill="none" stroke="#fdf9e2" stroke-width="4.2"/><polyline points="79.8,233.7 79.0,233.1 78.2,232.7 77.5,232.5 77.0,232.6 76.6,233.0 76.4,233.8 76.2,234.7 76.2,235.8 76.1,237.0 76.0,238.0 75.8,238.8 75.5,239.4 74.8,239.1 74.0,238.6 73.0,237.7 71.9,236.8" fill="none" stroke="#b9bf9e" stroke-width="0.9"/><polyline points="79.8,233.7 79.8,234.8 79.7,235.8 79.5,236.6 79.1,237.1 78.6,237.2 77.9,237.1 77.2,236.7 76.3,236.1 75.5,235.6 74.7,235.1 74.0,234.9 73.4,234.9 73.2,235.7 73.2,236.9 73.2,238.3 73.4,239.8" fill="none" stroke="#b9bf9e" stroke-width="0.9"/><polyline points="75.3,222.6 74.8,222.8 74.4,223.1 73.9,223.3 73.4,223.5 72.9,223.7 72.5,223.9 72.0,224.1 71.5,224.3 71.1,224.5 70.6,224.7 70.1,224.9 69.6,225.1 69.2,225.3 68.7,225.5 68.2,225.7 67.7,225.9" fill="none" stroke="#fdf9e2" stroke-width="4.2"/><polyline points="75.3,222.6 74.6,222.0 73.8,221.4 73.2,221.1 72.7,221.1 72.2,221.4 71.9,222.0 71.6,222.9 71.4,224.0 71.2,225.1 71.0,226.1 70.8,226.9 70.4,227.4 69.8,227.1 69.0,226.5 68.2,225.6 67.3,224.5" fill="none" stroke="#b9bf9e" stroke-width="0.9"/><polyline points="75.3,222.6 75.1,223.7 74.9,224.7 74.6,225.4 74.2,225.8 73.7,225.9 73.1,225.7 72.4,225.2 71.6,224.6 70.9,223.9 70.1,223.3 69.5,222.8 68.9,222.7 68.6,223.4 68.4,224.4 68.2,225.7 68.2,227.2" fill="none" stroke="#b9bf9e" stroke-width="0.9"/><polyline points="72.9,211.2 72.4,211.3 71.8,211.4 71.3,211.5 70.8,211.7 70.3,211.8 69.8,211.9 69.3,212.0 68.7,212.2 68.2,212.3 67.7,212.4 67.2,212.5 66.7,212.7 66.2,212.8 65.6,212.9 65.1,213.0 64.6,213.2" fill="none" stroke="#fdf9e2" stroke-width="4.2"/><polyline points="72.9,211.2 72.2,210.3 71.5,209.6 70.9,209.2 70.4,209.2 69.9,209.5 69.5,210.2 69.1,211.1 68.7,212.2 68.4,213.3 68.0,214.2 67.6,214.9 67.1,215.2 66.5,214.6 65.8,213.6 65.0,212.4 64.2,211.1" fill="none" stroke="#b9bf9e" stroke-width="0.9"/><polyline points="72.9,211.2 72.5,212.3 72.2,213.2 71.7,213.9 71.3,214.2 70.7,214.1 70.1,213.7 69.4,213.0 68.7,212.1 68.0,211.3 67.4,210.6 66.8,210.2 66.2,210.2 65.8,211.0 65.5,212.2 65.2,213.7 65.0,215.3" fill="none" stroke="#b9bf9e" stroke-width="0.9"/><polyline points="71.0,198.2 70.5,198.2 70.0,198.2 69.5,198.3 69.0,198.3 68.5,198.3 68.0,198.3 67.5,198.3 67.0,198.4 66.5,198.4 66.0,198.4 65.5,198.4 65.1,198.5 64.6,198.5 64.1,198.5 63.6,198.5 63.1,198.6" fill="none" stroke="#fdf9e2" stroke-width="4.2"/><polyline points="71.0,198.2 70.5,197.3 70.0,196.5 69.4,196.0 68.9,195.7 68.4,195.9 68.0,196.3 67.5,197.0 67.0,198.0 66.6,198.9 66.1,199.8 65.6,200.5 65.1,200.9 64.6,200.5 64.1,199.7 63.6,198.6 63.0,197.3" fill="none" stroke="#b9bf9e" stroke-width="0.9"/><polyline points="71.0,198.2 70.6,199.1 70.1,200.0 69.6,200.5 69.1,200.8 68.6,200.7 68.1,200.3 67.6,199.6 67.1,198.8 66.5,197.9 66.0,197.0 65.5,196.4 65.0,196.0 64.5,196.5 64.0,197.3 63.6,198.5 63.1,199.8" fill="none" stroke="#b9bf9e" stroke-width="0.9"/><polyline points="70.4,184.3 69.9,184.3 69.5,184.2 69.1,184.1 68.7,184.1 68.3,184.0 67.8,183.9 67.4,183.9 67.0,183.8 66.6,183.7 66.2,183.7 65.8,183.6 65.3,183.5 64.9,183.5 64.5,183.4 64.1,183.4 63.7,183.3" fill="none" stroke="#fdf9e2" stroke-width="4.2"/><polyline points="70.4,184.3 70.0,183.5 69.7,182.7 69.3,182.1 69.0,181.6 68.6,181.5 68.1,181.5 67.7,181.8 67.2,182.3 66.7,183.0 66.2,183.7 65.7,184.4 65.2,185.1 64.7,185.0 64.3,184.8 64.0,184.3 63.6,183.6" fill="none" stroke="#b9bf9e" stroke-width="0.9"/><polyline points="70.4,184.3 69.8,185.0 69.3,185.7 68.9,186.2 68.4,186.5 68.0,186.5 67.6,186.3 67.2,185.9 66.8,185.3 66.5,184.5 66.2,183.6 65.8,182.8 65.5,182.0 65.1,181.9 64.7,182.0 64.2,182.4 63.7,183.0" fill="none" stroke="#b9bf9e" stroke-width="0.9"/><polyline points="72.9,171.4 72.5,171.3 72.1,171.1 71.7,171.0 71.3,170.8 70.9,170.7 70.4,170.5 70.0,170.4 69.6,170.3 69.2,170.1 68.8,170.0 68.4,169.8 68.0,169.7 67.6,169.5 67.1,169.4 66.7,169.2 66.3,169.1" fill="none" stroke="#fdf9e2" stroke-width="4.2"/><polyline points="72.9,171.4 72.7,170.5 72.5,169.7 72.2,169.0 71.9,168.5 71.5,168.2 71.0,168.3 70.5,168.5 70.0,169.0 69.4,169.5 68.7,170.2 68.1,170.8 67.5,171.3 67.1,171.2 66.8,170.8 66.5,170.2 66.3,169.3" fill="none" stroke="#b9bf9e" stroke-width="0.9"/><polyline points="72.9,171.4 72.3,172.0 71.7,172.6 71.2,173.0 70.7,173.2 70.2,173.1 69.8,172.8 69.5,172.3 69.3,171.5 69.1,170.7 68.8,169.7 68.6,168.8 68.4,168.0 68.0,167.9 67.5,168.0 67.0,168.3 66.4,168.9" fill="none" stroke="#b9bf9e" stroke-width="0.9"/><polyline points="78.7,159.7 78.2,159.4 77.7,159.1 77.2,158.9 76.8,158.6 76.3,158.3 75.8,158.0 75.3,157.8 74.8,157.5 74.4,157.2 73.9,156.9 73.4,156.7 72.9,156.4 72.5,156.1 72.0,155.8 71.5,155.6 71.0,155.3" fill="none" stroke="#fdf9e2" stroke-width="4.2"/><polyline points="78.7,159.7 78.6,158.5 78.4,157.5 78.1,156.7 77.7,156.3 77.2,156.2 76.5,156.5 75.7,157.0 74.8,157.6 73.9,158.2 73.2,158.7 72.5,158.8 72.0,158.7 71.8,157.7 71.7,156.4 71.8,154.9 71.9,153.2" fill="none" stroke="#b9bf9e" stroke-width="0.9"/><polyline points="78.7,159.7 77.8,160.3 77.0,160.8 76.3,161.0 75.8,160.9 75.4,160.4 75.1,159.6 75.0,158.6 74.9,157.4 74.8,156.2 74.6,155.2 74.3,154.5 73.9,154.1 73.1,154.5 72.2,155.3 71.2,156.3 70.1,157.4" fill="none" stroke="#b9bf9e" stroke-width="0.9"/><polyline points="85.4,148.9 84.9,148.5 84.4,148.1 83.9,147.7 83.5,147.3 83.0,146.9 82.5,146.5 82.0,146.1 81.6,145.7 81.1,145.3 80.6,144.9 80.1,144.5 79.6,144.1 79.2,143.7 78.7,143.3 78.2,142.8 77.7,142.4" fill="none" stroke="#fdf9e2" stroke-width="4.2"/><polyline points="85.4,148.9 85.5,147.6 85.4,146.5 85.2,145.7 84.7,145.3 84.0,145.2 83.1,145.5 82.1,146.0 81.1,146.5 80.1,146.8 79.4,146.8 78.8,146.5 78.6,145.8 78.8,144.3 79.1,142.6 79.4,140.9 79.7,139.3" fill="none" stroke="#b9bf9e" stroke-width="0.9"/><polyline points="85.4,148.9 84.3,149.4 83.4,149.7 82.7,149.7 82.2,149.3 81.9,148.5 81.9,147.4 82.0,146.2 82.0,144.9 82.0,143.7 81.8,142.9 81.4,142.4 80.7,142.3 79.6,143.0 78.3,143.9 77.0,144.8 75.8,145.6" fill="none" stroke="#b9bf9e" stroke-width="0.9"/><polyline points="93.8,139.0 93.4,138.5 92.9,138.0 92.5,137.4 92.1,136.9 91.6,136.3 91.2,135.8 90.7,135.3 90.3,134.7 89.9,134.2 89.4,133.7 89.0,133.1 88.5,132.6 88.1,132.1 87.6,131.5 87.2,131.0 86.8,130.5" fill="none" stroke="#fdf9e2" stroke-width="4.2"/><polyline points="93.8,139.0 94.1,137.7 94.2,136.5 94.1,135.7 93.6,135.2 92.7,135.1 91.6,135.3 90.4,135.6 89.3,135.8 88.4,135.8 87.8,135.4 87.6,134.7 87.7,133.5 88.3,131.8 88.9,130.1 89.4,128.6 89.6,127.3" fill="none" stroke="#b9bf9e" stroke-width="0.9"/><polyline points="93.8,139.0 92.7,139.3 91.6,139.4 90.9,139.2 90.6,138.5 90.5,137.6 90.7,136.3 91.1,134.9 91.3,133.6 91.3,132.6 91.0,131.9 90.3,131.6 89.4,131.7 87.9,132.3 86.4,132.9 85.0,133.4 83.9,133.6" fill="none" stroke="#b9bf9e" stroke-width="0.9"/><polyline points="102.9,130.6 102.6,130.0 102.2,129.4 101.8,128.8 101.5,128.2 101.1,127.5 100.8,126.9 100.4,126.3 100.1,125.7 99.7,125.1 99.4,124.5 99.0,123.8 98.6,123.2 98.3,122.6 97.9,122.0 97.6,121.4 97.2,120.7" fill="none" stroke="#fdf9e2" stroke-width="4.2"/><polyline points="102.9,130.6 103.4,129.4 103.7,128.2 103.7,127.4 103.2,126.8 102.4,126.6 101.3,126.6 100.0,126.6 98.9,126.6 98.0,126.4 97.5,125.9 97.5,125.0 97.7,123.9 98.6,122.4 99.4,120.8 100.1,119.4 100.5,118.2" fill="none" stroke="#b9bf9e" stroke-width="0.9"/><polyline points="102.9,130.6 101.7,130.7 100.7,130.6 100.0,130.2 99.8,129.5 99.9,128.5 100.3,127.3 100.8,126.0 101.2,124.8 101.4,123.8 101.2,123.0 100.5,122.6 99.6,122.5 98.0,122.8 96.4,123.2 95.0,123.4 93.9,123.3" fill="none" stroke="#b9bf9e" stroke-width="0.9"/><polyline points="112.1,122.8 111.8,122.2 111.6,121.7 111.4,121.1 111.2,120.5 110.9,119.9 110.7,119.3 110.5,118.8 110.3,118.2 110.0,117.6 109.8,117.0 109.6,116.4 109.4,115.8 109.1,115.3 108.9,114.7 108.7,114.1 108.4,113.5" fill="none" stroke="#fdf9e2" stroke-width="4.2"/><polyline points="112.1,122.8 112.6,121.8 113.1,120.9 113.3,120.1 113.2,119.5 112.7,119.0 112.0,118.7 111.0,118.5 110.0,118.3 109.0,118.1 108.1,117.9 107.6,117.5 107.4,116.9 107.9,115.9 108.7,114.8 109.7,113.6 110.7,112.4" fill="none" stroke="#b9bf9e" stroke-width="0.9"/><polyline points="112.1,122.8 111.0,122.7 110.1,122.4 109.5,122.1 109.1,121.5 109.1,120.8 109.4,120.0 109.9,119.0 110.5,118.0 111.1,117.0 111.5,116.1 111.5,115.4 111.3,114.8 110.3,114.6 109.1,114.6 107.7,114.6 106.2,114.7" fill="none" stroke="#b9bf9e" stroke-width="0.9"/><polyline points="122.4,117.3 122.3,116.8 122.2,116.2 122.0,115.7 121.9,115.1 121.8,114.6 121.7,114.1 121.6,113.5 121.4,113.0 121.3,112.4 121.2,111.9 121.1,111.3 120.9,110.8 120.8,110.2 120.7,109.7 120.6,109.2 120.4,108.6" fill="none" stroke="#fdf9e2" stroke-width="4.2"/><polyline points="122.4,117.3 123.0,116.6 123.6,115.8 123.9,115.1 124.0,114.5 123.9,114.0 123.4,113.5 122.8,113.1 121.9,112.8 121.0,112.5 120.2,112.2 119.5,111.8 118.9,111.4 119.1,110.8 119.6,110.0 120.3,109.2 121.2,108.4" fill="none" stroke="#b9bf9e" stroke-width="0.9"/><polyline points="122.4,117.3 121.5,117.0 120.8,116.7 120.2,116.3 119.8,115.8 119.7,115.2 119.9,114.6 120.4,113.9 120.9,113.1 121.6,112.3 122.2,111.6 122.7,110.8 122.9,110.2 122.5,109.7 121.8,109.4 120.8,109.1 119.7,108.8" fill="none" stroke="#b9bf9e" stroke-width="0.9"/><polyline points="133.8,115.0 133.7,114.4 133.7,113.9 133.6,113.3 133.6,112.7 133.5,112.2 133.5,111.6 133.5,111.1 133.4,110.5 133.4,109.9 133.3,109.4 133.3,108.8 133.2,108.3 133.2,107.7 133.2,107.2 133.1,106.6 133.1,106.0" fill="none" stroke="#fdf9e2" stroke-width="4.2"/><polyline points="133.8,115.0 134.5,114.3 135.1,113.7 135.6,113.1 135.8,112.5 135.7,112.0 135.3,111.4 134.7,110.9 134.0,110.4 133.1,110.0 132.3,109.5 131.7,109.0 131.2,108.5 131.5,107.9 132.0,107.3 132.8,106.6 133.8,106.0" fill="none" stroke="#b9bf9e" stroke-width="0.9"/><polyline points="133.8,115.0 132.9,114.5 132.2,114.0 131.7,113.5 131.4,113.0 131.4,112.4 131.7,111.8 132.2,111.2 132.9,110.6 133.6,109.9 134.3,109.3 134.9,108.7 135.3,108.1 134.9,107.5 134.3,107.0 133.4,106.6 132.3,106.1" fill="none" stroke="#b9bf9e" stroke-width="0.9"/></g><ellipse cx="140.0" cy="124.0" rx="4.7" ry="5.1" fill="url(#dotR)"/><ellipse cx="149.5" cy="125.5" rx="4.7" ry="5.1" fill="url(#dotR)"/><ellipse cx="160.5" cy="129.2" rx="4.7" ry="5.1" fill="url(#dotR)"/><ellipse cx="169.5" cy="134.5" rx="4.7" ry="5.1" fill="url(#dotR)"/><ellipse cx="177.2" cy="139.7" rx="4.7" ry="5.1" fill="url(#dotR)"/><ellipse cx="184.2" cy="148.8" rx="4.7" ry="5.1" fill="url(#dotR)"/><ellipse cx="191.2" cy="158.2" rx="4.7" ry="5.1" fill="url(#dotR)"/><ellipse cx="196.5" cy="167.7" rx="4.7" ry="5.1" fill="url(#dotR)"/><ellipse cx="200.0" cy="179.2" rx="4.7" ry="5.1" fill="url(#dotR)"/><ellipse cx="202.8" cy="189.8" rx="4.7" ry="5.1" fill="url(#dotR)"/><ellipse cx="201.8" cy="202.2" rx="4.7" ry="5.1" fill="url(#dotR)"/><ellipse cx="200.0" cy="213.8" rx="4.7" ry="5.1" fill="url(#dotR)"/><ellipse cx="197.2" cy="224.3" rx="4.7" ry="5.1" fill="url(#dotR)"/><ellipse cx="192.3" cy="233.8" rx="4.7" ry="5.1" fill="url(#dotR)"/><ellipse cx="186.0" cy="242.5" rx="4.7" ry="5.1" fill="url(#dotR)"/><ellipse cx="177.2" cy="250.2" rx="4.7" ry="5.1" fill="url(#dotR)"/><ellipse cx="169.2" cy="255.8" rx="4.7" ry="5.1" fill="url(#dotR)"/><ellipse cx="159.8" cy="261.8" rx="4.7" ry="5.1" fill="url(#dotR)"/><ellipse cx="149.2" cy="264.5" rx="4.7" ry="5.1" fill="url(#dotR)"/><ellipse cx="139.8" cy="266.3" rx="4.7" ry="5.1" fill="url(#dotR)"/><ellipse cx="129.0" cy="264.5" rx="4.7" ry="5.1" fill="url(#dotR)"/><ellipse cx="118.5" cy="261.8" rx="4.7" ry="5.1" fill="url(#dotR)"/><ellipse cx="110.8" cy="256.5" rx="4.7" ry="5.1" fill="url(#dotR)"/><ellipse cx="101.7" cy="251.2" rx="4.7" ry="5.1" fill="url(#dotR)"/><ellipse cx="95.8" cy="242.5" rx="4.7" ry="5.1" fill="url(#dotR)"/><ellipse cx="89.8" cy="233.8" rx="4.7" ry="5.1" fill="url(#dotR)"/><ellipse cx="84.2" cy="224.3" rx="4.7" ry="5.1" fill="url(#dotR)"/><ellipse cx="81.8" cy="214.5" rx="4.7" ry="5.1" fill="url(#dotR)"/><ellipse cx="80.0" cy="204.0" rx="4.7" ry="5.1" fill="url(#dotR)"/><ellipse cx="78.5" cy="191.5" rx="4.7" ry="5.1" fill="url(#dotR)"/><ellipse cx="78.5" cy="179.5" rx="4.7" ry="5.1" fill="url(#dotR)"/><ellipse cx="83.0" cy="169.0" rx="4.7" ry="5.1" fill="url(#dotR)"/><ellipse cx="89.0" cy="159.0" rx="4.7" ry="5.1" fill="url(#dotR)"/><ellipse cx="95.0" cy="150.0" rx="4.7" ry="5.1" fill="url(#dotR)"/><ellipse cx="104.0" cy="142.0" rx="4.7" ry="5.1" fill="url(#dotR)"/><ellipse cx="111.0" cy="135.0" rx="4.7" ry="5.1" fill="url(#dotR)"/><ellipse cx="120.0" cy="128.0" rx="4.7" ry="5.1" fill="url(#dotR)"/><ellipse cx="129.0" cy="125.0" rx="4.7" ry="5.1" fill="url(#dotR)"/><ellipse cx="138.8" cy="79.5" rx="4.8" ry="5.2" fill="url(#dotR)"/><ellipse cx="127.3" cy="80.2" rx="4.8" ry="5.2" fill="url(#dotL)"/><ellipse cx="110.5" cy="84.75" rx="4.8" ry="5.2" fill="url(#dotR)"/><ellipse cx="100.3" cy="89" rx="4.8" ry="5.2" fill="url(#dotR)"/><ellipse cx="90.5" cy="94.2" rx="4.8" ry="5.2" fill="url(#dotL)"/><ellipse cx="76.5" cy="105.75" rx="4.8" ry="5.2" fill="url(#dotR)"/><ellipse cx="67.75" cy="114.5" rx="4.8" ry="5.2" fill="url(#dotR)"/><ellipse cx="60" cy="127.5" rx="4.8" ry="5.2" fill="url(#dotL)"/><ellipse cx="50" cy="144" rx="4.8" ry="5.2" fill="url(#dotR)"/><ellipse cx="46" cy="156.5" rx="4.8" ry="5.2" fill="url(#dotR)"/><ellipse cx="42.2" cy="167.7" rx="4.8" ry="5.2" fill="url(#dotL)"/><ellipse cx="40.8" cy="188" rx="4.8" ry="5.2" fill="url(#dotR)"/><ellipse cx="38" cy="200.5" rx="4.8" ry="5.2" fill="url(#dotL)"/><ellipse cx="40.8" cy="221.5" rx="4.8" ry="5.2" fill="url(#dotR)"/><ellipse cx="44" cy="233.75" rx="4.8" ry="5.2" fill="url(#dotR)"/><ellipse cx="47.8" cy="245.3" rx="4.8" ry="5.2" fill="url(#dotL)"/><ellipse cx="57.25" cy="261.75" rx="4.8" ry="5.2" fill="url(#dotR)"/><ellipse cx="66" cy="269.8" rx="4.8" ry="5.2" fill="url(#dotL)"/><ellipse cx="78.25" cy="283.8" rx="4.8" ry="5.2" fill="url(#dotR)"/><ellipse cx="87" cy="292.5" rx="4.8" ry="5.2" fill="url(#dotR)"/><ellipse cx="95.75" cy="299.2" rx="4.8" ry="5.2" fill="url(#dotL)"/><ellipse cx="112.2" cy="304.8" rx="4.8" ry="5.2" fill="url(#dotR)"/><ellipse cx="123.75" cy="308.3" rx="4.8" ry="5.2" fill="url(#dotL)"/><ellipse cx="141.25" cy="310.75" rx="4.8" ry="5.2" fill="url(#dotR)"/><ellipse cx="151.7" cy="310.75" rx="4.8" ry="5.2" fill="url(#dotR)"/><ellipse cx="163.25" cy="309" rx="4.8" ry="5.2" fill="url(#dotL)"/><ellipse cx="179.7" cy="302" rx="4.8" ry="5.2" fill="url(#dotR)"/><ellipse cx="189.5" cy="295" rx="4.8" ry="5.2" fill="url(#dotL)"/><ellipse cx="203.5" cy="284.5" rx="4.8" ry="5.2" fill="url(#dotR)"/><ellipse cx="211.2" cy="274.7" rx="4.8" ry="5.2" fill="url(#dotR)"/><ellipse cx="219.25" cy="265.25" rx="4.8" ry="5.2" fill="url(#dotL)"/><ellipse cx="227.3" cy="247.75" rx="4.8" ry="5.2" fill="url(#dotR)"/><ellipse cx="231.5" cy="235.5" rx="4.8" ry="5.2" fill="url(#dotL)"/><ellipse cx="236.75" cy="215.2" rx="4.8" ry="5.2" fill="url(#dotR)"/><ellipse cx="238.5" cy="204" rx="4.8" ry="5.2" fill="url(#dotR)"/><ellipse cx="240.25" cy="189.75" rx="4.8" ry="5.2" fill="url(#dotL)"/><ellipse cx="236.75" cy="168.75" rx="4.8" ry="5.2" fill="url(#dotR)"/><ellipse cx="234.3" cy="158.25" rx="4.8" ry="5.2" fill="url(#dotL)"/><ellipse cx="227.3" cy="138.3" rx="4.8" ry="5.2" fill="url(#dotR)"/><ellipse cx="221" cy="128.5" rx="4.8" ry="5.2" fill="url(#dotR)"/><ellipse cx="215" cy="118" rx="4.8" ry="5.2" fill="url(#dotL)"/><ellipse cx="201.75" cy="104.7" rx="4.8" ry="5.2" fill="url(#dotR)"/><ellipse cx="192.3" cy="98.75" rx="4.8" ry="5.2" fill="url(#dotL)"/><ellipse cx="177.25" cy="89" rx="4.8" ry="5.2" fill="url(#dotR)"/><ellipse cx="166.75" cy="84.75" rx="4.8" ry="5.2" fill="url(#dotR)"/><ellipse cx="156.25" cy="80.2" rx="4.8" ry="5.2" fill="url(#dotL)"/><g stroke-linejoin="round"><path d="M126.7,75.0 C126.8,74.6 127.8,72.8 127.1,72.3 C126.4,71.8 123.8,72.2 122.7,71.9 C121.6,71.5 120.7,71.0 120.7,70.4 C120.6,69.9 121.1,69.1 122.5,68.5 C123.8,67.9 127.5,67.4 128.9,66.8 C130.4,66.1 131.1,65.2 131.1,64.7 C131.1,64.1 130.5,63.6 129.0,63.4 C127.5,63.2 123.9,63.8 122.4,63.6 C120.8,63.4 119.9,62.7 119.8,62.2 C119.6,61.7 120.4,60.9 121.6,60.3 C122.7,59.7 125.7,58.8 126.6,58.5" fill="none" stroke="#737b85" stroke-width="2.3" stroke-linecap="round"/><path d="M126.7,75.0 C126.8,74.6 127.8,72.8 127.1,72.3 C126.4,71.8 123.8,72.2 122.7,71.9 C121.6,71.5 120.7,71.0 120.7,70.4 C120.6,69.9 121.1,69.1 122.5,68.5 C123.8,67.9 127.5,67.4 128.9,66.8 C130.4,66.1 131.1,65.2 131.1,64.7 C131.1,64.1 130.5,63.6 129.0,63.4 C127.5,63.2 123.9,63.8 122.4,63.6 C120.8,63.4 119.9,62.7 119.8,62.2 C119.6,61.7 120.4,60.9 121.6,60.3 C122.7,59.7 125.7,58.8 126.6,58.5" fill="none" stroke="#c8d0d8" stroke-width="0.8" stroke-linecap="round"/><path d="M88.3,89.7 C88.2,89.2 88.5,87.2 87.7,87.0 C86.9,86.8 84.6,88.3 83.5,88.5 C82.4,88.7 81.4,88.6 81.2,88.1 C80.9,87.6 81.1,86.7 82.2,85.5 C83.3,84.4 86.5,82.3 87.6,81.1 C88.7,79.8 89.1,78.7 89.0,78.2 C88.8,77.6 88.0,77.4 86.5,77.9 C85.1,78.4 82.0,80.5 80.5,81.0 C79.0,81.5 77.9,81.3 77.6,80.9 C77.3,80.4 77.8,79.4 78.7,78.4 C79.5,77.3 82.0,75.1 82.7,74.5" fill="none" stroke="#737b85" stroke-width="2.3" stroke-linecap="round"/><path d="M88.3,89.7 C88.2,89.2 88.5,87.2 87.7,87.0 C86.9,86.8 84.6,88.3 83.5,88.5 C82.4,88.7 81.4,88.6 81.2,88.1 C80.9,87.6 81.1,86.7 82.2,85.5 C83.3,84.4 86.5,82.3 87.6,81.1 C88.7,79.8 89.1,78.7 89.0,78.2 C88.8,77.6 88.0,77.4 86.5,77.9 C85.1,78.4 82.0,80.5 80.5,81.0 C79.0,81.5 77.9,81.3 77.6,80.9 C77.3,80.4 77.8,79.4 78.7,78.4 C79.5,77.3 82.0,75.1 82.7,74.5" fill="none" stroke="#c8d0d8" stroke-width="0.8" stroke-linecap="round"/><path d="M56.4,124.4 C56.1,124.1 55.7,122.0 54.9,122.2 C54.1,122.4 52.6,124.9 51.6,125.6 C50.7,126.3 49.7,126.7 49.3,126.4 C48.9,126.0 48.8,125.1 49.4,123.6 C49.9,122.0 52.1,118.6 52.7,116.9 C53.3,115.3 53.2,114.0 52.9,113.6 C52.6,113.2 51.7,113.4 50.6,114.5 C49.5,115.6 47.4,119.1 46.2,120.3 C45.0,121.4 44.0,121.8 43.5,121.5 C43.1,121.2 43.2,120.1 43.6,118.7 C44.0,117.3 45.5,114.1 45.9,113.2" fill="none" stroke="#737b85" stroke-width="2.3" stroke-linecap="round"/><path d="M56.4,124.4 C56.1,124.1 55.7,122.0 54.9,122.2 C54.1,122.4 52.6,124.9 51.6,125.6 C50.7,126.3 49.7,126.7 49.3,126.4 C48.9,126.0 48.8,125.1 49.4,123.6 C49.9,122.0 52.1,118.6 52.7,116.9 C53.3,115.3 53.2,114.0 52.9,113.6 C52.6,113.2 51.7,113.4 50.6,114.5 C49.5,115.6 47.4,119.1 46.2,120.3 C45.0,121.4 44.0,121.8 43.5,121.5 C43.1,121.2 43.2,120.1 43.6,118.7 C44.0,117.3 45.5,114.1 45.9,113.2" fill="none" stroke="#c8d0d8" stroke-width="0.8" stroke-linecap="round"/><path d="M37.8,166.5 C37.5,166.3 36.4,164.6 35.7,165.1 C35.1,165.6 34.5,168.7 33.8,169.7 C33.2,170.7 32.4,171.6 32.0,171.4 C31.5,171.3 31.1,170.5 31.1,168.8 C31.1,167.1 32.0,163.0 31.9,161.2 C31.9,159.4 31.5,158.2 31.1,158.0 C30.6,157.8 29.9,158.4 29.3,159.9 C28.6,161.4 27.7,165.5 27.0,167.1 C26.3,168.7 25.5,169.5 25.0,169.5 C24.5,169.4 24.2,168.3 24.1,166.9 C24.0,165.4 24.4,161.8 24.5,160.8" fill="none" stroke="#737b85" stroke-width="2.3" stroke-linecap="round"/><path d="M37.8,166.5 C37.5,166.3 36.4,164.6 35.7,165.1 C35.1,165.6 34.5,168.7 33.8,169.7 C33.2,170.7 32.4,171.6 32.0,171.4 C31.5,171.3 31.1,170.5 31.1,168.8 C31.1,167.1 32.0,163.0 31.9,161.2 C31.9,159.4 31.5,158.2 31.1,158.0 C30.6,157.8 29.9,158.4 29.3,159.9 C28.6,161.4 27.7,165.5 27.0,167.1 C26.3,168.7 25.5,169.5 25.0,169.5 C24.5,169.4 24.2,168.3 24.1,166.9 C24.0,165.4 24.4,161.8 24.5,160.8" fill="none" stroke="#c8d0d8" stroke-width="0.8" stroke-linecap="round"/><path d="M33.5,200.7 C33.1,200.6 31.7,199.4 31.2,200.1 C30.7,200.8 30.8,203.9 30.5,205.1 C30.1,206.3 29.5,207.4 29.1,207.4 C28.6,207.4 28.0,206.8 27.6,205.1 C27.2,203.5 27.0,199.3 26.6,197.5 C26.2,195.8 25.5,194.9 25.0,194.8 C24.5,194.8 24.0,195.5 23.7,197.2 C23.4,198.9 23.6,203.1 23.3,204.9 C23.0,206.6 22.4,207.6 21.9,207.8 C21.5,207.9 20.9,206.9 20.5,205.5 C20.0,204.2 19.5,200.6 19.3,199.6" fill="none" stroke="#737b85" stroke-width="2.3" stroke-linecap="round"/><path d="M33.5,200.7 C33.1,200.6 31.7,199.4 31.2,200.1 C30.7,200.8 30.8,203.9 30.5,205.1 C30.1,206.3 29.5,207.4 29.1,207.4 C28.6,207.4 28.0,206.8 27.6,205.1 C27.2,203.5 27.0,199.3 26.6,197.5 C26.2,195.8 25.5,194.9 25.0,194.8 C24.5,194.8 24.0,195.5 23.7,197.2 C23.4,198.9 23.6,203.1 23.3,204.9 C23.0,206.6 22.4,207.6 21.9,207.8 C21.5,207.9 20.9,206.9 20.5,205.5 C20.0,204.2 19.5,200.6 19.3,199.6" fill="none" stroke="#c8d0d8" stroke-width="0.8" stroke-linecap="round"/><path d="M43.7,247.5 C43.3,247.6 41.6,247.1 41.4,248.0 C41.1,248.9 42.3,251.6 42.4,252.9 C42.4,254.2 42.2,255.4 41.8,255.6 C41.4,255.8 40.6,255.6 39.7,254.2 C38.8,252.9 37.2,249.0 36.3,247.6 C35.3,246.2 34.4,245.7 33.9,245.8 C33.4,246.0 33.2,246.9 33.5,248.6 C33.8,250.3 35.4,254.1 35.7,255.9 C36.0,257.6 35.8,258.8 35.3,259.1 C34.9,259.5 34.1,258.8 33.3,257.7 C32.4,256.7 30.7,253.6 30.2,252.8" fill="none" stroke="#737b85" stroke-width="2.3" stroke-linecap="round"/><path d="M43.7,247.5 C43.3,247.6 41.6,247.1 41.4,248.0 C41.1,248.9 42.3,251.6 42.4,252.9 C42.4,254.2 42.2,255.4 41.8,255.6 C41.4,255.8 40.6,255.6 39.7,254.2 C38.8,252.9 37.2,249.0 36.3,247.6 C35.3,246.2 34.4,245.7 33.9,245.8 C33.4,246.0 33.2,246.9 33.5,248.6 C33.8,250.3 35.4,254.1 35.7,255.9 C36.0,257.6 35.8,258.8 35.3,259.1 C34.9,259.5 34.1,258.8 33.3,257.7 C32.4,256.7 30.7,253.6 30.2,252.8" fill="none" stroke="#c8d0d8" stroke-width="0.8" stroke-linecap="round"/><path d="M62.6,273.2 C62.2,273.4 60.4,273.5 60.4,274.4 C60.4,275.3 62.2,277.7 62.6,278.9 C62.9,280.1 63.0,281.3 62.7,281.6 C62.3,282.0 61.5,281.9 60.3,281.0 C59.1,280.0 56.7,276.7 55.5,275.7 C54.2,274.7 53.2,274.4 52.8,274.7 C52.3,275.0 52.3,276.0 53.0,277.5 C53.7,279.0 56.1,282.2 56.8,283.8 C57.5,285.4 57.6,286.6 57.3,287.1 C57.0,287.5 56.0,287.1 54.9,286.4 C53.9,285.6 51.5,283.2 50.9,282.6" fill="none" stroke="#737b85" stroke-width="2.3" stroke-linecap="round"/><path d="M62.6,273.2 C62.2,273.4 60.4,273.5 60.4,274.4 C60.4,275.3 62.2,277.7 62.6,278.9 C62.9,280.1 63.0,281.3 62.7,281.6 C62.3,282.0 61.5,281.9 60.3,281.0 C59.1,280.0 56.7,276.7 55.5,275.7 C54.2,274.7 53.2,274.4 52.8,274.7 C52.3,275.0 52.3,276.0 53.0,277.5 C53.7,279.0 56.1,282.2 56.8,283.8 C57.5,285.4 57.6,286.6 57.3,287.1 C57.0,287.5 56.0,287.1 54.9,286.4 C53.9,285.6 51.5,283.2 50.9,282.6" fill="none" stroke="#c8d0d8" stroke-width="0.8" stroke-linecap="round"/><path d="M93.8,303.9 C93.5,304.2 91.8,305.1 92.2,305.9 C92.5,306.8 94.9,308.1 95.6,309.1 C96.3,310.0 96.8,311.1 96.6,311.6 C96.4,312.1 95.7,312.4 94.2,312.0 C92.8,311.7 89.5,309.8 88.0,309.4 C86.5,309.0 85.4,309.2 85.2,309.7 C84.9,310.1 85.2,311.0 86.3,312.1 C87.5,313.2 90.8,315.1 92.0,316.2 C93.1,317.4 93.6,318.5 93.5,319.0 C93.3,319.6 92.3,319.7 91.1,319.4 C89.8,319.2 86.9,318.0 86.0,317.8" fill="none" stroke="#737b85" stroke-width="2.3" stroke-linecap="round"/><path d="M93.8,303.9 C93.5,304.2 91.8,305.1 92.2,305.9 C92.5,306.8 94.9,308.1 95.6,309.1 C96.3,310.0 96.8,311.1 96.6,311.6 C96.4,312.1 95.7,312.4 94.2,312.0 C92.8,311.7 89.5,309.8 88.0,309.4 C86.5,309.0 85.4,309.2 85.2,309.7 C84.9,310.1 85.2,311.0 86.3,312.1 C87.5,313.2 90.8,315.1 92.0,316.2 C93.1,317.4 93.6,318.5 93.5,319.0 C93.3,319.6 92.3,319.7 91.1,319.4 C89.8,319.2 86.9,318.0 86.0,317.8" fill="none" stroke="#c8d0d8" stroke-width="0.8" stroke-linecap="round"/><path d="M123.0,313.4 C122.8,313.9 121.5,315.2 122.0,316.0 C122.5,316.7 125.1,317.2 126.1,317.8 C127.0,318.5 127.8,319.3 127.7,319.9 C127.6,320.4 127.0,321.0 125.5,321.1 C124.0,321.2 120.4,320.5 118.9,320.6 C117.3,320.8 116.4,321.3 116.2,321.9 C116.1,322.4 116.6,323.2 118.0,323.8 C119.3,324.5 122.9,325.2 124.4,325.9 C125.8,326.6 126.5,327.5 126.5,328.1 C126.5,328.6 125.6,329.0 124.3,329.3 C123.1,329.5 119.9,329.3 119.1,329.3" fill="none" stroke="#737b85" stroke-width="2.3" stroke-linecap="round"/><path d="M123.0,313.4 C122.8,313.9 121.5,315.2 122.0,316.0 C122.5,316.7 125.1,317.2 126.1,317.8 C127.0,318.5 127.8,319.3 127.7,319.9 C127.6,320.4 127.0,321.0 125.5,321.1 C124.0,321.2 120.4,320.5 118.9,320.6 C117.3,320.8 116.4,321.3 116.2,321.9 C116.1,322.4 116.6,323.2 118.0,323.8 C119.3,324.5 122.9,325.2 124.4,325.9 C125.8,326.6 126.5,327.5 126.5,328.1 C126.5,328.6 125.6,329.0 124.3,329.3 C123.1,329.5 119.9,329.3 119.1,329.3" fill="none" stroke="#c8d0d8" stroke-width="0.8" stroke-linecap="round"/><path d="M164.3,314.1 C164.3,314.5 163.5,316.4 164.2,316.9 C164.9,317.3 167.5,316.6 168.6,316.7 C169.7,316.9 170.6,317.4 170.7,317.9 C170.8,318.5 170.4,319.2 169.1,320.0 C167.8,320.8 164.2,321.7 162.9,322.6 C161.5,323.4 160.8,324.3 160.8,324.9 C160.9,325.5 161.6,325.9 163.1,325.9 C164.6,325.9 168.1,324.9 169.7,324.9 C171.2,325.0 172.2,325.5 172.4,326.0 C172.5,326.5 171.8,327.3 170.8,328.1 C169.7,328.8 166.7,330.1 165.9,330.5" fill="none" stroke="#737b85" stroke-width="2.3" stroke-linecap="round"/><path d="M164.3,314.1 C164.3,314.5 163.5,316.4 164.2,316.9 C164.9,317.3 167.5,316.6 168.6,316.7 C169.7,316.9 170.6,317.4 170.7,317.9 C170.8,318.5 170.4,319.2 169.1,320.0 C167.8,320.8 164.2,321.7 162.9,322.6 C161.5,323.4 160.8,324.3 160.8,324.9 C160.9,325.5 161.6,325.9 163.1,325.9 C164.6,325.9 168.1,324.9 169.7,324.9 C171.2,325.0 172.2,325.5 172.4,326.0 C172.5,326.5 171.8,327.3 170.8,328.1 C169.7,328.8 166.7,330.1 165.9,330.5" fill="none" stroke="#c8d0d8" stroke-width="0.8" stroke-linecap="round"/><path d="M191.7,299.5 C191.8,300.0 191.5,302.0 192.3,302.2 C193.1,302.4 195.4,300.9 196.5,300.7 C197.6,300.5 198.6,300.6 198.9,301.1 C199.1,301.6 198.9,302.5 197.8,303.6 C196.8,304.8 193.6,306.9 192.4,308.1 C191.3,309.4 190.9,310.5 191.1,311.0 C191.3,311.6 192.1,311.8 193.5,311.3 C194.9,310.8 198.1,308.7 199.6,308.2 C201.1,307.7 202.1,307.8 202.4,308.3 C202.7,308.7 202.2,309.7 201.4,310.8 C200.5,311.9 198.0,314.1 197.4,314.7" fill="none" stroke="#737b85" stroke-width="2.3" stroke-linecap="round"/><path d="M191.7,299.5 C191.8,300.0 191.5,302.0 192.3,302.2 C193.1,302.4 195.4,300.9 196.5,300.7 C197.6,300.5 198.6,300.6 198.9,301.1 C199.1,301.6 198.9,302.5 197.8,303.6 C196.8,304.8 193.6,306.9 192.4,308.1 C191.3,309.4 190.9,310.5 191.1,311.0 C191.3,311.6 192.1,311.8 193.5,311.3 C194.9,310.8 198.1,308.7 199.6,308.2 C201.1,307.7 202.1,307.8 202.4,308.3 C202.7,308.7 202.2,309.7 201.4,310.8 C200.5,311.9 198.0,314.1 197.4,314.7" fill="none" stroke="#c8d0d8" stroke-width="0.8" stroke-linecap="round"/><path d="M222.8,268.4 C223.1,268.8 223.5,270.8 224.3,270.6 C225.0,270.5 226.6,268.0 227.6,267.3 C228.5,266.7 229.5,266.3 229.9,266.7 C230.3,267.0 230.4,267.9 229.8,269.5 C229.2,271.0 227.0,274.4 226.3,276.0 C225.7,277.7 225.7,278.9 226.1,279.3 C226.4,279.7 227.2,279.5 228.4,278.5 C229.5,277.4 231.7,274.0 232.9,272.9 C234.1,271.7 235.2,271.4 235.6,271.7 C236.0,272.0 235.9,273.1 235.5,274.5 C235.1,275.9 233.5,279.0 233.1,279.9" fill="none" stroke="#737b85" stroke-width="2.3" stroke-linecap="round"/><path d="M222.8,268.4 C223.1,268.8 223.5,270.8 224.3,270.6 C225.0,270.5 226.6,268.0 227.6,267.3 C228.5,266.7 229.5,266.3 229.9,266.7 C230.3,267.0 230.4,267.9 229.8,269.5 C229.2,271.0 227.0,274.4 226.3,276.0 C225.7,277.7 225.7,278.9 226.1,279.3 C226.4,279.7 227.2,279.5 228.4,278.5 C229.5,277.4 231.7,274.0 232.9,272.9 C234.1,271.7 235.2,271.4 235.6,271.7 C236.0,272.0 235.9,273.1 235.5,274.5 C235.1,275.9 233.5,279.0 233.1,279.9" fill="none" stroke="#c8d0d8" stroke-width="0.8" stroke-linecap="round"/><path d="M235.7,237.4 C236.0,237.6 236.9,239.5 237.6,239.0 C238.3,238.6 239.3,235.7 240.0,234.8 C240.7,233.8 241.6,233.1 242.1,233.3 C242.5,233.6 242.8,234.4 242.7,236.1 C242.5,237.8 241.1,241.7 240.9,243.5 C240.7,245.3 241.1,246.5 241.5,246.7 C241.9,247.0 242.6,246.6 243.5,245.2 C244.3,243.8 245.6,239.8 246.5,238.3 C247.3,236.8 248.3,236.2 248.7,236.3 C249.2,236.4 249.4,237.6 249.3,239.0 C249.2,240.5 248.5,244.0 248.3,245.0" fill="none" stroke="#737b85" stroke-width="2.3" stroke-linecap="round"/><path d="M235.7,237.4 C236.0,237.6 236.9,239.5 237.6,239.0 C238.3,238.6 239.3,235.7 240.0,234.8 C240.7,233.8 241.6,233.1 242.1,233.3 C242.5,233.6 242.8,234.4 242.7,236.1 C242.5,237.8 241.1,241.7 240.9,243.5 C240.7,245.3 241.1,246.5 241.5,246.7 C241.9,247.0 242.6,246.6 243.5,245.2 C244.3,243.8 245.6,239.8 246.5,238.3 C247.3,236.8 248.3,236.2 248.7,236.3 C249.2,236.4 249.4,237.6 249.3,239.0 C249.2,240.5 248.5,244.0 248.3,245.0" fill="none" stroke="#c8d0d8" stroke-width="0.8" stroke-linecap="round"/><path d="M244.7,189.5 C245.1,189.6 246.6,190.9 247.1,190.2 C247.6,189.4 247.4,186.4 247.8,185.1 C248.2,183.9 248.7,182.9 249.2,182.9 C249.7,182.9 250.3,183.5 250.7,185.1 C251.1,186.8 251.2,191.0 251.7,192.7 C252.1,194.5 252.8,195.4 253.3,195.5 C253.7,195.5 254.3,194.8 254.6,193.1 C254.8,191.4 254.6,187.2 254.9,185.4 C255.2,183.6 255.9,182.6 256.3,182.5 C256.8,182.4 257.4,183.4 257.8,184.7 C258.2,186.1 258.8,189.7 259.0,190.7" fill="none" stroke="#737b85" stroke-width="2.3" stroke-linecap="round"/><path d="M244.7,189.5 C245.1,189.6 246.6,190.9 247.1,190.2 C247.6,189.4 247.4,186.4 247.8,185.1 C248.2,183.9 248.7,182.9 249.2,182.9 C249.7,182.9 250.3,183.5 250.7,185.1 C251.1,186.8 251.2,191.0 251.7,192.7 C252.1,194.5 252.8,195.4 253.3,195.5 C253.7,195.5 254.3,194.8 254.6,193.1 C254.8,191.4 254.6,187.2 254.9,185.4 C255.2,183.6 255.9,182.6 256.3,182.5 C256.8,182.4 257.4,183.4 257.8,184.7 C258.2,186.1 258.8,189.7 259.0,190.7" fill="none" stroke="#c8d0d8" stroke-width="0.8" stroke-linecap="round"/><path d="M238.6,156.6 C239.0,156.6 240.6,157.3 241.0,156.5 C241.3,155.6 240.4,152.7 240.5,151.4 C240.5,150.1 240.8,149.0 241.3,148.8 C241.7,148.6 242.4,149.0 243.2,150.5 C244.0,151.9 245.2,155.9 246.0,157.5 C246.8,159.0 247.7,159.7 248.2,159.6 C248.6,159.5 249.0,158.6 248.8,156.9 C248.7,155.2 247.5,151.2 247.4,149.4 C247.3,147.6 247.6,146.4 248.0,146.2 C248.5,145.9 249.2,146.7 250.0,147.8 C250.7,149.0 252.1,152.3 252.5,153.2" fill="none" stroke="#737b85" stroke-width="2.3" stroke-linecap="round"/><path d="M238.6,156.6 C239.0,156.6 240.6,157.3 241.0,156.5 C241.3,155.6 240.4,152.7 240.5,151.4 C240.5,150.1 240.8,149.0 241.3,148.8 C241.7,148.6 242.4,149.0 243.2,150.5 C244.0,151.9 245.2,155.9 246.0,157.5 C246.8,159.0 247.7,159.7 248.2,159.6 C248.6,159.5 249.0,158.6 248.8,156.9 C248.7,155.2 247.5,151.2 247.4,149.4 C247.3,147.6 247.6,146.4 248.0,146.2 C248.5,145.9 249.2,146.7 250.0,147.8 C250.7,149.0 252.1,152.3 252.5,153.2" fill="none" stroke="#c8d0d8" stroke-width="0.8" stroke-linecap="round"/><path d="M218.4,114.5 C218.7,114.3 220.5,114.3 220.5,113.3 C220.5,112.4 218.8,110.1 218.4,108.9 C218.0,107.7 217.9,106.5 218.3,106.1 C218.6,105.8 219.4,105.8 220.6,106.8 C221.8,107.8 224.2,111.0 225.5,112.0 C226.8,113.0 227.8,113.3 228.2,113.0 C228.6,112.6 228.6,111.7 227.9,110.2 C227.2,108.7 224.8,105.5 224.1,103.9 C223.4,102.3 223.3,101.1 223.6,100.7 C223.9,100.2 224.9,100.6 225.9,101.3 C227.0,102.1 229.4,104.5 230.1,105.1" fill="none" stroke="#737b85" stroke-width="2.3" stroke-linecap="round"/><path d="M218.4,114.5 C218.7,114.3 220.5,114.3 220.5,113.3 C220.5,112.4 218.8,110.1 218.4,108.9 C218.0,107.7 217.9,106.5 218.3,106.1 C218.6,105.8 219.4,105.8 220.6,106.8 C221.8,107.8 224.2,111.0 225.5,112.0 C226.8,113.0 227.8,113.3 228.2,113.0 C228.6,112.6 228.6,111.7 227.9,110.2 C227.2,108.7 224.8,105.5 224.1,103.9 C223.4,102.3 223.3,101.1 223.6,100.7 C223.9,100.2 224.9,100.6 225.9,101.3 C227.0,102.1 229.4,104.5 230.1,105.1" fill="none" stroke="#c8d0d8" stroke-width="0.8" stroke-linecap="round"/><path d="M194.7,94.3 C195.0,94.0 196.7,93.4 196.5,92.5 C196.3,91.6 194.0,90.0 193.3,88.9 C192.7,87.9 192.3,86.8 192.6,86.3 C192.8,85.8 193.6,85.6 195.0,86.2 C196.4,86.7 199.5,89.0 200.9,89.6 C202.4,90.2 203.4,90.0 203.8,89.6 C204.1,89.2 203.9,88.3 202.8,87.0 C201.8,85.8 198.7,83.6 197.6,82.3 C196.5,81.0 196.2,79.8 196.4,79.3 C196.6,78.8 197.6,78.8 198.8,79.2 C200.0,79.5 202.8,81.1 203.6,81.5" fill="none" stroke="#737b85" stroke-width="2.3" stroke-linecap="round"/><path d="M194.7,94.3 C195.0,94.0 196.7,93.4 196.5,92.5 C196.3,91.6 194.0,90.0 193.3,88.9 C192.7,87.9 192.3,86.8 192.6,86.3 C192.8,85.8 193.6,85.6 195.0,86.2 C196.4,86.7 199.5,89.0 200.9,89.6 C202.4,90.2 203.4,90.0 203.8,89.6 C204.1,89.2 203.9,88.3 202.8,87.0 C201.8,85.8 198.7,83.6 197.6,82.3 C196.5,81.0 196.2,79.8 196.4,79.3 C196.6,78.8 197.6,78.8 198.8,79.2 C200.0,79.5 202.8,81.1 203.6,81.5" fill="none" stroke="#c8d0d8" stroke-width="0.8" stroke-linecap="round"/><path d="M157.0,75.0 C157.1,74.6 158.5,73.3 158.0,72.5 C157.5,71.8 154.9,71.3 153.9,70.7 C153.0,70.0 152.2,69.2 152.3,68.6 C152.4,68.1 153.0,67.5 154.5,67.4 C156.0,67.3 159.6,68.0 161.1,67.9 C162.7,67.7 163.6,67.1 163.7,66.6 C163.9,66.1 163.4,65.3 162.0,64.7 C160.7,64.0 157.0,63.3 155.6,62.6 C154.2,61.9 153.5,61.0 153.5,60.5 C153.5,59.9 154.4,59.5 155.6,59.2 C156.9,59.0 160.0,59.2 160.9,59.2" fill="none" stroke="#737b85" stroke-width="2.3" stroke-linecap="round"/><path d="M157.0,75.0 C157.1,74.6 158.5,73.3 158.0,72.5 C157.5,71.8 154.9,71.3 153.9,70.7 C153.0,70.0 152.2,69.2 152.3,68.6 C152.4,68.1 153.0,67.5 154.5,67.4 C156.0,67.3 159.6,68.0 161.1,67.9 C162.7,67.7 163.6,67.1 163.7,66.6 C163.9,66.1 163.4,65.3 162.0,64.7 C160.7,64.0 157.0,63.3 155.6,62.6 C154.2,61.9 153.5,61.0 153.5,60.5 C153.5,59.9 154.4,59.5 155.6,59.2 C156.9,59.0 160.0,59.2 160.9,59.2" fill="none" stroke="#c8d0d8" stroke-width="0.8" stroke-linecap="round"/></g><polyline points="89.0,182.3 89.5,182.4 89.9,182.6 90.4,183.1 90.8,183.6 91.3,184.4 91.7,185.2 92.2,186.2 92.6,187.3 93.1,188.5 93.5,189.8 94.0,191.0 94.5,192.4 94.9,193.7 95.4,195.0 95.8,196.2 96.3,197.4 96.7,198.6 97.2,199.6 97.6,200.5 98.1,201.2 98.5,201.8 99.0,202.3 99.5,202.6 99.9,202.7 100.4,202.6" fill="none" stroke="#5f9ab6" stroke-width="4.0" stroke-linecap="round"/><polyline points="89.0,182.3 89.5,182.4 89.9,182.6 90.4,183.1 90.8,183.6 91.3,184.4 91.7,185.2 92.2,186.2 92.6,187.3 93.1,188.5 93.5,189.8 94.0,191.0 94.5,192.4 94.9,193.7 95.4,195.0 95.8,196.2 96.3,197.4 96.7,198.6 97.2,199.6 97.6,200.5 98.1,201.2 98.5,201.8 99.0,202.3 99.5,202.6 99.9,202.7 100.4,202.6" fill="none" stroke="#a8d5e8" stroke-width="1.9" stroke-linecap="round"/><polyline points="111.3,182.3 111.7,182.5 112.2,182.9 112.6,183.4 113.1,184.1 113.5,184.9 114.0,185.8 114.5,186.9 114.9,188.0 115.4,189.2 115.8,190.5 116.3,191.8 116.7,193.2 117.2,194.5 117.6,195.8 118.1,197.0 118.5,198.1 119.0,199.2 119.5,200.1 119.9,200.9 120.4,201.6 120.8,202.1 121.3,202.5 121.7,202.7 122.2,202.7" fill="none" stroke="#5f9ab6" stroke-width="4.0" stroke-linecap="round"/><polyline points="111.3,182.3 111.7,182.5 112.2,182.9 112.6,183.4 113.1,184.1 113.5,184.9 114.0,185.8 114.5,186.9 114.9,188.0 115.4,189.2 115.8,190.5 116.3,191.8 116.7,193.2 117.2,194.5 117.6,195.8 118.1,197.0 118.5,198.1 119.0,199.2 119.5,200.1 119.9,200.9 120.4,201.6 120.8,202.1 121.3,202.5 121.7,202.7 122.2,202.7" fill="none" stroke="#a8d5e8" stroke-width="1.9" stroke-linecap="round"/><polyline points="133.1,182.3 133.5,182.4 134.0,182.7 134.5,183.2 134.9,183.8 135.4,184.5 135.8,185.4 136.3,186.4 136.7,187.6 137.2,188.8 137.6,190.0 138.1,191.3 138.5,192.6 139.0,194.0 139.5,195.2 139.9,196.5 140.4,197.7 140.8,198.8 141.3,199.8 141.7,200.6 142.2,201.4 142.6,201.9 143.1,202.4 143.5,202.6 144.0,202.7 144.5,202.6" fill="none" stroke="#5f9ab6" stroke-width="4.0" stroke-linecap="round"/><polyline points="133.1,182.3 133.5,182.4 134.0,182.7 134.5,183.2 134.9,183.8 135.4,184.5 135.8,185.4 136.3,186.4 136.7,187.6 137.2,188.8 137.6,190.0 138.1,191.3 138.5,192.6 139.0,194.0 139.5,195.2 139.9,196.5 140.4,197.7 140.8,198.8 141.3,199.8 141.7,200.6 142.2,201.4 142.6,201.9 143.1,202.4 143.5,202.6 144.0,202.7 144.5,202.6" fill="none" stroke="#a8d5e8" stroke-width="1.9" stroke-linecap="round"/><polyline points="155.4,182.4 155.8,182.6 156.3,183.0 156.7,183.5 157.2,184.2 157.6,185.1 158.1,186.0 158.5,187.1 159.0,188.3 159.5,189.5 159.9,190.8 160.4,192.1 160.8,193.4 161.3,194.7 161.7,196.0 162.2,197.2 162.6,198.3 163.1,199.4 163.5,200.3 164.0,201.1 164.5,201.7 164.9,202.2 165.4,202.5 165.8,202.7 166.3,202.7" fill="none" stroke="#5f9ab6" stroke-width="4.0" stroke-linecap="round"/><polyline points="155.4,182.4 155.8,182.6 156.3,183.0 156.7,183.5 157.2,184.2 157.6,185.1 158.1,186.0 158.5,187.1 159.0,188.3 159.5,189.5 159.9,190.8 160.4,192.1 160.8,193.4 161.3,194.7 161.7,196.0 162.2,197.2 162.6,198.3 163.1,199.4 163.5,200.3 164.0,201.1 164.5,201.7 164.9,202.2 165.4,202.5 165.8,202.7 166.3,202.7" fill="none" stroke="#a8d5e8" stroke-width="1.9" stroke-linecap="round"/><polyline points="177.2,182.3 177.6,182.5 178.1,182.8 178.5,183.3 179.0,183.9 179.5,184.7 179.9,185.6 180.4,186.7 180.8,187.8 181.3,189.0 181.7,190.3 182.2,191.6 182.6,192.9 183.1,194.2 183.5,195.5 184.0,196.7 184.5,197.9 184.9,199.0 185.4,199.9 185.8,200.8 186.3,201.5 186.7,202.0 187.2,202.4 187.6,202.6 188.1,202.7" fill="none" stroke="#5f9ab6" stroke-width="4.0" stroke-linecap="round"/><polyline points="177.2,182.3 177.6,182.5 178.1,182.8 178.5,183.3 179.0,183.9 179.5,184.7 179.9,185.6 180.4,186.7 180.8,187.8 181.3,189.0 181.7,190.3 182.2,191.6 182.6,192.9 183.1,194.2 183.5,195.5 184.0,196.7 184.5,197.9 184.9,199.0 185.4,199.9 185.8,200.8 186.3,201.5 186.7,202.0 187.2,202.4 187.6,202.6 188.1,202.7" fill="none" stroke="#a8d5e8" stroke-width="1.9" stroke-linecap="round"/><polyline points="100.4,202.6 100.8,202.4 101.3,202.0 101.7,201.5 102.2,200.8 102.6,199.9 103.1,199.0 103.5,197.9 104.0,196.7 104.5,195.5 104.9,194.2 105.4,192.9 105.8,191.6 106.3,190.3 106.7,189.0 107.2,187.8 107.6,186.7 108.1,185.6 108.5,184.7 109.0,183.9 109.5,183.3 109.9,182.8 110.4,182.5 110.8,182.3 111.3,182.3" fill="none" stroke="#4a8aad" stroke-width="4.2" stroke-linecap="round"/><polyline points="122.2,202.7 122.6,202.5 123.1,202.2 123.5,201.7 124.0,201.1 124.5,200.3 124.9,199.4 125.4,198.3 125.8,197.2 126.3,196.0 126.7,194.7 127.2,193.4 127.6,192.1 128.1,190.8 128.5,189.5 129.0,188.3 129.5,187.1 129.9,186.0 130.4,185.1 130.8,184.2 131.3,183.5 131.7,183.0 132.2,182.6 132.6,182.4 133.1,182.3" fill="none" stroke="#4a8aad" stroke-width="4.2" stroke-linecap="round"/><polyline points="144.5,202.6 144.9,202.4 145.4,201.9 145.8,201.4 146.3,200.6 146.7,199.8 147.2,198.8 147.6,197.7 148.1,196.5 148.5,195.2 149.0,194.0 149.5,192.6 149.9,191.3 150.4,190.0 150.8,188.8 151.3,187.6 151.7,186.4 152.2,185.4 152.6,184.5 153.1,183.8 153.5,183.2 154.0,182.7 154.5,182.4 154.9,182.3 155.4,182.4" fill="none" stroke="#4a8aad" stroke-width="4.2" stroke-linecap="round"/><polyline points="166.3,202.7 166.7,202.5 167.2,202.1 167.6,201.6 168.1,200.9 168.5,200.1 169.0,199.2 169.5,198.1 169.9,197.0 170.4,195.8 170.8,194.5 171.3,193.2 171.7,191.8 172.2,190.5 172.6,189.2 173.1,188.0 173.5,186.9 174.0,185.8 174.5,184.9 174.9,184.1 175.4,183.4 175.8,182.9 176.3,182.5 176.7,182.3 177.2,182.3" fill="none" stroke="#4a8aad" stroke-width="4.2" stroke-linecap="round"/><polyline points="188.1,202.7 188.5,202.6 189.0,202.3" fill="none" stroke="#4a8aad" stroke-width="4.2" stroke-linecap="round"/><line x1="96" y1="175.25" x2="111.5" y2="175.25" stroke="#5f5f52" stroke-width="1.3"/><path d="M111,175.25 C112.5,175.25 113,173.75 113,171.25 L113.3,163.25 C113.5,157.25 117.3,157.25 117.5,163.25 L117.8,170.25 C118,172.75 121,173.25 125.5,172.45" fill="none" stroke="#e2907c" stroke-width="1.45"/><line x1="113.3" y1="170.25" x2="117.5" y2="170.25" stroke="#eab0a0" stroke-width="0.6"/><line x1="113.3" y1="168.05" x2="117.5" y2="168.05" stroke="#eab0a0" stroke-width="0.6"/><line x1="113.3" y1="165.85" x2="117.5" y2="165.85" stroke="#eab0a0" stroke-width="0.6"/><line x1="113.3" y1="163.65" x2="117.5" y2="163.65" stroke="#eab0a0" stroke-width="0.6"/><line x1="127" y1="167" x2="142.5" y2="167" stroke="#5f5f52" stroke-width="1.3"/><path d="M142,167 C143.5,167 144,165.5 144,163 L144.3,155 C144.5,149 148.3,149 148.5,155 L148.8,162 C149,164.5 152,165 156.5,164.2" fill="none" stroke="#e2907c" stroke-width="1.45"/><line x1="144.3" y1="162.0" x2="148.5" y2="162.0" stroke="#eab0a0" stroke-width="0.6"/><line x1="144.3" y1="159.8" x2="148.5" y2="159.8" stroke="#eab0a0" stroke-width="0.6"/><line x1="144.3" y1="157.6" x2="148.5" y2="157.6" stroke="#eab0a0" stroke-width="0.6"/><line x1="144.3" y1="155.4" x2="148.5" y2="155.4" stroke="#eab0a0" stroke-width="0.6"/><line x1="152" y1="175.25" x2="167.5" y2="175.25" stroke="#5f5f52" stroke-width="1.3"/><path d="M167,175.25 C168.5,175.25 169,173.75 169,171.25 L169.3,163.25 C169.5,157.25 173.3,157.25 173.5,163.25 L173.8,170.25 C174,172.75 177,173.25 181.5,172.45" fill="none" stroke="#e2907c" stroke-width="1.45"/><line x1="169.3" y1="170.25" x2="173.5" y2="170.25" stroke="#eab0a0" stroke-width="0.6"/><line x1="169.3" y1="168.05" x2="173.5" y2="168.05" stroke="#eab0a0" stroke-width="0.6"/><line x1="169.3" y1="165.85" x2="173.5" y2="165.85" stroke="#eab0a0" stroke-width="0.6"/><line x1="169.3" y1="163.65" x2="173.5" y2="163.65" stroke="#eab0a0" stroke-width="0.6"/><line x1="101.5" y1="228.4" x2="117.0" y2="228.4" stroke="#5f5f52" stroke-width="1.3"/><path d="M116.5,228.4 C118.0,228.4 118.5,226.9 118.5,224.4 L118.8,216.4 C119.0,210.4 122.8,210.4 123.0,216.4 L123.3,223.4 C123.5,225.9 126.5,226.4 131.0,225.6" fill="none" stroke="#e2907c" stroke-width="1.45"/><line x1="118.8" y1="223.4" x2="123.0" y2="223.4" stroke="#eab0a0" stroke-width="0.6"/><line x1="118.8" y1="221.20000000000002" x2="123.0" y2="221.20000000000002" stroke="#eab0a0" stroke-width="0.6"/><line x1="118.8" y1="219.0" x2="123.0" y2="219.0" stroke="#eab0a0" stroke-width="0.6"/><line x1="118.8" y1="216.8" x2="123.0" y2="216.8" stroke="#eab0a0" stroke-width="0.6"/><line x1="130" y1="234.8" x2="145.5" y2="234.8" stroke="#5f5f52" stroke-width="1.3"/><path d="M145,234.8 C146.5,234.8 147,233.3 147,230.8 L147.3,222.8 C147.5,216.8 151.3,216.8 151.5,222.8 L151.8,229.8 C152,232.3 155,232.8 159.5,232.0" fill="none" stroke="#e2907c" stroke-width="1.45"/><line x1="147.3" y1="229.8" x2="151.5" y2="229.8" stroke="#eab0a0" stroke-width="0.6"/><line x1="147.3" y1="227.60000000000002" x2="151.5" y2="227.60000000000002" stroke="#eab0a0" stroke-width="0.6"/><line x1="147.3" y1="225.4" x2="151.5" y2="225.4" stroke="#eab0a0" stroke-width="0.6"/><line x1="147.3" y1="223.20000000000002" x2="151.5" y2="223.20000000000002" stroke="#eab0a0" stroke-width="0.6"/><line x1="155.6" y1="222" x2="171.1" y2="222" stroke="#5f5f52" stroke-width="1.3"/><path d="M170.6,222 C172.1,222 172.6,220.5 172.6,218 L172.9,210 C173.1,204 176.9,204 177.1,210 L177.4,217 C177.6,219.5 180.6,220 185.1,219.2" fill="none" stroke="#e2907c" stroke-width="1.45"/><line x1="172.9" y1="217.0" x2="177.1" y2="217.0" stroke="#eab0a0" stroke-width="0.6"/><line x1="172.9" y1="214.8" x2="177.1" y2="214.8" stroke="#eab0a0" stroke-width="0.6"/><line x1="172.9" y1="212.6" x2="177.1" y2="212.6" stroke="#eab0a0" stroke-width="0.6"/><line x1="172.9" y1="210.4" x2="177.1" y2="210.4" stroke="#eab0a0" stroke-width="0.6"/><text x="293.3" y="100.9" font-family="Liberation Sans" font-size="18.8" fill="#cf3f4c" stroke="#cf3f4c" stroke-width="0.35" transform="translate(0,-18.2) scale(1,1.18)">c.835T&gt;C PAH</text><text x="459.2" y="114.0" font-family="Liberation Sans" font-size="18.8" fill="#43995c" stroke="#43995c" stroke-width="0.35" transform="translate(0,-22.8) scale(1,1.2)">Wild-type PAH</text><path d="M391,71 Q437,24 487,70" fill="none" stroke="#1e1e1e" stroke-width="2.1"/><polygon points="491.5,76.5 483.5,72.5 489.5,67" fill="#1e1e1e"/><path d="M360.0,288.5 C358.3,289.0 352.9,290.4 350.0,291.5 C347.1,292.6 345.2,293.5 342.5,295.0 C339.8,296.5 336.5,298.5 334.0,300.5 C331.5,302.5 329.7,304.8 327.5,307.0 C325.3,309.2 322.9,311.5 321.0,314.0 C319.1,316.5 317.5,318.5 316.2,322.0 C315.0,325.5 313.6,331.7 313.4,335.0 C313.2,338.3 314.2,339.8 315.0,342.0 C315.8,344.2 316.7,346.2 318.0,348.0 C319.3,349.8 321.1,351.6 323.0,353.0 C324.9,354.4 326.6,355.5 329.4,356.6 C332.2,357.7 335.7,359.0 340.0,359.5 C344.3,360.0 349.2,360.2 355.0,359.5 C360.8,358.8 368.3,357.3 375.0,355.5 C381.7,353.7 388.3,350.8 395.0,348.5 C401.7,346.2 408.3,343.1 415.0,341.5 C421.7,339.9 429.0,339.2 435.0,339.0 C441.0,338.8 447.0,339.6 451.0,340.2 C455.0,340.8 457.7,341.9 459.0,342.3 C462,342 463.5,339.5 460.0,338.3 L460.0,338.3 C458.5,337.9 455.2,336.6 451.0,335.8 C446.8,335.0 441.0,333.5 435.0,333.4 C429.0,333.3 421.7,333.7 415.0,335.0 C408.3,336.3 401.7,338.9 395.0,341.0 C388.3,343.1 381.7,346.0 375.0,347.5 C368.3,349.0 360.4,349.6 355.0,350.0 C349.6,350.4 346.2,350.4 342.5,350.0 C338.8,349.6 335.5,348.4 333.0,347.5 C330.5,346.6 329.1,345.8 327.5,344.4 C325.9,343.0 324.3,340.9 323.5,339.0 C322.7,337.1 322.8,335.2 322.8,333.0 C322.8,330.8 322.8,328.3 323.5,326.0 C324.2,323.7 325.4,321.1 327.0,319.0 C328.6,316.9 330.7,315.3 333.0,313.5 C335.3,311.7 338.2,309.5 341.0,308.0 C343.8,306.5 346.3,305.6 350.0,304.5 C353.7,303.4 360.8,302.0 363.0,301.5Z" fill="#bf827d"/><path d="M370.0,298.0 C367.6,298.9 374.3,305.5 375.3,308.7 C376.3,311.9 375.2,314.9 376.2,317.0 C377.1,319.1 378.4,320.4 381.0,321.5 C383.6,322.6 388.2,322.9 392.0,323.5 C395.8,324.1 400.4,324.9 404.0,325.3 C407.6,325.7 410.6,326.6 413.3,326.0 C416.0,325.4 420.0,323.6 420.0,322.0 C420.0,320.4 416.6,318.4 413.3,316.7 C410.0,315.0 403.9,314.3 400.0,312.0 C396.1,309.7 395.0,305.3 390.0,303.0 C385.0,300.7 372.4,297.1 370.0,298.0Z" fill="#bf827d"/><path d="M497.0,301.0 C498.1,299.6 510.2,297.9 512.5,298.5 C514.8,299.1 518.2,305.3 520.0,307.0 C521.8,308.7 528.2,314.2 530.0,315.5 C531.8,316.8 537.5,319.0 538.0,320.0 C538.5,321.0 536.6,324.9 535.0,325.5 C533.4,326.1 524.4,326.1 522.0,326.0 C519.6,325.9 512.4,325.6 511.0,325.0 C509.6,324.4 508.6,320.5 508.0,320.0 C507.4,319.5 505.7,320.8 505.0,320.0 C504.3,319.2 501.8,313.9 501.0,312.0 C500.2,310.1 495.9,302.4 497.0,301.0Z" fill="#bf827d"/><path d="M507.5,214 C506.5,207 510,203 515.5,203 C521,203 526,207 526,214 Z" fill="#c68880"/><path d="M356.5,290.0 C356.3,286.5 357.0,280.9 358.0,277.0 C359.0,273.1 360.8,269.5 362.5,266.5 C364.2,263.5 365.8,261.6 368.0,259.0 C370.2,256.4 372.5,254.4 376.0,251.0 C379.5,247.6 384.2,242.5 389.0,238.5 C393.8,234.5 399.7,229.9 405.0,227.0 C410.3,224.1 415.2,222.5 421.0,221.2 C426.8,219.9 433.5,219.7 440.0,219.3 C446.5,218.9 453.3,218.4 460.0,218.8 C466.7,219.2 474.7,220.9 480.0,221.5 C485.3,222.1 488.3,222.8 492.0,222.5 C495.7,222.2 499.0,220.6 502.0,219.5 C505.0,218.4 505.8,216.8 510.0,216.0 C514.2,215.2 522.5,214.4 527.5,215.0 C532.5,215.6 535.4,217.4 540.0,219.5 C544.6,221.6 550.4,224.7 555.0,227.5 C559.6,230.3 564.5,234.1 567.5,236.5 C570.5,238.9 571.4,240.0 573.0,242.0 C574.6,244.0 576.3,246.1 577.0,248.5 C577.7,250.9 577.7,254.2 577.0,256.5 C576.3,258.8 575.7,260.6 573.0,262.5 C570.3,264.4 565.0,266.2 561.0,267.8 C557.0,269.4 552.9,270.8 549.0,272.3 C545.1,273.8 541.3,275.4 537.5,277.0 C533.7,278.6 529.0,280.2 526.0,282.0 C523.0,283.8 521.1,285.5 519.5,287.5 C517.9,289.5 517.8,292.1 516.5,294.0 C515.2,295.9 513.8,297.8 512.0,299.0 C510.2,300.2 508.3,300.2 506.0,301.0 C503.7,301.8 499.7,302.6 498.0,304.0 C496.3,305.4 499.0,308.9 496.0,309.5 C493.0,310.1 486.0,307.9 480.0,307.5 C474.0,307.1 466.7,307.0 460.0,307.0 C453.3,307.0 444.8,307.2 440.0,307.5 C435.2,307.8 433.3,307.9 431.0,309.0 C428.7,310.1 429.2,312.9 426.0,314.0 C422.8,315.1 417.2,315.5 412.0,315.5 C406.8,315.5 399.8,314.7 395.0,314.0 C390.2,313.3 386.5,312.4 383.0,311.5 C379.5,310.6 377.0,309.8 374.0,308.5 C371.0,307.2 367.5,305.2 365.0,303.5 C362.5,301.8 360.4,300.2 359.0,298.0 C357.6,295.8 356.7,293.5 356.5,290.0Z" fill="#9c9c9c"/><path d="M445.7,226.0 C450.0,225.7 457.9,226.4 462.0,228.0 C466.1,229.6 470.4,233.7 472.7,236.5 C474.9,239.3 475.9,242.9 477.0,247.0 C478.1,251.1 479.9,258.6 480.0,263.5 C480.1,268.4 478.9,275.9 478.0,280.0 C477.1,284.1 474.9,287.4 474.0,290.5 C473.1,293.6 472.8,299.1 471.7,300.8 C470.6,302.5 467.6,302.9 466.5,302.0 C465.4,301.1 465.7,295.8 464.4,295.0 C463.1,294.2 460.5,297.1 458.0,296.7 C455.5,296.3 450.3,294.7 447.8,292.5 C445.3,290.3 443.1,286.0 441.6,282.0 C440.1,278.0 439.3,269.9 438.0,266.0 C436.7,262.1 434.4,258.6 433.0,256.0 C431.6,253.4 429.2,251.3 428.5,249.0 C427.8,246.7 427.3,243.5 428.0,240.7 C428.7,237.9 430.6,232.5 433.3,230.3 C436.0,228.1 441.4,226.3 445.7,226.0Z" fill="#a36c62" stroke="#9a6058" stroke-width="0.8"/><path d="M438.5,260.5 C444,261 450,261.5 455,260 C463,258 471,255 477.5,251" fill="none" stroke="#8c5048" stroke-width="1.5"/><path d="M453,260.5 L456,267" fill="none" stroke="#8c5048" stroke-width="1.3"/><path d="M457,277 C463,279.5 470,279 476.5,274.5" fill="none" stroke="#8c5048" stroke-width="1.3"/><path d="M495.3,225 C497,219.5 503,218.3 508.5,219.5 C513.5,221.5 515.5,228 515.3,235 C515,241 514,246 509,247 C503,247 498,244 496,238 C495,234 494.8,229 495.3,225 Z" fill="#c8877f"/><path d="M497,227 C498.5,222 503,220.5 507.5,221.5 C511.5,223.5 513,229 512.8,235 C512.5,240 511.5,244 508,244.5 C503,244.5 499,242 497.5,237 C496.8,233.5 496.6,230 497,227 Z" fill="#e2aca4"/><path d="M571,241.5 C575,244 577.5,248 577.2,252 C577,256 575,259 572,260 C573.5,254 573.5,247 571,241.5 Z" fill="#bf9797"/><ellipse cx="544.4" cy="240" rx="4.2" ry="4.5" fill="#141414"/></g></svg></body></html>
